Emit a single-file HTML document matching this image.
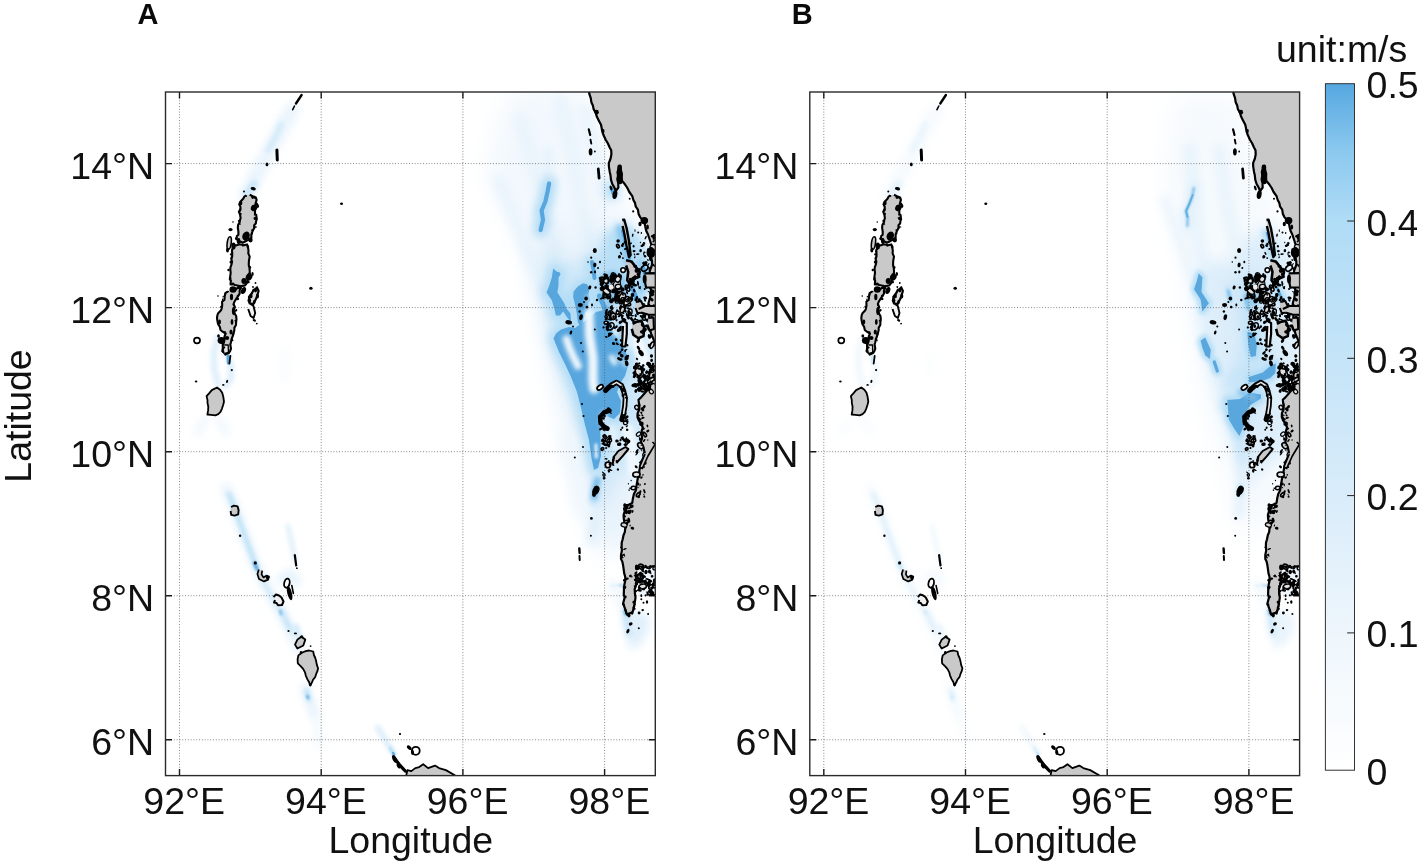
<!DOCTYPE html>
<html lang="en"><head><meta charset="utf-8"><title>Figure</title>
<style>
html,body{margin:0;padding:0;background:#fff;}
body{width:1417px;height:861px;overflow:hidden;}
svg{display:block;font-family:"Liberation Sans",Arial,sans-serif;}
.grid{stroke:#5a5a5a;stroke-width:0.8;stroke-dasharray:0.9 1.9;fill:none;}
.frame{fill:none;stroke:#2a2a2a;stroke-width:1.4;}
.tick{stroke:#1a1a1a;stroke-width:1.4;}
.tl{font-size:37.5px;fill:#111;}
.pl{font-size:29px;font-weight:bold;fill:#0a0a0a;}
.lg{fill:#c9c9c9;stroke:#000;stroke-width:1.8;stroke-linejoin:round;}
.ln{fill:none;stroke:#000;stroke-linecap:round;stroke-linejoin:round;}
.bk{fill:#000;stroke:none;}
</style></head><body>
<svg width="1417" height="861" viewBox="0 0 1417 861">
<defs>
<clipPath id="clipA"><rect x="165.5" y="92.0" width="489.79999999999995" height="683.6"/></clipPath>
<filter id="b07" filterUnits="userSpaceOnUse" x="120" y="50" width="580" height="780"><feGaussianBlur stdDeviation="0.7"/></filter>
<filter id="b1" filterUnits="userSpaceOnUse" x="120" y="50" width="580" height="780"><feGaussianBlur stdDeviation="1.2"/></filter>
<filter id="b2" filterUnits="userSpaceOnUse" x="120" y="50" width="580" height="780"><feGaussianBlur stdDeviation="2.2"/></filter>
<filter id="b4" filterUnits="userSpaceOnUse" x="120" y="50" width="580" height="780"><feGaussianBlur stdDeviation="4"/></filter>
<filter id="b7" filterUnits="userSpaceOnUse" x="120" y="50" width="580" height="780"><feGaussianBlur stdDeviation="7"/></filter>
<filter id="b12" filterUnits="userSpaceOnUse" x="120" y="50" width="580" height="780"><feGaussianBlur stdDeviation="12"/></filter>
<linearGradient id="cb" x1="0" y1="1" x2="0" y2="0">
<stop offset="0" stop-color="#ffffff"/><stop offset="0.2" stop-color="#eef6fc"/><stop offset="0.4" stop-color="#d9ecfa"/>
<stop offset="0.6" stop-color="#c5e4f8"/><stop offset="0.8" stop-color="#b0dcf6"/><stop offset="0.9" stop-color="#8cc9ef"/><stop offset="1" stop-color="#56a8e0"/>
</linearGradient>
</defs>
<rect width="1417" height="861" fill="#fff"/>

<g transform="translate(0,0)">
<g clip-path="url(#clipA)">
<path d="M512.0,88.0 L592.0,88.0 L612.0,160.0 L625.0,200.0 L640.0,230.0 L600.0,250.0 L560.0,250.0 L530.0,262.0 L505.0,215.0 L486.0,170.0 L498.0,122.0Z" fill="#f0f7fd" opacity="0.85" filter="url(#b12)"/>
<path d="M530.0,240.0 L560.0,235.0 L600.0,225.0 L648.0,235.0 L660.0,300.0 L660.0,480.0 L640.0,520.0 L622.0,548.0 L604.0,556.0 L592.0,530.0 L578.0,475.0 L564.0,425.0 L551.0,365.0 L541.0,315.0 L530.0,270.0Z" fill="#e6f2fb" opacity="0.95" filter="url(#b12)"/>
<path d="M520.0,120.0 L535.0,170.0 L548.0,215.0 L556.0,250.0" fill="none" stroke="#d9ecfa" stroke-width="12" stroke-linecap="round" stroke-linejoin="round" opacity="0.35" filter="url(#b4)"/>
<path d="M560.0,100.0 L572.0,150.0 L580.0,200.0 L590.0,240.0" fill="none" stroke="#d9ecfa" stroke-width="12" stroke-linecap="round" stroke-linejoin="round" opacity="0.35" filter="url(#b4)"/>
<path d="M498.0,180.0 L516.0,225.0 L532.0,262.0 L545.0,300.0" fill="none" stroke="#d9ecfa" stroke-width="12" stroke-linecap="round" stroke-linejoin="round" opacity="0.4" filter="url(#b4)"/>
<path d="M585.0,110.0 L598.0,160.0 L606.0,200.0" fill="none" stroke="#d9ecfa" stroke-width="10" stroke-linecap="round" stroke-linejoin="round" opacity="0.4" filter="url(#b4)"/>
<path d="M548.0,150.0 L548.0,165.0 L549.0,180.0" fill="none" stroke="#d9ecfa" stroke-width="6" stroke-linecap="round" stroke-linejoin="round" opacity="0.8" filter="url(#b4)"/>
<path d="M549.0,183.0 L545.0,202.0 L541.0,212.0 L541.0,232.0" fill="none" stroke="#d9ecfa" stroke-width="12" stroke-linecap="round" stroke-linejoin="round" opacity="0.6" filter="url(#b4)"/>
<path d="M548.0,240.0 L560.0,262.0 L585.0,262.0 L600.0,240.0 L625.0,225.0 L650.0,250.0 L658.0,330.0 L652.0,420.0 L640.0,460.0 L615.0,480.0 L603.0,508.0 L594.0,475.0 L582.0,432.0 L567.0,392.0 L552.0,347.0 L545.0,305.0 L546.0,270.0Z" fill="#c5e4f8" opacity="0.7" filter="url(#b7)"/>
<path d="M600.0,470.0 L598.0,495.0 L594.0,520.0 L592.0,540.0" fill="none" stroke="#d9ecfa" stroke-width="10" stroke-linecap="round" stroke-linejoin="round" opacity="0.8" filter="url(#b4)"/>
<path d="M570.0,440.0 L578.0,480.0 L584.0,510.0" fill="none" stroke="#eef6fc" stroke-width="16" stroke-linecap="round" stroke-linejoin="round" opacity="0.9" filter="url(#b7)"/>
<g opacity="0.95" filter="url(#b4)"><path d="M553.2,268.6 L556.9,271.7 L559.5,272.2 L560.6,274.3 L558.5,277.5 L558.5,285.3 L557.4,292.6 L561.6,298.9 L564.7,304.1 L566.3,308.3 L570.5,313.5 L571.0,321.9 L567.4,317.7 L563.2,311.4 L560.0,315.6 L555.9,315.6 L554.3,308.3 L551.7,299.9 L546.5,292.6 L548.5,287.4 L551.7,278.0Z" fill="#b0dcf6" stroke="#b0dcf6" stroke-width="10" stroke-linejoin="round"/><path d="M573.6,291.6 L577.8,286.4 L583.0,283.2 L587.2,284.3 L589.3,289.5 L588.3,294.7 L590.4,299.9 L588.3,304.1 L589.3,309.4 L585.1,313.5 L583.0,321.9 L585.1,328.2 L581.0,328.2 L577.8,321.9 L576.8,313.5 L574.7,303.1 L573.1,296.8Z" fill="#b0dcf6" stroke="#b0dcf6" stroke-width="10" stroke-linejoin="round"/><path d="M553.5,338.6 L556.0,333.5 L561.0,329.5 L569.0,327.0 L575.0,328.0 L582.0,323.0 L590.0,317.0 L596.0,312.0 L604.0,310.0 L609.0,316.0 L612.0,330.0 L618.0,340.0 L623.0,347.0 L627.0,355.0 L628.0,366.0 L625.0,376.0 L621.0,382.0 L617.0,392.0 L621.0,401.0 L620.0,413.0 L614.0,419.0 L606.0,416.0 L600.0,424.0 L600.5,440.0 L601.0,456.0 L598.0,468.0 L594.0,470.0 L591.5,458.0 L589.0,440.0 L585.0,425.0 L581.0,408.0 L577.0,392.0 L571.0,377.0 L565.0,364.0 L559.0,352.0Z" fill="#b0dcf6" stroke="#b0dcf6" stroke-width="10" stroke-linejoin="round"/><path d="M549.1,183.5 L547.5,192.0 L545.4,201.5 L541.6,210.5 L543.0,220.0 L540.6,230.0" fill="none" stroke="#b0dcf6" stroke-width="14.2" stroke-linecap="round" stroke-linejoin="round"/><path d="M599.5,296.0 L603.0,304.0 L606.0,312.0" fill="none" stroke="#b0dcf6" stroke-width="15" stroke-linecap="round" stroke-linejoin="round"/><path d="M592.0,262.0 L593.5,270.0 L594.5,278.0" fill="none" stroke="#b0dcf6" stroke-width="14" stroke-linecap="round" stroke-linejoin="round"/><path d="M622.5,231.0 L626.0,245.0 L629.5,258.0" fill="none" stroke="#b0dcf6" stroke-width="13" stroke-linecap="round" stroke-linejoin="round"/><path d="M643.0,268.0 L646.0,276.0" fill="none" stroke="#b0dcf6" stroke-width="14" stroke-linecap="round" stroke-linejoin="round"/><path d="M631.0,285.0 L636.0,297.0 L640.0,308.0" fill="none" stroke="#b0dcf6" stroke-width="14.5" stroke-linecap="round" stroke-linejoin="round"/><path d="M611.4,188.0 L613.0,193.0" fill="none" stroke="#b0dcf6" stroke-width="13.5" stroke-linecap="round" stroke-linejoin="round"/></g>
<path d="M606.0,232.0 L622.0,226.0 L640.0,236.0 L648.0,262.0 L646.0,296.0 L636.0,312.0 L622.0,306.0 L610.0,286.0 L600.0,262.0Z" fill="#b0dcf6" opacity="0.75" filter="url(#b4)"/>
<path d="M619.0,228.0 L624.0,246.0 L628.0,262.0" fill="none" stroke="#7fc0ea" stroke-width="6" stroke-linecap="round" stroke-linejoin="round" opacity="0.8" filter="url(#b2)"/>
<path d="M640.0,262.0 L645.0,275.0 L641.0,290.0" fill="none" stroke="#8cc9ef" stroke-width="6" stroke-linecap="round" stroke-linejoin="round" opacity="0.8" filter="url(#b2)"/>
<path d="M601.0,274.0 L612.0,270.0 L624.0,276.0 L626.0,290.0 L622.0,302.0 L610.0,304.0 L602.0,298.0 L599.0,286.0Z" fill="#7fc0ea" opacity="0.85" filter="url(#b2)"/>
<path d="M607.0,306.0 L609.0,322.0 L610.0,338.0" fill="none" stroke="#6fb6e6" stroke-width="6" stroke-linecap="round" stroke-linejoin="round" opacity="0.9" filter="url(#b2)"/>
<path d="M617.0,322.0 L618.0,342.0" fill="none" stroke="#7fc0ea" stroke-width="5" stroke-linecap="round" stroke-linejoin="round" opacity="0.85" filter="url(#b2)"/>
<g opacity="1" filter="url(#b07)"><path d="M553.2,268.6 L556.9,271.7 L559.5,272.2 L560.6,274.3 L558.5,277.5 L558.5,285.3 L557.4,292.6 L561.6,298.9 L564.7,304.1 L566.3,308.3 L570.5,313.5 L571.0,321.9 L567.4,317.7 L563.2,311.4 L560.0,315.6 L555.9,315.6 L554.3,308.3 L551.7,299.9 L546.5,292.6 L548.5,287.4 L551.7,278.0Z" fill="#58a6de"/><path d="M573.6,291.6 L577.8,286.4 L583.0,283.2 L587.2,284.3 L589.3,289.5 L588.3,294.7 L590.4,299.9 L588.3,304.1 L589.3,309.4 L585.1,313.5 L583.0,321.9 L585.1,328.2 L581.0,328.2 L577.8,321.9 L576.8,313.5 L574.7,303.1 L573.1,296.8Z" fill="#58a6de"/><path d="M553.5,338.6 L556.0,333.5 L561.0,329.5 L569.0,327.0 L575.0,328.0 L582.0,323.0 L590.0,317.0 L596.0,312.0 L604.0,310.0 L609.0,316.0 L612.0,330.0 L618.0,340.0 L623.0,347.0 L627.0,355.0 L628.0,366.0 L625.0,376.0 L621.0,382.0 L617.0,392.0 L621.0,401.0 L620.0,413.0 L614.0,419.0 L606.0,416.0 L600.0,424.0 L600.5,440.0 L601.0,456.0 L598.0,468.0 L594.0,470.0 L591.5,458.0 L589.0,440.0 L585.0,425.0 L581.0,408.0 L577.0,392.0 L571.0,377.0 L565.0,364.0 L559.0,352.0Z" fill="#58a6de"/><path d="M549.1,183.5 L547.5,192.0 L545.4,201.5 L541.6,210.5 L543.0,220.0 L540.6,230.0" fill="none" stroke="#58a6de" stroke-width="4.2" stroke-linecap="round" stroke-linejoin="round"/><path d="M599.5,296.0 L603.0,304.0 L606.0,312.0" fill="none" stroke="#58a6de" stroke-width="5" stroke-linecap="round" stroke-linejoin="round"/><path d="M592.0,262.0 L593.5,270.0 L594.5,278.0" fill="none" stroke="#58a6de" stroke-width="4" stroke-linecap="round" stroke-linejoin="round"/><path d="M622.5,231.0 L626.0,245.0 L629.5,258.0" fill="none" stroke="#58a6de" stroke-width="3" stroke-linecap="round" stroke-linejoin="round"/><path d="M643.0,268.0 L646.0,276.0" fill="none" stroke="#58a6de" stroke-width="4" stroke-linecap="round" stroke-linejoin="round"/><path d="M631.0,285.0 L636.0,297.0 L640.0,308.0" fill="none" stroke="#58a6de" stroke-width="4.5" stroke-linecap="round" stroke-linejoin="round"/><path d="M611.4,188.0 L613.0,193.0" fill="none" stroke="#58a6de" stroke-width="3.5" stroke-linecap="round" stroke-linejoin="round"/></g>
<g opacity="1" filter="url(#b2)"><path d="M566.5,339.0 L569.5,348.0 L573.5,357.0 L578.0,366.0" fill="none" stroke="#eef7fd" stroke-width="7.5" stroke-linecap="round" stroke-linejoin="round" opacity="1"/><path d="M589.0,313.0 L589.5,335.0 L593.0,358.0 L593.0,381.0 L594.0,389.0" fill="none" stroke="#eef7fd" stroke-width="9.5" stroke-linecap="round" stroke-linejoin="round" opacity="1"/><path d="M611.5,357.0 L614.5,363.0" fill="none" stroke="#eef7fd" stroke-width="5" stroke-linecap="round" stroke-linejoin="round" opacity="1"/><path d="M588.0,296.0 L590.0,310.0" fill="none" stroke="#d0e8f9" stroke-width="3" stroke-linecap="round" stroke-linejoin="round" opacity="1"/><path d="M604.0,414.0 L603.0,422.0" fill="none" stroke="#d8ecfa" stroke-width="6" stroke-linecap="round" stroke-linejoin="round" opacity="1"/><path d="M618.0,356.0 L626.0,366.0" fill="none" stroke="#cfe8f9" stroke-width="3" stroke-linecap="round" stroke-linejoin="round" opacity="1"/></g>
<path d="M613.0,316.0 L616.0,334.0" fill="none" stroke="#e4f2fc" stroke-width="6" stroke-linecap="round" stroke-linejoin="round" opacity="0.9" filter="url(#b2)"/>
<path d="M628.5,326.0 L630.0,345.0" fill="none" stroke="#e4f2fc" stroke-width="5" stroke-linecap="round" stroke-linejoin="round" opacity="0.9" filter="url(#b2)"/>
<path d="M638.0,342.0 L644.0,362.0" fill="none" stroke="#f4fafe" stroke-width="12" stroke-linecap="round" stroke-linejoin="round" opacity="0.95" filter="url(#b2)"/>
<path d="M648.0,300.0 L652.0,340.0" fill="none" stroke="#f4fafe" stroke-width="8" stroke-linecap="round" stroke-linejoin="round" opacity="0.9" filter="url(#b2)"/>
<path d="M628.0,430.0 L634.0,470.0" fill="none" stroke="#f2f9fe" stroke-width="12" stroke-linecap="round" stroke-linejoin="round" opacity="0.9" filter="url(#b2)"/>
<path d="M612.0,428.0 L616.0,446.0" fill="none" stroke="#e8f4fc" stroke-width="7" stroke-linecap="round" stroke-linejoin="round" opacity="0.8" filter="url(#b2)"/>
<path d="M596.0,445.0 L596.3,457.0" fill="none" stroke="#d9ecfa" stroke-width="3.4" stroke-linecap="round" stroke-linejoin="round" opacity="0.95" filter="url(#b1)"/>
<path d="M598.0,476.0 L595.5,488.0 L594.0,500.0" fill="none" stroke="#c5e4f8" stroke-width="11" stroke-linecap="round" stroke-linejoin="round" opacity="0.9" filter="url(#b2)"/>
<path d="M597.5,480.0 L595.5,488.0 L594.5,497.0" fill="none" stroke="#6fb6e6" stroke-width="6" stroke-linecap="round" stroke-linejoin="round" opacity="0.9" filter="url(#b2)"/>
<path d="M623.0,606.0 L630.0,610.0 L640.0,612.0 L650.0,616.0 L648.0,632.0 L640.0,645.0 L630.0,650.0 L626.0,636.0 L622.0,620.0Z" fill="#d9ecfa" opacity="0.8" filter="url(#b4)"/>
<path d="M625.0,610.0 L627.0,622.0 L629.0,634.0" fill="none" stroke="#c5e4f8" stroke-width="6" stroke-linecap="round" stroke-linejoin="round" opacity="0.85" filter="url(#b2)"/>
<path d="M624.8,610.5 L626.0,614.0" fill="none" stroke="#58a6de" stroke-width="3.4" stroke-linecap="round" stroke-linejoin="round" opacity="0.95" filter="url(#b1)"/>
<path d="M612.0,585.4 L623.0,585.4" fill="none" stroke="#c5e4f8" stroke-width="2.4" stroke-linecap="round" stroke-linejoin="round" opacity="0.9" filter="url(#b1)"/>
<path d="M619.0,585.4 L623.0,585.4" fill="none" stroke="#7fc0ea" stroke-width="2.0" stroke-linecap="round" stroke-linejoin="round" opacity="0.9" filter="url(#b1)"/>
<path d="M612.0,585.0 L624.0,596.0 L621.0,604.0" fill="none" stroke="#eef6fc" stroke-width="12" stroke-linecap="round" stroke-linejoin="round" opacity="0.8" filter="url(#b4)"/>
<path d="M246.0,196.0 L258.0,172.0 L270.0,150.0 L282.0,128.0 L292.0,110.0" fill="none" stroke="#d9ecfa" stroke-width="15" stroke-linecap="round" stroke-linejoin="round" opacity="0.55" filter="url(#b4)"/>
<path d="M268.0,150.0 L276.0,136.0 L281.0,124.0" fill="none" stroke="#c5e4f8" stroke-width="6" stroke-linecap="round" stroke-linejoin="round" opacity="0.6" filter="url(#b2)"/>
<path d="M247.0,194.0 L254.0,184.0" fill="none" stroke="#c5e4f8" stroke-width="8" stroke-linecap="round" stroke-linejoin="round" opacity="0.8" filter="url(#b2)"/>
<path d="M218.0,338.0 L214.0,352.0 L214.0,368.0 L218.0,384.0" fill="none" stroke="#d9ecfa" stroke-width="7" stroke-linecap="round" stroke-linejoin="round" opacity="0.8" filter="url(#b2)"/>
<path d="M226.0,352.0 L231.0,366.0 L231.0,378.0 L226.0,386.0" fill="none" stroke="#d9ecfa" stroke-width="6" stroke-linecap="round" stroke-linejoin="round" opacity="0.9" filter="url(#b2)"/>
<path d="M228.3,356.5 L228.6,363.0" fill="none" stroke="#58a6de" stroke-width="3.6" stroke-linecap="round" stroke-linejoin="round" opacity="1.0" filter="url(#b07)"/>
<path d="M205.0,420.0 L198.0,432.0" fill="none" stroke="#eef6fc" stroke-width="8" stroke-linecap="round" stroke-linejoin="round" opacity="0.9" filter="url(#b4)"/>
<path d="M218.0,418.0 L226.0,432.0" fill="none" stroke="#eef6fc" stroke-width="8" stroke-linecap="round" stroke-linejoin="round" opacity="0.9" filter="url(#b4)"/>
<path d="M285.0,350.0 L285.0,380.0" fill="none" stroke="#eef6fc" stroke-width="5" stroke-linecap="round" stroke-linejoin="round" opacity="0.7" filter="url(#b4)"/>
<path d="M226.0,488.0 L234.0,506.0 L246.0,540.0 L256.0,566.0 L268.0,590.0 L281.0,612.0 L292.0,634.0 L300.0,650.0" fill="none" stroke="#d9ecfa" stroke-width="8.5" stroke-linecap="round" stroke-linejoin="round" opacity="0.72" filter="url(#b4)"/>
<path d="M229.0,494.0 L236.0,512.0 L247.0,542.0 L256.0,566.0" fill="none" stroke="#b0dcf6" stroke-width="4.5" stroke-linecap="round" stroke-linejoin="round" opacity="0.85" filter="url(#b2)"/>
<path d="M256.0,566.0 L268.0,590.0 L281.0,612.0 L291.0,632.0" fill="none" stroke="#c5e4f8" stroke-width="3.5" stroke-linecap="round" stroke-linejoin="round" opacity="0.8" filter="url(#b2)"/>
<path d="M254.5,563.0 L257.0,569.0" fill="none" stroke="#58a6de" stroke-width="3.5" stroke-linecap="round" stroke-linejoin="round" opacity="0.95" filter="url(#b1)"/>
<path d="M280.5,611.0 L281.5,614.0" fill="none" stroke="#58a6de" stroke-width="3" stroke-linecap="round" stroke-linejoin="round" opacity="0.8" filter="url(#b1)"/>
<path d="M288.0,526.0 L292.0,545.0 L295.0,560.0" fill="none" stroke="#d9ecfa" stroke-width="5" stroke-linecap="round" stroke-linejoin="round" opacity="0.8" filter="url(#b2)"/>
<path d="M282.0,580.0 L290.0,574.0 L296.0,582.0" fill="none" stroke="#d9ecfa" stroke-width="10" stroke-linecap="round" stroke-linejoin="round" opacity="0.7" filter="url(#b4)"/>
<path d="M305.0,688.0 L310.0,702.0 L315.0,716.0" fill="none" stroke="#d9ecfa" stroke-width="8" stroke-linecap="round" stroke-linejoin="round" opacity="0.8" filter="url(#b4)"/>
<path d="M316.0,722.0 L320.0,745.0" fill="none" stroke="#eef6fc" stroke-width="7" stroke-linecap="round" stroke-linejoin="round" opacity="0.8" filter="url(#b4)"/>
<path d="M306.5,690.0 L309.0,700.0" fill="none" stroke="#b0dcf6" stroke-width="4" stroke-linecap="round" stroke-linejoin="round" opacity="0.9" filter="url(#b2)"/>
<path d="M307.5,696.0 L308.0,698.0" fill="none" stroke="#58a6de" stroke-width="2.6" stroke-linecap="round" stroke-linejoin="round" opacity="0.9" filter="url(#b1)"/>
<path d="M296.0,626.0 L300.0,640.0" fill="none" stroke="#c5e4f8" stroke-width="5" stroke-linecap="round" stroke-linejoin="round" opacity="0.8" filter="url(#b2)"/>
<path d="M283.0,612.0 L290.0,628.0" fill="none" stroke="#c5e4f8" stroke-width="5" stroke-linecap="round" stroke-linejoin="round" opacity="0.7" filter="url(#b2)"/>
<path d="M378.0,728.0 L386.0,741.0 L393.6,753.5" fill="none" stroke="#d9ecfa" stroke-width="6" stroke-linecap="round" stroke-linejoin="round" opacity="0.9" filter="url(#b2)"/>
<path d="M390.0,748.0 L393.8,754.0" fill="none" stroke="#b0dcf6" stroke-width="3" stroke-linecap="round" stroke-linejoin="round" opacity="0.9" filter="url(#b1)"/>
<path d="M393.0,753.0 L394.0,754.5" fill="none" stroke="#58a6de" stroke-width="2.5" stroke-linecap="round" stroke-linejoin="round" opacity="0.9" filter="url(#b07)"/>
<line class="grid" x1="179.5" y1="92.0" x2="179.5" y2="775.6"/>
<line class="grid" x1="321.2" y1="92.0" x2="321.2" y2="775.6"/>
<line class="grid" x1="462.9" y1="92.0" x2="462.9" y2="775.6"/>
<line class="grid" x1="604.6" y1="92.0" x2="604.6" y2="775.6"/>
<line class="grid" x1="165.5" y1="163.6" x2="655.3" y2="163.6"/>
<line class="grid" x1="165.5" y1="307.6" x2="655.3" y2="307.6"/>
<line class="grid" x1="165.5" y1="451.7" x2="655.3" y2="451.7"/>
<line class="grid" x1="165.5" y1="595.7" x2="655.3" y2="595.7"/>
<line class="grid" x1="165.5" y1="739.75" x2="655.3" y2="739.75"/>
<line class="tick" x1="179.5" y1="92.0" x2="179.5" y2="98.5"/>
<line class="tick" x1="179.5" y1="775.6" x2="179.5" y2="769.1"/>
<line class="tick" x1="321.2" y1="92.0" x2="321.2" y2="98.5"/>
<line class="tick" x1="321.2" y1="775.6" x2="321.2" y2="769.1"/>
<line class="tick" x1="462.9" y1="92.0" x2="462.9" y2="98.5"/>
<line class="tick" x1="462.9" y1="775.6" x2="462.9" y2="769.1"/>
<line class="tick" x1="604.6" y1="92.0" x2="604.6" y2="98.5"/>
<line class="tick" x1="604.6" y1="775.6" x2="604.6" y2="769.1"/>
<line class="tick" x1="165.5" y1="163.6" x2="172.0" y2="163.6"/>
<line class="tick" x1="655.3" y1="163.6" x2="648.8" y2="163.6"/>
<line class="tick" x1="165.5" y1="307.6" x2="172.0" y2="307.6"/>
<line class="tick" x1="655.3" y1="307.6" x2="648.8" y2="307.6"/>
<line class="tick" x1="165.5" y1="451.7" x2="172.0" y2="451.7"/>
<line class="tick" x1="655.3" y1="451.7" x2="648.8" y2="451.7"/>
<line class="tick" x1="165.5" y1="595.7" x2="172.0" y2="595.7"/>
<line class="tick" x1="655.3" y1="595.7" x2="648.8" y2="595.7"/>
<line class="tick" x1="165.5" y1="739.75" x2="172.0" y2="739.75"/>
<line class="tick" x1="655.3" y1="739.75" x2="648.8" y2="739.75"/>
<g><path class="lg" d="M588.8,91.0 L589.4,94.2 L590.7,97.9 L591.4,102.2 L592.9,105.5 L593.6,109.1 L595.7,112.6 L596.8,116.6 L598.6,120.2 L601.0,124.8 L601.8,128.8 L602.2,131.4 L603.6,135.3 L605.8,140.0 L607.8,143.3 L609.7,147.5 L611.2,150.3 L611.4,154.4 L610.6,158.5 L608.8,163.1 L608.9,166.6 L609.7,171.7 L610.5,175.3 L611.0,179.8 L612.3,184.0 L614.2,187.3 L615.8,191.0 L618.4,187.5 L618.2,183.0 L617.3,179.3 L618.0,175.7 L617.5,171.9 L620.1,165.8 L620.7,169.8 L621.9,173.6 L621.8,176.8 L621.9,180.6 L624.9,184.3 L627.1,187.5 L629.3,192.0 L632.3,196.2 L633.5,200.2 L635.0,202.9 L635.8,206.7 L637.9,209.6 L638.6,214.0 L640.1,217.1 L644.5,222.4 L645.2,226.4 L646.2,230.7 L648.0,234.5 L650.0,240.5 L651.4,244.8 L652.0,248.8 L650.0,252.0 L651.0,258.0 L652.0,261.2 L652.0,265.0 L649.7,271.0 L650.0,274.6 L649.8,277.9 L650.2,282.1 L649.7,285.0 L651.0,290.0 L650.5,294.2 L650.0,298.0 L648.5,303.0 L648.1,307.8 L649.0,312.0 L649.0,317.7 L648.5,322.0 L649.7,325.7 L650.0,330.0 L651.3,334.2 L653.0,338.0 L654.3,341.4 L657.0,345.0 L656.5,348.5 L656.4,353.4 L656.5,356.6 L656.8,361.5 L657.0,365.0 L652.9,367.4 L650.0,370.0 L649.1,375.5 L648.0,380.0 L649.4,384.5 L650.0,388.0 L646.7,390.9 L644.0,394.0 L641.1,397.4 L638.5,399.7 L639.3,406.6 L639.3,409.6 L637.6,413.2 L637.5,417.0 L638.9,420.5 L641.2,423.7 L642.8,427.5 L641.7,430.9 L641.7,434.6 L642.1,438.3 L641.0,441.5 L642.2,445.1 L643.6,447.8 L644.5,451.9 L643.9,455.7 L642.7,459.1 L641.0,462.0 L640.3,466.1 L639.3,470.7 L639.3,474.8 L637.8,478.1 L637.1,482.2 L636.5,485.9 L635.8,490.5 L633.9,494.1 L632.9,498.4 L632.3,502.7 L628.6,505.0 L626.2,506.2 L625.1,510.1 L623.6,514.9 L623.8,518.8 L624.5,522.5 L625.3,527.1 L624.9,531.9 L623.5,535.2 L622.7,539.3 L621.7,542.6 L621.6,546.8 L621.9,550.5 L621.0,554.9 L621.0,559.0 L622.3,561.4 L623.0,564.7 L623.6,568.9 L624.2,573.4 L625.2,576.8 L625.3,580.3 L624.3,585.2 L623.9,590.5 L623.8,594.5 L624.6,597.7 L623.1,603.5 L625.3,609.3 L626.8,614.4 L632.6,612.2 L634.0,606.4 L634.8,602.4 L635.5,597.7 L634.9,593.0 L634.7,589.0 L636.9,583.2 L636.6,578.8 L635.5,573.1 L638.9,571.3 L641.3,568.7 L646.8,567.9 L651.4,566.5 L657.3,565.8 L657.3,91.0" style="stroke-width:2.2"/>
<path class="lg" d="M249.7,194.8 L252.7,196.2 L255.8,197.4 L256.6,199.9 L255.8,202.8 L255.2,205.3 L256.1,208.4 L255.0,210.1 L255.0,213.7 L256.2,214.8 L256.8,219.2 L256.1,221.1 L255.8,223.5 L254.2,225.3 L254.1,228.2 L252.5,231.4 L251.3,234.6 L251.4,237.5 L248.4,239.9 L245.6,241.2 L242.7,242.7 L239.6,241.3 L236.6,239.2 L236.9,236.0 L238.4,234.8 L238.4,231.5 L237.8,227.8 L238.1,224.8 L239.5,222.7 L240.0,220.0 L240.6,218.2 L240.1,214.8 L238.9,211.6 L240.5,209.5 L240.4,206.8 L239.2,204.4 L240.1,202.0 L243.2,198.7 L244.4,196.5 L246.2,195.3" style="stroke-width:2.1"/>
<path class="lg" d="M234.0,245.3 L236.5,245.4 L239.5,244.2 L240.8,244.5 L243.9,245.2 L247.0,244.4 L248.1,247.7 L248.5,250.8 L248.3,253.4 L249.7,256.6 L249.0,260.2 L248.8,262.8 L248.8,265.4 L249.4,267.6 L249.7,270.6 L249.7,272.7 L247.5,277.5 L247.7,278.9 L247.0,282.8 L245.0,285.4 L241.0,286.2 L237.6,285.6 L235.0,285.0 L233.4,284.3 L230.5,284.5 L230.9,280.7 L229.8,279.3 L230.3,275.6 L230.7,272.9 L230.3,269.1 L230.5,267.1 L231.3,265.2 L232.1,261.8 L231.2,258.4 L232.2,256.2 L232.2,253.1 L232.0,250.0 L233.1,247.9" style="stroke-width:2.1"/>
<path class="lg" d="M230.5,288.8 L232.6,289.0 L236.1,289.1 L237.7,287.7 L241.0,288.0 L239.6,290.2 L239.7,293.5 L238.6,295.4 L236.7,298.1 L234.7,301.2 L233.6,303.9 L234.9,307.2 L233.9,309.6 L234.8,313.8 L236.2,316.1 L236.5,319.5 L236.1,322.1 L236.0,325.0 L234.3,327.9 L234.4,330.0 L233.5,333.6 L232.8,336.0 L231.6,339.0 L231.0,342.2 L230.3,344.4 L231.0,348.7 L230.1,351.0 L228.9,353.1 L225.7,354.4 L222.2,351.0 L222.9,348.6 L222.7,345.5 L224.0,342.2 L224.5,338.7 L224.5,336.4 L225.7,333.5 L222.6,331.7 L220.5,330.0 L219.8,326.8 L218.0,323.9 L217.3,320.4 L217.0,317.9 L217.4,315.1 L218.2,313.2 L221.0,310.2 L221.6,308.8 L222.2,305.4 L222.1,301.6 L224.4,300.0 L224.8,295.6 L225.3,293.2 L227.7,291.7" style="stroke-width:2.1"/>
<path class="lg" d="M217.0,387.5 L220.1,389.7 L222.2,392.8 L223.3,396.8 L224.0,401.5 L223.3,404.5 L222.0,408.6 L220.5,411.9 L218.3,414.1 L215.3,415.4 L211.1,414.8 L207.4,414.5 L208.1,410.4 L208.3,406.7 L207.5,402.9 L207.5,400.1 L206.6,396.2 L209.5,392.9 L211.8,390.1Z" />
<path class="ln" d="M292.7,109.7 L294.5,106.0" stroke-width="1.6"/>
<path class="ln" d="M296.0,103.5 L301.6,95.0" stroke-width="2.4"/>
<path class="ln" d="M276.9,150.0 L277.3,160.0" stroke-width="3"/>
<ellipse class="bk" cx="267.0" cy="164.4" rx="1.4" ry="1.9" />
<ellipse class="bk" cx="253.2" cy="188.7" rx="2.6" ry="1.6" transform="rotate(10 253.2 188.7)" />
<ellipse class="bk" cx="244.0" cy="191.5" rx="1.0" ry="1.0" />
<ellipse class="lg" cx="229.2" cy="243.0" rx="2.0" ry="6.3" transform="rotate(8 229.2 243.0)" style="stroke-width:1.6"/>
<ellipse class="bk" cx="230.5" cy="229.6" rx="2.1" ry="1.7" />
<ellipse class="bk" cx="233.0" cy="222.0" rx="0.8" ry="0.8" />
<ellipse class="bk" cx="218.0" cy="296.0" rx="0.8" ry="0.8" />
<ellipse class="bk" cx="253.5" cy="208.0" rx="2.6" ry="3.2" transform="rotate(20 253.5 208.0)" />
<ellipse class="bk" cx="257.5" cy="206.0" rx="1.6" ry="2.0" />
<ellipse class="bk" cx="246.0" cy="236.0" rx="3.6" ry="4.6" transform="rotate(25 246.0 236.0)" />
<ellipse class="bk" cx="250.5" cy="240.0" rx="2.2" ry="2.4" />
<ellipse class="bk" cx="238.5" cy="241.0" rx="1.8" ry="3.0" />
<ellipse class="bk" cx="233.5" cy="246.0" rx="2.2" ry="3.5" />
<ellipse class="bk" cx="227.5" cy="250.0" rx="1.5" ry="2.5" />
<ellipse class="bk" cx="249.0" cy="277.0" rx="3.2" ry="3.6" transform="rotate(30 249.0 277.0)" />
<ellipse class="bk" cx="244.0" cy="281.0" rx="2.6" ry="3.0" />
<ellipse class="bk" cx="252.5" cy="274.0" rx="1.2" ry="2.0" />
<ellipse class="bk" cx="233.0" cy="289.5" rx="3.5" ry="3.2" />
<ellipse class="bk" cx="243.5" cy="290.5" rx="2.4" ry="3.6" transform="rotate(20 243.5 290.5)" />
<ellipse class="bk" cx="231.5" cy="297.0" rx="1.6" ry="3.2" />
<ellipse class="bk" cx="241.0" cy="203.0" rx="1.3" ry="2.2" />
<ellipse class="bk" cx="240.0" cy="210.0" rx="1.2" ry="1.8" />
<ellipse class="bk" cx="230.8" cy="262.0" rx="1.3" ry="1.6" />
<ellipse class="bk" cx="228.5" cy="270.0" rx="1.2" ry="1.2" />
<ellipse class="bk" cx="233.5" cy="311.0" rx="1.6" ry="4.0" />
<ellipse class="bk" cx="232.0" cy="322.0" rx="1.4" ry="3.0" />
<ellipse class="bk" cx="219.5" cy="322.0" rx="1.5" ry="2.4" />
<ellipse class="bk" cx="221.4" cy="340.5" rx="3.8" ry="3.4" />
<ellipse class="bk" cx="227.0" cy="338.0" rx="2.2" ry="2.0" />
<ellipse class="bk" cx="231.0" cy="332.0" rx="1.6" ry="2.6" />
<ellipse class="bk" cx="218.5" cy="336.0" rx="1.4" ry="1.8" />
<path class="lg" d="M224.2,345.0 L228.2,345.0 L228.4,352.5 L224.6,353.5" style="fill:#e4e4e4;stroke-width:1.3"/>
<path class="lg" d="M256.5,286.5 L258.6,291.0 L256.4,298.0 L253.4,304.0 L249.6,303.4 L249.0,297.0 L252.0,293.0 L254.0,289.0" style="stroke-width:2.2;fill:#ddd"/>
<path class="lg" d="M250.0,303.5 L253.5,306.0 L255.2,313.0 L253.6,318.0 L250.6,316.0 L248.2,309.0" style="stroke-width:1.9;fill:#f4f4f4"/>
<ellipse class="bk" cx="257.5" cy="296.0" rx="1.5" ry="2.5" />
<ellipse class="bk" cx="251.0" cy="296.0" rx="1.6" ry="2.2" />
<ellipse class="bk" cx="255.5" cy="290.0" rx="1.6" ry="2.4" />
<ellipse class="bk" cx="249.3" cy="300.5" rx="1.8" ry="2.4" />
<ellipse class="bk" cx="254.2" cy="302.0" rx="1.3" ry="2.0" />
<ellipse class="bk" cx="255.5" cy="283.0" rx="0.9" ry="0.9" />
<ellipse class="bk" cx="253.0" cy="287.0" rx="0.9" ry="0.9" />
<ellipse class="bk" cx="254.3" cy="320.3" rx="1.7" ry="1.2" transform="rotate(30 254.3 320.3)" />
<ellipse class="bk" cx="256.8" cy="323.6" rx="0.9" ry="0.9" />
<ellipse class="lg" cx="197.0" cy="340.5" rx="3.0" ry="2.8" style="stroke-width:1.7;fill:#fff"/>
<ellipse class="bk" cx="196.1" cy="381.4" rx="1.3" ry="1.0" />
<path class="ln" d="M230.4,356.0 L229.4,363.5" stroke-width="1.8"/>
<ellipse class="bk" cx="231.8" cy="370.1" rx="1.1" ry="1.1" />
<ellipse class="bk" cx="227.1" cy="381.4" rx="1.0" ry="1.6" transform="rotate(20 227.1 381.4)" />
<ellipse class="bk" cx="223.3" cy="384.9" rx="1.2" ry="0.9" />
<path class="lg" d="M231.0,507.0 L234.0,505.6 L237.6,506.4 L238.6,510.0 L238.2,514.4 L234.6,515.6 L231.2,514.8 L230.6,511.0" style="stroke-width:1.9"/>
<ellipse class="bk" cx="240.1" cy="535.7" rx="1.2" ry="1.2" />
<ellipse class="bk" cx="255.3" cy="562.9" rx="1.6" ry="1.6" />
<path class="lg" d="M258.8,569.5 L257.4,574.0 L259.0,579.0 L264.0,581.4 L268.2,579.6 L269.0,576.6 L266.6,575.6 L263.4,577.4 L261.6,574.4 L262.2,570.6" style="stroke-width:1.7"/>
<ellipse class="bk" cx="267.6" cy="577.6" rx="1.8" ry="1.8" />
<path class="ln" d="M294.8,555.0 L296.2,565.5" stroke-width="2.2"/>
<ellipse class="bk" cx="296.9" cy="568.2" rx="0.9" ry="0.9" />
<ellipse class="lg" cx="286.9" cy="583.2" rx="2.7" ry="4.6" transform="rotate(12 286.9 583.2)" style="stroke-width:1.8;fill:#fff"/>
<ellipse class="bk" cx="289.6" cy="593.2" rx="2.3" ry="7.2" transform="rotate(-14 289.6 593.2)" />
<path class="ln" d="M291.8,585.5 L293.4,593.5" stroke-width="1.6"/>
<path class="lg" d="M273.5,597.0 L276.0,594.5 L279.0,595.5 L281.5,597.5 L283.5,601.5 L282.0,605.0 L278.0,605.2 L276.5,603.0 L274.0,602.5 L275.0,600.0" style="stroke-width:2;fill:#f0f0f0"/>
<ellipse class="bk" cx="288.5" cy="631.0" rx="1.1" ry="1.1" />
<ellipse class="bk" cx="295.4" cy="633.4" rx="1.6" ry="0.9" />
<path class="lg" d="M301.3,636.7 L305.3,639.6 L303.3,645.5 L297.4,648.5 L295.0,644.6 L297.4,639.6Z" />
<ellipse class="bk" cx="301.8" cy="636.8" rx="1.5" ry="1.5" />
<ellipse class="bk" cx="310.6" cy="646.1" rx="0.9" ry="0.9" />
<path class="lg" d="M309.2,650.5 L313.2,651.5 L313.9,655.0 L315.3,658.0 L316.2,661.3 L316.9,665.1 L318.1,668.3 L317.4,671.2 L316.2,673.9 L315.2,677.1 L313.0,679.8 L312.0,682.3 L310.2,685.5 L309.0,682.0 L307.3,679.1 L305.7,675.3 L305.1,672.7 L303.3,669.2 L300.9,666.4 L297.8,663.3 L297.6,659.2 L298.4,655.4 L302.3,652.5 L305.7,651.1Z" />
<ellipse class="bk" cx="310.3" cy="684.6" rx="1.4" ry="1.6" />
<ellipse class="bk" cx="301.0" cy="652.2" rx="1.2" ry="1.2" />
<path class="lg" d="M405.9,777.0 L407.4,770.1 L411.3,771.1 L415.3,768.1 L419.2,767.1 L423.2,764.2 L428.1,768.1 L435.0,765.6 L439.0,768.1 L445.9,770.1 L454.8,775.2 L456.0,777.0Z" />
<ellipse class="lg" cx="415.8" cy="750.8" rx="3.9" ry="4.0" style="stroke-width:1.8;fill:#fff"/>
<ellipse class="bk" cx="409.2" cy="747.6" rx="2.8" ry="1.7" transform="rotate(40 409.2 747.6)" />
<ellipse class="bk" cx="412.5" cy="752.5" rx="1.5" ry="2.4" />
<path class="ln" d="M393.6,756.6 L396.6,761.0 L400.0,765.4 L403.0,768.6 L405.2,771.0" stroke-width="3.2"/>
<ellipse class="bk" cx="394.6" cy="759.5" rx="1.8" ry="3.4" transform="rotate(-30 394.6 759.5)" />
<ellipse class="bk" cx="398.6" cy="766.0" rx="1.6" ry="2.8" transform="rotate(-35 398.6 766.0)" />
<ellipse class="bk" cx="400.0" cy="734.0" rx="1.2" ry="1.0" />
<path class="ln" d="M588.8,129.4 L590.2,135.0" stroke-width="2.2"/>
<path class="ln" d="M590.5,139.8 L591.3,143.6" stroke-width="1.9"/>
<ellipse class="bk" cx="590.6" cy="151.8" rx="1.9" ry="3.6" />
<ellipse class="bk" cx="594.9" cy="151.5" rx="0.9" ry="0.9" />
<path class="ln" d="M598.3,169.0 L599.1,178.2" stroke-width="2.8"/>
<path class="ln" d="M619.6,166.8 L619.4,175.0 L620.2,182.0" stroke-width="4.6"/>
<ellipse class="bk" cx="596.6" cy="112.2" rx="2.2" ry="2.4" />
<ellipse class="bk" cx="603.3" cy="131.0" rx="1.2" ry="2.0" />
<ellipse class="bk" cx="614.9" cy="194.6" rx="2.4" ry="4.4" transform="rotate(10 614.9 194.6)" />
<ellipse class="bk" cx="611.0" cy="188.0" rx="1.2" ry="2.6" transform="rotate(-20 611.0 188.0)" />
<ellipse class="bk" cx="629.7" cy="198.8" rx="1.0" ry="1.0" />
<ellipse class="bk" cx="633.2" cy="211.4" rx="1.1" ry="1.1" />
<ellipse class="bk" cx="644.3" cy="220.6" rx="3.8" ry="3.6" />
<ellipse class="bk" cx="640.0" cy="224.0" rx="1.6" ry="2.2" />
<ellipse class="bk" cx="647.5" cy="227.0" rx="1.4" ry="2.6" />
<ellipse class="bk" cx="638.2" cy="232.5" rx="1.0" ry="1.0" />
<path class="lg" d="M622.2,220.0 L624.2,219.6 L626.6,228.0 L628.8,240.0 L630.6,255.0 L629.0,257.0 L626.6,246.0 L624.4,234.0 L622.6,226.0" style="stroke-width:2.4;fill:#d0d0d0"/>
<ellipse class="bk" cx="310.9" cy="288.2" rx="1.7" ry="1.5" />
<ellipse class="bk" cx="341.5" cy="203.7" rx="1.5" ry="1.3" />
<ellipse class="bk" cx="236.0" cy="238.4" rx="1.4" ry="1.0" transform="rotate(119 236.0 238.4)" />
<ellipse class="bk" cx="255.0" cy="214.8" rx="1.2" ry="0.8" transform="rotate(175 255.0 214.8)" />
<ellipse class="bk" cx="254.9" cy="197.7" rx="1.3" ry="0.9" transform="rotate(85 254.9 197.7)" />
<ellipse class="bk" cx="254.8" cy="227.7" rx="0.8" ry="1.0" transform="rotate(55 254.8 227.7)" />
<ellipse class="bk" cx="256.7" cy="204.0" rx="1.2" ry="1.4" transform="rotate(71 256.7 204.0)" />
<ellipse class="bk" cx="252.4" cy="233.5" rx="1.2" ry="0.6" transform="rotate(84 252.4 233.5)" />
<ellipse class="bk" cx="238.9" cy="239.5" rx="1.2" ry="0.6" transform="rotate(102 238.9 239.5)" />
<ellipse class="bk" cx="254.5" cy="207.5" rx="0.7" ry="0.7" transform="rotate(123 254.5 207.5)" />
<ellipse class="bk" cx="238.9" cy="220.9" rx="1.0" ry="1.0" transform="rotate(158 238.9 220.9)" />
<ellipse class="bk" cx="255.9" cy="226.9" rx="1.2" ry="0.6" transform="rotate(15 255.9 226.9)" />
<ellipse class="bk" cx="252.6" cy="197.5" rx="1.4" ry="1.4" transform="rotate(21 252.6 197.5)" />
<ellipse class="bk" cx="239.7" cy="223.9" rx="1.3" ry="0.7" transform="rotate(32 239.7 223.9)" />
<ellipse class="bk" cx="240.6" cy="214.2" rx="1.0" ry="1.4" transform="rotate(25 240.6 214.2)" />
<ellipse class="bk" cx="246.1" cy="195.8" rx="0.7" ry="1.1" transform="rotate(124 246.1 195.8)" />
<ellipse class="bk" cx="252.3" cy="230.0" rx="1.3" ry="0.7" transform="rotate(169 252.3 230.0)" />
<ellipse class="bk" cx="255.0" cy="218.4" rx="1.5" ry="1.4" transform="rotate(57 255.0 218.4)" />
<ellipse class="bk" cx="248.0" cy="246.5" rx="1.2" ry="1.1" transform="rotate(69 248.0 246.5)" />
<ellipse class="bk" cx="232.9" cy="283.6" rx="1.1" ry="1.2" transform="rotate(94 232.9 283.6)" />
<ellipse class="bk" cx="232.2" cy="257.9" rx="0.8" ry="0.7" transform="rotate(146 232.2 257.9)" />
<ellipse class="bk" cx="230.8" cy="278.7" rx="1.1" ry="0.8" transform="rotate(95 230.8 278.7)" />
<ellipse class="bk" cx="247.9" cy="247.5" rx="1.2" ry="0.8" transform="rotate(17 247.9 247.5)" />
<ellipse class="bk" cx="250.2" cy="267.4" rx="1.3" ry="1.0" transform="rotate(72 250.2 267.4)" />
<ellipse class="bk" cx="231.0" cy="254.3" rx="1.1" ry="1.2" transform="rotate(78 231.0 254.3)" />
<ellipse class="bk" cx="238.9" cy="286.4" rx="1.4" ry="1.3" transform="rotate(115 238.9 286.4)" />
<ellipse class="bk" cx="248.4" cy="281.9" rx="1.2" ry="1.4" transform="rotate(123 248.4 281.9)" />
<ellipse class="bk" cx="249.7" cy="273.9" rx="1.4" ry="1.2" transform="rotate(96 249.7 273.9)" />
<ellipse class="bk" cx="233.4" cy="247.8" rx="1.4" ry="1.4" transform="rotate(31 233.4 247.8)" />
<ellipse class="bk" cx="242.9" cy="245.8" rx="0.9" ry="0.8" transform="rotate(123 242.9 245.8)" />
<ellipse class="bk" cx="231.7" cy="251.5" rx="1.2" ry="0.8" transform="rotate(75 231.7 251.5)" />
<ellipse class="bk" cx="247.5" cy="246.1" rx="0.7" ry="1.0" transform="rotate(27 247.5 246.1)" />
<ellipse class="bk" cx="227.9" cy="291.5" rx="1.3" ry="0.8" transform="rotate(14 227.9 291.5)" />
<ellipse class="bk" cx="222.7" cy="343.3" rx="1.5" ry="1.5" transform="rotate(21 222.7 343.3)" />
<ellipse class="bk" cx="239.7" cy="291.2" rx="0.6" ry="0.8" transform="rotate(19 239.7 291.2)" />
<ellipse class="bk" cx="237.9" cy="295.9" rx="1.0" ry="1.3" transform="rotate(130 237.9 295.9)" />
<ellipse class="bk" cx="232.5" cy="340.0" rx="1.4" ry="0.8" transform="rotate(66 232.5 340.0)" />
<ellipse class="bk" cx="224.3" cy="347.4" rx="1.1" ry="0.9" transform="rotate(51 224.3 347.4)" />
<ellipse class="bk" cx="236.1" cy="310.4" rx="1.5" ry="1.1" transform="rotate(128 236.1 310.4)" />
<ellipse class="bk" cx="235.4" cy="320.7" rx="1.0" ry="0.9" transform="rotate(18 235.4 320.7)" />
<ellipse class="bk" cx="222.7" cy="299.7" rx="1.3" ry="0.7" transform="rotate(87 222.7 299.7)" />
<ellipse class="bk" cx="231.4" cy="289.4" rx="1.4" ry="1.3" transform="rotate(53 231.4 289.4)" />
<ellipse class="bk" cx="223.0" cy="351.2" rx="1.4" ry="1.0" transform="rotate(135 223.0 351.2)" />
<ellipse class="bk" cx="240.4" cy="286.8" rx="1.2" ry="1.5" transform="rotate(98 240.4 286.8)" />
<ellipse class="bk" cx="222.9" cy="348.6" rx="1.0" ry="1.2" transform="rotate(116 222.9 348.6)" />
<ellipse class="bk" cx="233.1" cy="334.0" rx="1.2" ry="1.3" transform="rotate(59 233.1 334.0)" />
<ellipse class="bk" cx="224.6" cy="332.2" rx="1.6" ry="0.9" transform="rotate(166 224.6 332.2)" />
<ellipse class="bk" cx="233.3" cy="305.0" rx="0.6" ry="1.2" transform="rotate(157 233.3 305.0)" />
<ellipse class="bk" cx="225.3" cy="294.7" rx="0.9" ry="1.2" transform="rotate(12 225.3 294.7)" />
<ellipse class="bk" cx="236.0" cy="288.8" rx="0.8" ry="1.0" transform="rotate(52 236.0 288.8)" />
<ellipse class="bk" cx="221.2" cy="307.0" rx="1.3" ry="0.9" transform="rotate(45 221.2 307.0)" />
<ellipse class="bk" cx="225.7" cy="354.5" rx="0.9" ry="1.4" transform="rotate(76 225.7 354.5)" />
<ellipse class="bk" cx="237.9" cy="299.0" rx="1.3" ry="1.1" transform="rotate(157 237.9 299.0)" />
<ellipse class="bk" cx="223.1" cy="296.6" rx="0.6" ry="0.9" transform="rotate(44 223.1 296.6)" />
<path class="lg" d="M626.1,260.3 L631.4,261.4 L635.5,266.6 L639.7,271.8 L638.7,277.0 L633.4,279.1 L629.3,283.3 L627.2,280.2 L628.2,271.8 L626.1,265.5" style="stroke-width:2.6"/>
<ellipse class="bk" cx="630.0" cy="283.4" rx="1.2" ry="1.5" transform="rotate(49 630.0 283.4)" />
<ellipse class="bk" cx="636.4" cy="277.0" rx="1.3" ry="1.0" transform="rotate(147 636.4 277.0)" />
<ellipse class="bk" cx="629.5" cy="282.3" rx="1.6" ry="1.5" transform="rotate(106 629.5 282.3)" />
<ellipse class="bk" cx="634.6" cy="277.8" rx="1.6" ry="2.2" transform="rotate(168 634.6 277.8)" />
<ellipse class="bk" cx="632.8" cy="281.0" rx="2.2" ry="2.0" transform="rotate(35 632.8 281.0)" />
<ellipse class="bk" cx="638.2" cy="274.6" rx="2.0" ry="1.5" transform="rotate(59 638.2 274.6)" />
<ellipse class="bk" cx="636.6" cy="270.8" rx="2.1" ry="2.1" transform="rotate(1 636.6 270.8)" />
<ellipse class="bk" cx="638.2" cy="271.4" rx="1.2" ry="1.5" transform="rotate(81 638.2 271.4)" />
<ellipse class="bk" cx="636.1" cy="278.1" rx="1.0" ry="2.1" transform="rotate(77 636.1 278.1)" />
<ellipse class="bk" cx="630.8" cy="279.6" rx="2.2" ry="1.5" transform="rotate(30 630.8 279.6)" />
<ellipse class="bk" cx="631.4" cy="281.3" rx="2.1" ry="1.1" transform="rotate(23 631.4 281.3)" />
<ellipse class="bk" cx="639.1" cy="269.7" rx="1.6" ry="1.8" transform="rotate(53 639.1 269.7)" />
<ellipse class="bk" cx="634.9" cy="266.8" rx="1.7" ry="1.0" transform="rotate(8 634.9 266.8)" />
<ellipse class="bk" cx="636.7" cy="268.7" rx="1.1" ry="1.1" transform="rotate(60 636.7 268.7)" />
<ellipse class="bk" cx="632.4" cy="279.0" rx="1.0" ry="1.3" transform="rotate(83 632.4 279.0)" />
<ellipse class="bk" cx="639.1" cy="276.5" rx="1.7" ry="1.2" transform="rotate(49 639.1 276.5)" />
<ellipse class="bk" cx="629.5" cy="284.7" rx="2.1" ry="2.0" transform="rotate(113 629.5 284.7)" />
<ellipse class="bk" cx="632.9" cy="277.9" rx="1.4" ry="1.1" transform="rotate(33 632.9 277.9)" />
<ellipse class="bk" cx="636.0" cy="266.9" rx="1.1" ry="1.9" transform="rotate(9 636.0 266.9)" />
<ellipse class="bk" cx="635.1" cy="277.5" rx="1.5" ry="1.7" transform="rotate(170 635.1 277.5)" />
<ellipse class="bk" cx="635.2" cy="276.3" rx="1.1" ry="1.1" transform="rotate(147 635.2 276.3)" />
<ellipse class="bk" cx="630.4" cy="281.7" rx="2.1" ry="1.2" transform="rotate(90 630.4 281.7)" />
<ellipse class="lg" cx="623.1" cy="270.1" rx="2.3" ry="2.3" style="stroke-width:1.6;fill:#fff"/>
<path class="lg" d="M636.0,302.0 L641.0,301.0 L643.4,306.0 L642.2,312.4 L637.5,313.2 L635.5,308.0" style="stroke-width:2"/>
<path class="lg" d="M632.6,323.8 L637.0,321.6 L641.3,320.9 L644.2,327.4 L643.5,336.1 L638.4,338.3 L633.3,334.7 L631.8,328.9" style="stroke-width:2.6"/>
<path class="lg" d="M624.0,321.5 L626.8,323.0 L626.8,334.0 L625.4,346.5 L622.0,346.5 L622.6,334.0 L623.0,326.0" style="stroke-width:2.2;fill:#f2f2f2"/>
<ellipse class="bk" cx="624.7" cy="306.6" rx="1.9" ry="2.1" transform="rotate(138 624.7 306.6)" />
<ellipse class="bk" cx="623.4" cy="320.0" rx="1.9" ry="2.3" transform="rotate(177 623.4 320.0)" />
<ellipse class="bk" cx="620.5" cy="315.1" rx="1.8" ry="1.3" transform="rotate(165 620.5 315.1)" />
<ellipse class="bk" cx="621.3" cy="310.5" rx="1.5" ry="1.4" transform="rotate(174 621.3 310.5)" />
<ellipse class="bk" cx="622.4" cy="315.8" rx="1.5" ry="1.0" transform="rotate(164 622.4 315.8)" />
<ellipse class="bk" cx="624.3" cy="309.0" rx="1.4" ry="2.6" transform="rotate(50 624.3 309.0)" />
<ellipse class="bk" cx="624.6" cy="303.2" rx="1.4" ry="2.5" transform="rotate(20 624.6 303.2)" />
<ellipse class="bk" cx="621.6" cy="311.8" rx="1.1" ry="1.3" transform="rotate(166 621.6 311.8)" />
<ellipse class="bk" cx="620.8" cy="308.7" rx="1.6" ry="2.4" transform="rotate(147 620.8 308.7)" />
<ellipse class="bk" cx="622.2" cy="303.1" rx="1.3" ry="1.9" transform="rotate(57 622.2 303.1)" />
<ellipse class="bk" cx="625.9" cy="304.1" rx="1.4" ry="0.9" transform="rotate(143 625.9 304.1)" />
<ellipse class="bk" cx="621.2" cy="315.1" rx="1.1" ry="2.8" transform="rotate(137 621.2 315.1)" />
<ellipse class="bk" cx="624.7" cy="320.3" rx="1.8" ry="1.5" transform="rotate(125 624.7 320.3)" />
<ellipse class="bk" cx="622.3" cy="307.8" rx="1.8" ry="2.1" transform="rotate(140 622.3 307.8)" />
<ellipse class="bk" cx="626.7" cy="363.2" rx="1.8" ry="3.0" transform="rotate(166 626.7 363.2)" />
<ellipse class="bk" cx="621.1" cy="359.5" rx="1.5" ry="1.3" transform="rotate(170 621.1 359.5)" />
<ellipse class="bk" cx="625.9" cy="349.9" rx="1.6" ry="0.7" transform="rotate(156 625.9 349.9)" />
<ellipse class="bk" cx="622.1" cy="349.5" rx="1.3" ry="1.3" transform="rotate(124 622.1 349.5)" />
<ellipse class="bk" cx="619.6" cy="353.0" rx="2.0" ry="1.2" transform="rotate(143 619.6 353.0)" />
<ellipse class="bk" cx="625.2" cy="350.9" rx="1.3" ry="0.8" transform="rotate(91 625.2 350.9)" />
<ellipse class="bk" cx="627.0" cy="356.5" rx="0.9" ry="1.5" transform="rotate(14 627.0 356.5)" />
<ellipse class="bk" cx="626.9" cy="356.6" rx="1.3" ry="2.6" transform="rotate(58 626.9 356.6)" />
<ellipse class="bk" cx="621.5" cy="350.8" rx="1.9" ry="0.6" transform="rotate(143 621.5 350.8)" />
<ellipse class="bk" cx="627.2" cy="345.1" rx="1.4" ry="1.1" transform="rotate(41 627.2 345.1)" />
<ellipse class="bk" cx="625.8" cy="358.9" rx="1.4" ry="1.4" transform="rotate(9 625.8 358.9)" />
<ellipse class="bk" cx="621.7" cy="355.7" rx="2.0" ry="1.7" transform="rotate(30 621.7 355.7)" />
<ellipse class="bk" cx="619.1" cy="358.8" rx="1.5" ry="2.2" transform="rotate(120 619.1 358.8)" />
<ellipse class="bk" cx="627.7" cy="358.2" rx="1.8" ry="0.9" transform="rotate(102 627.7 358.2)" />
<ellipse class="bk" cx="602.5" cy="283.5" rx="0.9" ry="1.8" transform="rotate(85 602.5 283.5)" />
<ellipse class="bk" cx="617.6" cy="286.7" rx="2.1" ry="1.3" transform="rotate(86 617.6 286.7)" />
<ellipse class="bk" cx="612.8" cy="280.6" rx="1.9" ry="1.0" transform="rotate(48 612.8 280.6)" />
<ellipse class="lg" cx="605.0" cy="294.6" rx="3.1" ry="1.9" transform="rotate(90 605.0 294.6)" style="stroke-width:1.7;fill:none"/>
<ellipse class="bk" cx="622.7" cy="289.5" rx="1.9" ry="2.2" transform="rotate(63 622.7 289.5)" />
<ellipse class="bk" cx="613.3" cy="284.8" rx="0.9" ry="1.0" transform="rotate(49 613.3 284.8)" />
<ellipse class="bk" cx="605.4" cy="278.6" rx="1.9" ry="0.8" transform="rotate(113 605.4 278.6)" />
<ellipse class="bk" cx="603.4" cy="282.0" rx="2.2" ry="0.8" transform="rotate(78 603.4 282.0)" />
<ellipse class="bk" cx="607.4" cy="296.6" rx="2.1" ry="1.1" transform="rotate(32 607.4 296.6)" />
<ellipse class="lg" cx="602.7" cy="280.3" rx="2.9" ry="2.6" transform="rotate(105 602.7 280.3)" style="stroke-width:1.5;fill:none"/>
<ellipse class="bk" cx="608.6" cy="295.9" rx="2.2" ry="0.7" transform="rotate(4 608.6 295.9)" />
<ellipse class="bk" cx="605.7" cy="275.1" rx="1.4" ry="2.6" transform="rotate(113 605.7 275.1)" />
<ellipse class="bk" cx="618.6" cy="298.2" rx="1.2" ry="2.6" transform="rotate(170 618.6 298.2)" />
<ellipse class="bk" cx="619.1" cy="285.5" rx="1.5" ry="1.1" transform="rotate(159 619.1 285.5)" />
<ellipse class="lg" cx="606.5" cy="279.6" rx="2.4" ry="3.0" transform="rotate(144 606.5 279.6)" style="stroke-width:1.4;fill:none"/>
<ellipse class="bk" cx="618.3" cy="288.3" rx="1.1" ry="1.1" transform="rotate(35 618.3 288.3)" />
<ellipse class="bk" cx="607.3" cy="282.3" rx="1.9" ry="2.9" transform="rotate(30 607.3 282.3)" />
<ellipse class="bk" cx="610.4" cy="295.2" rx="0.9" ry="2.2" transform="rotate(167 610.4 295.2)" />
<ellipse class="bk" cx="618.3" cy="279.5" rx="2.0" ry="1.4" transform="rotate(40 618.3 279.5)" />
<ellipse class="bk" cx="606.6" cy="287.7" rx="2.2" ry="3.0" transform="rotate(154 606.6 287.7)" />
<ellipse class="bk" cx="613.9" cy="299.2" rx="0.9" ry="2.4" transform="rotate(130 613.9 299.2)" />
<ellipse class="bk" cx="605.1" cy="277.8" rx="2.1" ry="1.6" transform="rotate(140 605.1 277.8)" />
<ellipse class="lg" cx="619.8" cy="293.7" rx="2.8" ry="2.2" transform="rotate(12 619.8 293.7)" style="stroke-width:1.5;fill:#e0e0e0"/>
<ellipse class="bk" cx="613.1" cy="300.3" rx="1.1" ry="2.4" transform="rotate(82 613.1 300.3)" />
<ellipse class="bk" cx="613.8" cy="277.9" rx="1.5" ry="3.3" transform="rotate(2 613.8 277.9)" />
<ellipse class="bk" cx="615.7" cy="294.2" rx="1.3" ry="1.6" transform="rotate(165 615.7 294.2)" />
<ellipse class="bk" cx="608.0" cy="297.5" rx="1.9" ry="1.9" transform="rotate(130 608.0 297.5)" />
<ellipse class="bk" cx="607.2" cy="278.0" rx="1.7" ry="2.4" transform="rotate(118 607.2 278.0)" />
<ellipse class="lg" cx="616.6" cy="285.2" rx="3.5" ry="5.4" transform="rotate(24 616.6 285.2)" style="stroke-width:1.3;fill:#d0d0d0"/>
<ellipse class="bk" cx="609.2" cy="291.0" rx="1.7" ry="2.2" transform="rotate(107 609.2 291.0)" />
<ellipse class="bk" cx="616.4" cy="296.8" rx="1.1" ry="1.1" transform="rotate(161 616.4 296.8)" />
<ellipse class="bk" cx="612.9" cy="278.9" rx="1.8" ry="2.8" transform="rotate(9 612.9 278.9)" />
<ellipse class="bk" cx="611.2" cy="281.2" rx="1.4" ry="2.7" transform="rotate(165 611.2 281.2)" />
<ellipse class="bk" cx="616.6" cy="279.1" rx="1.5" ry="2.1" transform="rotate(49 616.6 279.1)" />
<ellipse class="lg" cx="619.8" cy="299.8" rx="2.4" ry="2.0" transform="rotate(13 619.8 299.8)" style="stroke-width:1.7;fill:#e0e0e0"/>
<ellipse class="bk" cx="611.8" cy="285.5" rx="1.7" ry="2.1" transform="rotate(93 611.8 285.5)" />
<ellipse class="bk" cx="611.1" cy="277.5" rx="2.1" ry="1.6" transform="rotate(67 611.1 277.5)" />
<ellipse class="bk" cx="602.7" cy="286.8" rx="1.8" ry="1.2" transform="rotate(20 602.7 286.8)" />
<ellipse class="bk" cx="613.1" cy="275.2" rx="2.2" ry="1.7" transform="rotate(127 613.1 275.2)" />
<ellipse class="bk" cx="616.5" cy="291.5" rx="2.1" ry="3.0" transform="rotate(169 616.5 291.5)" />
<ellipse class="lg" cx="613.7" cy="277.2" rx="2.0" ry="2.6" transform="rotate(90 613.7 277.2)" style="stroke-width:1.5;fill:none"/>
<ellipse class="bk" cx="612.8" cy="290.8" rx="2.2" ry="0.9" transform="rotate(93 612.8 290.8)" />
<ellipse class="lg" cx="622.4" cy="296.7" rx="2.9" ry="3.9" transform="rotate(32 622.4 296.7)" style="stroke-width:1.8;fill:#e0e0e0"/>
<ellipse class="bk" cx="605.0" cy="291.4" rx="2.2" ry="1.9" transform="rotate(39 605.0 291.4)" />
<ellipse class="bk" cx="618.8" cy="288.0" rx="2.0" ry="2.2" transform="rotate(134 618.8 288.0)" />
<ellipse class="bk" cx="616.7" cy="289.4" rx="2.0" ry="0.8" transform="rotate(160 616.7 289.4)" />
<ellipse class="bk" cx="616.0" cy="297.6" rx="2.2" ry="3.3" transform="rotate(8 616.0 297.6)" />
<ellipse class="bk" cx="609.1" cy="297.1" rx="1.8" ry="0.9" transform="rotate(9 609.1 297.1)" />
<ellipse class="bk" cx="616.6" cy="287.9" rx="2.2" ry="2.0" transform="rotate(105 616.6 287.9)" />
<ellipse class="bk" cx="622.9" cy="294.8" rx="1.2" ry="0.8" transform="rotate(13 622.9 294.8)" />
<ellipse class="bk" cx="621.0" cy="287.9" rx="1.7" ry="1.8" transform="rotate(9 621.0 287.9)" />
<ellipse class="lg" cx="621.6" cy="300.7" rx="3.6" ry="1.7" transform="rotate(126 621.6 300.7)" style="stroke-width:1.4;fill:none"/>
<ellipse class="bk" cx="616.4" cy="287.2" rx="1.1" ry="2.6" transform="rotate(51 616.4 287.2)" />
<ellipse class="bk" cx="618.4" cy="292.7" rx="2.2" ry="1.7" transform="rotate(145 618.4 292.7)" />
<ellipse class="bk" cx="601.7" cy="288.8" rx="2.0" ry="2.3" transform="rotate(156 601.7 288.8)" />
<ellipse class="bk" cx="611.3" cy="288.8" rx="1.1" ry="1.4" transform="rotate(128 611.3 288.8)" />
<ellipse class="bk" cx="604.8" cy="294.6" rx="1.4" ry="1.2" transform="rotate(57 604.8 294.6)" />
<ellipse class="bk" cx="606.6" cy="276.6" rx="2.0" ry="1.6" transform="rotate(114 606.6 276.6)" />
<ellipse class="bk" cx="611.3" cy="300.9" rx="2.3" ry="2.3" transform="rotate(140 611.3 300.9)" />
<ellipse class="bk" cx="603.4" cy="297.1" rx="2.1" ry="1.2" transform="rotate(86 603.4 297.1)" />
<ellipse class="bk" cx="614.8" cy="290.2" rx="1.4" ry="1.6" transform="rotate(145 614.8 290.2)" />
<ellipse class="bk" cx="620.9" cy="276.3" rx="2.0" ry="1.1" transform="rotate(80 620.9 276.3)" />
<ellipse class="lg" cx="606.5" cy="291.4" rx="2.2" ry="3.9" transform="rotate(125 606.5 291.4)" style="stroke-width:1.4;fill:#e0e0e0"/>
<ellipse class="bk" cx="619.1" cy="275.5" rx="1.3" ry="2.6" transform="rotate(175 619.1 275.5)" />
<ellipse class="bk" cx="601.6" cy="284.2" rx="2.0" ry="2.0" transform="rotate(139 601.6 284.2)" />
<ellipse class="bk" cx="605.4" cy="276.5" rx="1.6" ry="1.9" transform="rotate(37 605.4 276.5)" />
<ellipse class="bk" cx="602.1" cy="281.4" rx="1.0" ry="2.4" transform="rotate(154 602.1 281.4)" />
<ellipse class="bk" cx="616.5" cy="275.6" rx="1.5" ry="1.0" transform="rotate(52 616.5 275.6)" />
<ellipse class="bk" cx="616.3" cy="300.8" rx="1.3" ry="1.9" transform="rotate(84 616.3 300.8)" />
<ellipse class="bk" cx="609.0" cy="289.3" rx="2.1" ry="0.7" transform="rotate(118 609.0 289.3)" />
<ellipse class="bk" cx="603.4" cy="288.8" rx="1.5" ry="1.5" transform="rotate(166 603.4 288.8)" />
<ellipse class="bk" cx="613.1" cy="291.7" rx="1.6" ry="2.1" transform="rotate(97 613.1 291.7)" />
<ellipse class="bk" cx="613.6" cy="276.4" rx="1.3" ry="2.7" transform="rotate(34 613.6 276.4)" />
<ellipse class="bk" cx="609.9" cy="297.6" rx="1.8" ry="1.3" transform="rotate(80 609.9 297.6)" />
<ellipse class="bk" cx="601.7" cy="298.3" rx="1.0" ry="1.8" transform="rotate(66 601.7 298.3)" />
<ellipse class="lg" cx="601.6" cy="278.5" rx="2.1" ry="1.1" transform="rotate(9 601.6 278.5)" style="stroke-width:1.7;fill:none"/>
<ellipse class="lg" cx="617.9" cy="279.2" rx="2.6" ry="3.0" transform="rotate(36 617.9 279.2)" style="stroke-width:1.5;fill:#e0e0e0"/>
<ellipse class="lg" cx="618.1" cy="286.5" rx="3.0" ry="2.2" transform="rotate(165 618.1 286.5)" style="stroke-width:1.5;fill:#e0e0e0"/>
<ellipse class="lg" cx="613.2" cy="275.8" rx="3.1" ry="2.3" transform="rotate(100 613.2 275.8)" style="stroke-width:1.2;fill:none"/>
<ellipse class="bk" cx="607.8" cy="287.3" rx="2.2" ry="1.5" transform="rotate(97 607.8 287.3)" />
<ellipse class="lg" cx="611.0" cy="287.0" rx="2.2" ry="2.8" style="stroke:none;fill:#eee"/>
<ellipse class="lg" cx="606.0" cy="281.0" rx="1.6" ry="1.6" style="stroke:none;fill:#ddd"/>
<ellipse class="bk" cx="610.6" cy="326.6" rx="1.3" ry="1.3" transform="rotate(77 610.6 326.6)" />
<ellipse class="bk" cx="611.1" cy="307.2" rx="1.4" ry="1.1" transform="rotate(154 611.1 307.2)" />
<ellipse class="bk" cx="609.1" cy="333.8" rx="1.2" ry="1.0" transform="rotate(127 609.1 333.8)" />
<ellipse class="bk" cx="606.2" cy="314.0" rx="1.1" ry="2.0" transform="rotate(8 606.2 314.0)" />
<ellipse class="bk" cx="611.4" cy="333.8" rx="1.7" ry="0.7" transform="rotate(165 611.4 333.8)" />
<ellipse class="bk" cx="606.7" cy="310.1" rx="1.1" ry="1.4" transform="rotate(55 606.7 310.1)" />
<ellipse class="bk" cx="609.9" cy="312.1" rx="1.2" ry="2.9" transform="rotate(63 609.9 312.1)" />
<ellipse class="bk" cx="606.3" cy="312.2" rx="1.3" ry="1.7" transform="rotate(28 606.3 312.2)" />
<ellipse class="lg" cx="609.3" cy="317.2" rx="2.3" ry="4.4" transform="rotate(103 609.3 317.2)" style="stroke-width:1.4;fill:none"/>
<ellipse class="bk" cx="607.7" cy="329.6" rx="1.1" ry="1.7" transform="rotate(178 607.7 329.6)" />
<ellipse class="bk" cx="609.9" cy="334.4" rx="1.5" ry="1.7" transform="rotate(158 609.9 334.4)" />
<ellipse class="bk" cx="607.0" cy="329.2" rx="1.3" ry="1.2" transform="rotate(34 607.0 329.2)" />
<ellipse class="lg" cx="610.8" cy="326.4" rx="2.8" ry="4.0" transform="rotate(35 610.8 326.4)" style="stroke-width:1.6;fill:none"/>
<ellipse class="bk" cx="610.8" cy="312.6" rx="1.4" ry="1.0" transform="rotate(90 610.8 312.6)" />
<ellipse class="lg" cx="610.7" cy="313.5" rx="2.5" ry="2.6" transform="rotate(15 610.7 313.5)" style="stroke-width:1.3;fill:#d0d0d0"/>
<ellipse class="bk" cx="606.3" cy="336.9" rx="0.9" ry="1.4" transform="rotate(107 606.3 336.9)" />
<ellipse class="bk" cx="609.9" cy="334.7" rx="1.3" ry="2.8" transform="rotate(45 609.9 334.7)" />
<ellipse class="bk" cx="606.6" cy="323.6" rx="1.7" ry="1.6" transform="rotate(21 606.6 323.6)" />
<ellipse class="bk" cx="610.9" cy="313.9" rx="1.9" ry="1.8" transform="rotate(111 610.9 313.9)" />
<ellipse class="bk" cx="611.8" cy="314.9" rx="1.1" ry="1.9" transform="rotate(174 611.8 314.9)" />
<ellipse class="bk" cx="610.5" cy="312.4" rx="1.4" ry="1.0" transform="rotate(39 610.5 312.4)" />
<ellipse class="bk" cx="606.5" cy="317.9" rx="1.1" ry="2.7" transform="rotate(28 606.5 317.9)" />
<ellipse class="bk" cx="611.6" cy="306.7" rx="0.9" ry="1.8" transform="rotate(25 611.6 306.7)" />
<ellipse class="bk" cx="611.6" cy="329.3" rx="1.8" ry="0.5" transform="rotate(125 611.6 329.3)" />
<ellipse class="bk" cx="607.9" cy="324.7" rx="1.3" ry="1.7" transform="rotate(162 607.9 324.7)" />
<ellipse class="bk" cx="611.7" cy="314.5" rx="1.3" ry="0.8" transform="rotate(121 611.7 314.5)" />
<ellipse class="bk" cx="607.3" cy="327.2" rx="1.8" ry="1.7" transform="rotate(36 607.3 327.2)" />
<ellipse class="lg" cx="606.1" cy="322.6" rx="2.0" ry="1.3" transform="rotate(167 606.1 322.6)" style="stroke-width:1.5;fill:#d0d0d0"/>
<ellipse class="bk" cx="610.3" cy="325.4" rx="1.2" ry="1.3" transform="rotate(80 610.3 325.4)" />
<ellipse class="bk" cx="610.7" cy="318.2" rx="1.3" ry="2.3" transform="rotate(35 610.7 318.2)" />
<ellipse class="bk" cx="610.5" cy="317.8" rx="1.7" ry="2.8" transform="rotate(167 610.5 317.8)" />
<ellipse class="bk" cx="610.0" cy="311.6" rx="0.9" ry="1.3" transform="rotate(1 610.0 311.6)" />
<ellipse class="bk" cx="611.7" cy="308.1" rx="1.8" ry="2.0" transform="rotate(125 611.7 308.1)" />
<ellipse class="bk" cx="608.3" cy="322.6" rx="1.0" ry="0.7" transform="rotate(162 608.3 322.6)" />
<ellipse class="bk" cx="613.6" cy="315.2" rx="1.4" ry="1.3" transform="rotate(149 613.6 315.2)" />
<ellipse class="bk" cx="623.0" cy="313.0" rx="1.6" ry="0.8" transform="rotate(21 623.0 313.0)" />
<ellipse class="bk" cx="622.0" cy="317.8" rx="1.1" ry="1.0" transform="rotate(135 622.0 317.8)" />
<ellipse class="lg" cx="617.4" cy="301.3" rx="2.4" ry="1.4" transform="rotate(145 617.4 301.3)" style="stroke-width:1.3;fill:none"/>
<ellipse class="bk" cx="621.2" cy="306.7" rx="1.4" ry="1.9" transform="rotate(140 621.2 306.7)" />
<ellipse class="bk" cx="623.4" cy="300.9" rx="1.6" ry="1.3" transform="rotate(23 623.4 300.9)" />
<ellipse class="bk" cx="624.2" cy="301.7" rx="1.1" ry="1.4" transform="rotate(133 624.2 301.7)" />
<ellipse class="lg" cx="613.3" cy="316.3" rx="2.7" ry="3.2" transform="rotate(171 613.3 316.3)" style="stroke-width:1.8;fill:#e0e0e0"/>
<ellipse class="bk" cx="628.5" cy="317.8" rx="1.5" ry="1.7" transform="rotate(151 628.5 317.8)" />
<ellipse class="bk" cx="618.9" cy="316.3" rx="1.2" ry="1.0" transform="rotate(1 618.9 316.3)" />
<ellipse class="bk" cx="626.7" cy="314.3" rx="1.7" ry="0.9" transform="rotate(97 626.7 314.3)" />
<ellipse class="bk" cx="624.1" cy="310.0" rx="1.0" ry="1.4" transform="rotate(169 624.1 310.0)" />
<ellipse class="bk" cx="621.4" cy="301.4" rx="0.9" ry="1.9" transform="rotate(19 621.4 301.4)" />
<ellipse class="bk" cx="628.5" cy="311.6" rx="1.2" ry="1.6" transform="rotate(5 628.5 311.6)" />
<ellipse class="bk" cx="613.4" cy="316.7" rx="1.2" ry="1.5" transform="rotate(20 613.4 316.7)" />
<ellipse class="lg" cx="628.1" cy="304.5" rx="2.6" ry="1.4" transform="rotate(0 628.1 304.5)" style="stroke-width:1.6;fill:#d0d0d0"/>
<ellipse class="bk" cx="625.4" cy="311.3" rx="1.3" ry="1.4" transform="rotate(19 625.4 311.3)" />
<ellipse class="bk" cx="619.3" cy="300.7" rx="0.7" ry="1.1" transform="rotate(51 619.3 300.7)" />
<ellipse class="bk" cx="628.6" cy="308.5" rx="1.1" ry="1.8" transform="rotate(109 628.6 308.5)" />
<ellipse class="bk" cx="613.8" cy="317.2" rx="1.6" ry="0.9" transform="rotate(98 613.8 317.2)" />
<ellipse class="bk" cx="617.2" cy="310.5" rx="1.1" ry="1.3" transform="rotate(170 617.2 310.5)" />
<ellipse class="bk" cx="620.1" cy="300.1" rx="0.9" ry="1.9" transform="rotate(86 620.1 300.1)" />
<ellipse class="lg" cx="628.3" cy="301.0" rx="2.3" ry="5.2" transform="rotate(48 628.3 301.0)" style="stroke-width:1.4;fill:#e0e0e0"/>
<ellipse class="bk" cx="619.0" cy="300.0" rx="1.3" ry="1.1" transform="rotate(86 619.0 300.0)" />
<ellipse class="lg" cx="622.4" cy="309.8" rx="2.0" ry="3.0" transform="rotate(24 622.4 309.8)" style="stroke-width:1.3;fill:#d0d0d0"/>
<ellipse class="lg" cx="617.6" cy="312.6" rx="1.6" ry="1.5" transform="rotate(105 617.6 312.6)" style="stroke-width:1.6;fill:none"/>
<ellipse class="bk" cx="616.6" cy="320.3" rx="1.3" ry="0.9" transform="rotate(125 616.6 320.3)" />
<ellipse class="bk" cx="614.4" cy="344.1" rx="0.8" ry="1.0" transform="rotate(155 614.4 344.1)" />
<ellipse class="bk" cx="620.4" cy="322.1" rx="0.9" ry="0.9" transform="rotate(55 620.4 322.1)" />
<ellipse class="bk" cx="616.4" cy="326.7" rx="1.6" ry="1.2" transform="rotate(131 616.4 326.7)" />
<ellipse class="bk" cx="613.3" cy="343.5" rx="1.3" ry="1.2" transform="rotate(95 613.3 343.5)" />
<ellipse class="bk" cx="617.0" cy="343.7" rx="0.9" ry="1.8" transform="rotate(140 617.0 343.7)" />
<ellipse class="bk" cx="620.7" cy="322.0" rx="1.4" ry="2.0" transform="rotate(71 620.7 322.0)" />
<ellipse class="bk" cx="620.3" cy="327.8" rx="1.1" ry="2.2" transform="rotate(35 620.3 327.8)" />
<ellipse class="bk" cx="613.6" cy="343.5" rx="1.3" ry="1.7" transform="rotate(131 613.6 343.5)" />
<ellipse class="bk" cx="618.5" cy="330.3" rx="1.5" ry="1.8" transform="rotate(66 618.5 330.3)" />
<ellipse class="bk" cx="621.1" cy="344.9" rx="1.5" ry="1.3" transform="rotate(144 621.1 344.9)" />
<ellipse class="bk" cx="619.9" cy="322.8" rx="1.1" ry="1.2" transform="rotate(101 619.9 322.8)" />
<ellipse class="bk" cx="614.5" cy="327.8" rx="1.7" ry="0.9" transform="rotate(52 614.5 327.8)" />
<ellipse class="bk" cx="620.1" cy="329.0" rx="1.7" ry="2.3" transform="rotate(168 620.1 329.0)" />
<ellipse class="bk" cx="616.1" cy="339.7" rx="1.4" ry="1.4" transform="rotate(176 616.1 339.7)" />
<ellipse class="bk" cx="620.8" cy="340.4" rx="1.0" ry="1.3" transform="rotate(161 620.8 340.4)" />
<ellipse class="bk" cx="617.5" cy="344.1" rx="0.7" ry="1.5" transform="rotate(106 617.5 344.1)" />
<ellipse class="bk" cx="618.7" cy="330.0" rx="1.5" ry="1.6" transform="rotate(96 618.7 330.0)" />
<ellipse class="bk" cx="632.1" cy="295.0" rx="1.4" ry="2.0" transform="rotate(176 632.1 295.0)" />
<ellipse class="bk" cx="633.3" cy="283.8" rx="1.7" ry="1.7" transform="rotate(37 633.3 283.8)" />
<ellipse class="bk" cx="639.5" cy="287.8" rx="1.9" ry="0.7" transform="rotate(50 639.5 287.8)" />
<ellipse class="bk" cx="630.7" cy="283.9" rx="1.5" ry="1.6" transform="rotate(96 630.7 283.9)" />
<ellipse class="bk" cx="635.8" cy="299.9" rx="1.4" ry="1.3" transform="rotate(180 635.8 299.9)" />
<ellipse class="bk" cx="639.8" cy="287.5" rx="0.9" ry="1.6" transform="rotate(26 639.8 287.5)" />
<ellipse class="bk" cx="633.0" cy="295.0" rx="1.9" ry="1.3" transform="rotate(93 633.0 295.0)" />
<ellipse class="lg" cx="627.5" cy="288.1" rx="1.7" ry="3.4" transform="rotate(151 627.5 288.1)" style="stroke-width:1.6;fill:none"/>
<ellipse class="bk" cx="634.2" cy="290.7" rx="1.9" ry="1.2" transform="rotate(67 634.2 290.7)" />
<ellipse class="bk" cx="631.7" cy="286.9" rx="1.3" ry="1.4" transform="rotate(41 631.7 286.9)" />
<ellipse class="bk" cx="628.4" cy="299.7" rx="1.8" ry="1.1" transform="rotate(131 628.4 299.7)" />
<ellipse class="bk" cx="628.8" cy="286.8" rx="1.4" ry="1.3" transform="rotate(141 628.8 286.8)" />
<ellipse class="bk" cx="636.8" cy="297.7" rx="1.8" ry="1.3" transform="rotate(99 636.8 297.7)" />
<ellipse class="bk" cx="631.2" cy="298.6" rx="1.4" ry="1.2" transform="rotate(107 631.2 298.6)" />
<ellipse class="lg" cx="627.6" cy="299.2" rx="2.4" ry="2.7" transform="rotate(148 627.6 299.2)" style="stroke-width:1.3;fill:none"/>
<ellipse class="bk" cx="639.1" cy="299.7" rx="1.7" ry="1.4" transform="rotate(174 639.1 299.7)" />
<ellipse class="bk" cx="627.0" cy="292.6" rx="1.0" ry="1.6" transform="rotate(152 627.0 292.6)" />
<ellipse class="bk" cx="626.5" cy="288.7" rx="1.9" ry="1.3" transform="rotate(113 626.5 288.7)" />
<ellipse class="bk" cx="638.0" cy="283.4" rx="1.0" ry="2.7" transform="rotate(172 638.0 283.4)" />
<ellipse class="bk" cx="634.9" cy="285.2" rx="1.4" ry="2.4" transform="rotate(92 634.9 285.2)" />
<ellipse class="bk" cx="626.7" cy="287.6" rx="1.4" ry="1.9" transform="rotate(98 626.7 287.6)" />
<ellipse class="bk" cx="632.1" cy="299.8" rx="1.2" ry="0.8" transform="rotate(162 632.1 299.8)" />
<ellipse class="bk" cx="628.1" cy="315.7" rx="1.4" ry="2.3" transform="rotate(33 628.1 315.7)" />
<ellipse class="bk" cx="631.1" cy="318.3" rx="1.4" ry="1.2" transform="rotate(122 631.1 318.3)" />
<ellipse class="bk" cx="635.7" cy="315.7" rx="1.1" ry="1.6" transform="rotate(169 635.7 315.7)" />
<ellipse class="bk" cx="632.1" cy="315.8" rx="0.8" ry="2.1" transform="rotate(91 632.1 315.8)" />
<ellipse class="lg" cx="630.3" cy="312.2" rx="1.7" ry="3.2" transform="rotate(8 630.3 312.2)" style="stroke-width:1.4;fill:#e0e0e0"/>
<ellipse class="bk" cx="632.4" cy="319.9" rx="1.4" ry="2.0" transform="rotate(133 632.4 319.9)" />
<ellipse class="bk" cx="629.6" cy="312.9" rx="1.6" ry="2.0" transform="rotate(166 629.6 312.9)" />
<ellipse class="bk" cx="635.1" cy="319.2" rx="1.0" ry="1.4" transform="rotate(0 635.1 319.2)" />
<ellipse class="bk" cx="633.6" cy="321.6" rx="1.5" ry="1.2" transform="rotate(116 633.6 321.6)" />
<ellipse class="bk" cx="637.5" cy="313.9" rx="1.0" ry="1.4" transform="rotate(135 637.5 313.9)" />
<ellipse class="bk" cx="637.0" cy="319.5" rx="1.5" ry="0.6" transform="rotate(2 637.0 319.5)" />
<ellipse class="bk" cx="628.4" cy="312.1" rx="0.9" ry="1.0" transform="rotate(139 628.4 312.1)" />
<ellipse class="bk" cx="621.1" cy="253.4" rx="1.7" ry="0.8" transform="rotate(62 621.1 253.4)" />
<ellipse class="bk" cx="622.9" cy="258.1" rx="0.9" ry="0.9" transform="rotate(168 622.9 258.1)" />
<ellipse class="lg" cx="618.0" cy="246.2" rx="1.8" ry="1.2" transform="rotate(62 618.0 246.2)" style="stroke-width:1.7;fill:#e0e0e0"/>
<ellipse class="bk" cx="625.2" cy="242.6" rx="1.5" ry="0.8" transform="rotate(83 625.2 242.6)" />
<ellipse class="bk" cx="622.3" cy="245.6" rx="1.2" ry="1.5" transform="rotate(134 622.3 245.6)" />
<ellipse class="bk" cx="625.0" cy="241.9" rx="1.0" ry="1.4" transform="rotate(56 625.0 241.9)" />
<ellipse class="bk" cx="625.1" cy="249.0" rx="1.0" ry="1.1" transform="rotate(117 625.1 249.0)" />
<ellipse class="bk" cx="619.5" cy="256.8" rx="1.8" ry="1.5" transform="rotate(117 619.5 256.8)" />
<ellipse class="bk" cx="634.5" cy="254.5" rx="0.7" ry="1.1" transform="rotate(149 634.5 254.5)" />
<ellipse class="bk" cx="634.1" cy="251.1" rx="1.5" ry="1.1" transform="rotate(179 634.1 251.1)" />
<ellipse class="bk" cx="634.8" cy="257.3" rx="1.1" ry="0.7" transform="rotate(111 634.8 257.3)" />
<ellipse class="bk" cx="633.6" cy="246.2" rx="1.1" ry="1.2" transform="rotate(149 633.6 246.2)" />
<ellipse class="bk" cx="644.4" cy="252.5" rx="1.2" ry="0.9" transform="rotate(168 644.4 252.5)" />
<ellipse class="bk" cx="640.6" cy="250.6" rx="1.3" ry="1.7" transform="rotate(6 640.6 250.6)" />
<ellipse class="bk" cx="641.9" cy="245.9" rx="1.2" ry="1.4" transform="rotate(98 641.9 245.9)" />
<ellipse class="bk" cx="640.4" cy="242.5" rx="0.6" ry="0.7" transform="rotate(23 640.4 242.5)" />
<ellipse class="bk" cx="641.4" cy="233.0" rx="1.1" ry="0.7" transform="rotate(96 641.4 233.0)" />
<ellipse class="bk" cx="630.6" cy="243.5" rx="0.8" ry="1.7" transform="rotate(65 630.6 243.5)" />
<ellipse class="bk" cx="631.5" cy="261.7" rx="0.8" ry="1.4" transform="rotate(76 631.5 261.7)" />
<ellipse class="bk" cx="643.7" cy="254.3" rx="1.2" ry="0.6" transform="rotate(87 643.7 254.3)" />
<ellipse class="bk" cx="643.3" cy="244.8" rx="1.4" ry="1.5" transform="rotate(170 643.3 244.8)" />
<ellipse class="bk" cx="632.7" cy="235.2" rx="0.8" ry="1.7" transform="rotate(11 632.7 235.2)" />
<ellipse class="bk" cx="635.0" cy="230.6" rx="1.3" ry="0.5" transform="rotate(86 635.0 230.6)" />
<ellipse class="bk" cx="637.8" cy="254.1" rx="0.8" ry="1.8" transform="rotate(87 637.8 254.1)" />
<ellipse class="bk" cx="594.8" cy="250.5" rx="2.0" ry="2.6" />
<ellipse class="bk" cx="618.1" cy="241.0" rx="1.8" ry="1.8" />
<ellipse class="bk" cx="623.1" cy="244.0" rx="1.2" ry="1.2" />
<ellipse class="bk" cx="591.2" cy="257.7" rx="1.1" ry="1.1" />
<ellipse class="bk" cx="594.8" cy="265.0" rx="1.6" ry="2.4" transform="rotate(10 594.8 265.0)" />
<ellipse class="bk" cx="591.2" cy="272.2" rx="1.2" ry="1.2" />
<ellipse class="bk" cx="595.0" cy="272.0" rx="1.1" ry="1.4" />
<ellipse class="bk" cx="589.8" cy="287.5" rx="1.5" ry="2.0" transform="rotate(20 589.8 287.5)" />
<ellipse class="bk" cx="595.6" cy="287.5" rx="1.2" ry="1.2" />
<ellipse class="bk" cx="586.1" cy="298.4" rx="1.8" ry="2.0" />
<ellipse class="bk" cx="580.3" cy="304.9" rx="2.6" ry="2.0" />
<ellipse class="bk" cx="586.9" cy="307.1" rx="1.3" ry="1.3" />
<ellipse class="bk" cx="584.0" cy="302.0" rx="1.0" ry="1.0" />
<ellipse class="bk" cx="568.7" cy="322.3" rx="3.4" ry="2.2" transform="rotate(10 568.7 322.3)" />
<ellipse class="bk" cx="581.0" cy="317.2" rx="1.8" ry="3.0" transform="rotate(15 581.0 317.2)" />
<ellipse class="bk" cx="579.6" cy="311.5" rx="1.2" ry="1.2" />
<ellipse class="bk" cx="570.9" cy="332.5" rx="1.2" ry="2.0" transform="rotate(20 570.9 332.5)" />
<ellipse class="bk" cx="573.0" cy="326.5" rx="1.0" ry="1.0" />
<ellipse class="bk" cx="594.8" cy="329.6" rx="1.0" ry="1.0" />
<ellipse class="bk" cx="603.5" cy="327.4" rx="1.0" ry="1.2" />
<ellipse class="bk" cx="582.8" cy="351.5" rx="1.0" ry="1.0" />
<ellipse class="bk" cx="592.0" cy="305.0" rx="1.0" ry="1.4" />
<ellipse class="bk" cx="597.0" cy="300.0" rx="1.2" ry="1.2" />
<ellipse class="bk" cx="598.0" cy="268.0" rx="1.0" ry="1.0" />
<ellipse class="bk" cx="600.0" cy="262.0" rx="1.0" ry="1.2" />
<ellipse class="bk" cx="588.0" cy="262.0" rx="0.8" ry="0.8" />
<ellipse class="lg" cx="648.2" cy="279.6" rx="2.7" ry="1.5" transform="rotate(113 648.2 279.6)" style="stroke-width:1.3;fill:#e0e0e0"/>
<ellipse class="bk" cx="651.5" cy="283.0" rx="2.0" ry="1.6" transform="rotate(170 651.5 283.0)" />
<ellipse class="bk" cx="647.7" cy="285.8" rx="0.9" ry="1.1" transform="rotate(178 647.7 285.8)" />
<ellipse class="bk" cx="653.9" cy="240.9" rx="0.9" ry="1.9" transform="rotate(47 653.9 240.9)" />
<ellipse class="bk" cx="646.5" cy="287.5" rx="1.1" ry="1.2" transform="rotate(70 646.5 287.5)" />
<ellipse class="bk" cx="650.7" cy="257.9" rx="1.7" ry="3.3" transform="rotate(179 650.7 257.9)" />
<ellipse class="bk" cx="644.7" cy="289.0" rx="1.0" ry="1.0" transform="rotate(99 644.7 289.0)" />
<ellipse class="lg" cx="654.0" cy="276.2" rx="2.0" ry="1.0" transform="rotate(28 654.0 276.2)" style="stroke-width:1.8;fill:none"/>
<ellipse class="bk" cx="651.9" cy="299.8" rx="1.6" ry="1.8" transform="rotate(139 651.9 299.8)" />
<ellipse class="bk" cx="644.2" cy="263.7" rx="1.7" ry="2.3" transform="rotate(138 644.2 263.7)" />
<ellipse class="bk" cx="645.7" cy="237.7" rx="2.0" ry="0.8" transform="rotate(117 645.7 237.7)" />
<ellipse class="bk" cx="648.8" cy="275.6" rx="2.0" ry="0.5" transform="rotate(132 648.8 275.6)" />
<ellipse class="bk" cx="654.2" cy="236.9" rx="1.8" ry="3.1" transform="rotate(4 654.2 236.9)" />
<ellipse class="bk" cx="650.4" cy="286.6" rx="1.0" ry="1.5" transform="rotate(134 650.4 286.6)" />
<ellipse class="bk" cx="653.8" cy="265.3" rx="0.9" ry="1.8" transform="rotate(148 653.8 265.3)" />
<ellipse class="bk" cx="645.2" cy="297.9" rx="1.4" ry="2.1" transform="rotate(105 645.2 297.9)" />
<ellipse class="bk" cx="648.6" cy="264.2" rx="1.4" ry="0.6" transform="rotate(120 648.6 264.2)" />
<ellipse class="bk" cx="652.3" cy="294.6" rx="1.7" ry="1.9" transform="rotate(74 652.3 294.6)" />
<ellipse class="bk" cx="646.5" cy="279.5" rx="2.1" ry="1.8" transform="rotate(10 646.5 279.5)" />
<ellipse class="bk" cx="650.8" cy="293.1" rx="1.7" ry="1.4" transform="rotate(174 650.8 293.1)" />
<ellipse class="bk" cx="644.1" cy="243.1" rx="1.3" ry="1.0" transform="rotate(37 644.1 243.1)" />
<ellipse class="bk" cx="653.0" cy="236.1" rx="1.3" ry="2.3" transform="rotate(74 653.0 236.1)" />
<ellipse class="bk" cx="650.3" cy="298.6" rx="1.5" ry="1.3" transform="rotate(164 650.3 298.6)" />
<ellipse class="bk" cx="645.7" cy="262.9" rx="1.7" ry="1.9" transform="rotate(56 645.7 262.9)" />
<ellipse class="bk" cx="651.7" cy="291.3" rx="0.9" ry="1.7" transform="rotate(41 651.7 291.3)" />
<ellipse class="bk" cx="649.4" cy="292.0" rx="2.0" ry="0.6" transform="rotate(20 649.4 292.0)" />
<ellipse class="bk" cx="645.3" cy="278.3" rx="1.5" ry="1.2" transform="rotate(170 645.3 278.3)" />
<ellipse class="bk" cx="649.5" cy="268.7" rx="0.9" ry="1.8" transform="rotate(12 649.5 268.7)" />
<ellipse class="bk" cx="648.0" cy="249.2" rx="1.1" ry="0.9" transform="rotate(151 648.0 249.2)" />
<ellipse class="bk" cx="652.4" cy="291.4" rx="2.2" ry="2.0" transform="rotate(3 652.4 291.4)" />
<ellipse class="bk" cx="647.9" cy="260.0" rx="0.8" ry="1.0" transform="rotate(141 647.9 260.0)" />
<ellipse class="lg" cx="653.7" cy="247.3" rx="3.6" ry="2.7" transform="rotate(19 653.7 247.3)" style="stroke-width:1.4;fill:#d0d0d0"/>
<ellipse class="bk" cx="645.1" cy="256.2" rx="1.5" ry="1.2" transform="rotate(37 645.1 256.2)" />
<ellipse class="bk" cx="651.2" cy="248.3" rx="1.7" ry="1.4" transform="rotate(4 651.2 248.3)" />
<ellipse class="bk" cx="647.6" cy="276.1" rx="1.6" ry="2.1" transform="rotate(4 647.6 276.1)" />
<ellipse class="lg" cx="644.7" cy="268.1" rx="2.6" ry="3.7" transform="rotate(55 644.7 268.1)" style="stroke-width:1.7;fill:none"/>
<ellipse class="bk" cx="647.7" cy="274.0" rx="1.4" ry="1.2" transform="rotate(179 647.7 274.0)" />
<ellipse class="bk" cx="650.1" cy="287.8" rx="1.4" ry="0.9" transform="rotate(96 650.1 287.8)" />
<ellipse class="bk" cx="648.5" cy="328.1" rx="0.8" ry="2.5" transform="rotate(152 648.5 328.1)" />
<ellipse class="bk" cx="645.1" cy="330.4" rx="1.7" ry="1.3" transform="rotate(147 645.1 330.4)" />
<ellipse class="bk" cx="652.5" cy="325.1" rx="1.7" ry="1.6" transform="rotate(118 652.5 325.1)" />
<ellipse class="bk" cx="650.1" cy="336.6" rx="1.8" ry="2.3" transform="rotate(44 650.1 336.6)" />
<ellipse class="bk" cx="654.7" cy="327.1" rx="1.7" ry="1.0" transform="rotate(38 654.7 327.1)" />
<ellipse class="lg" cx="643.7" cy="318.0" rx="1.5" ry="2.3" transform="rotate(150 643.7 318.0)" style="stroke-width:1.5;fill:none"/>
<ellipse class="bk" cx="646.2" cy="311.4" rx="1.5" ry="1.3" transform="rotate(86 646.2 311.4)" />
<ellipse class="bk" cx="644.4" cy="306.1" rx="1.8" ry="1.8" transform="rotate(101 644.4 306.1)" />
<ellipse class="bk" cx="647.5" cy="326.0" rx="1.7" ry="2.8" transform="rotate(88 647.5 326.0)" />
<ellipse class="bk" cx="654.6" cy="312.8" rx="1.3" ry="2.7" transform="rotate(49 654.6 312.8)" />
<ellipse class="bk" cx="648.5" cy="328.9" rx="1.3" ry="1.2" transform="rotate(160 648.5 328.9)" />
<ellipse class="bk" cx="650.0" cy="319.6" rx="1.7" ry="1.3" transform="rotate(46 650.0 319.6)" />
<ellipse class="bk" cx="643.9" cy="303.9" rx="1.0" ry="0.9" transform="rotate(172 643.9 303.9)" />
<ellipse class="bk" cx="651.8" cy="317.1" rx="1.2" ry="1.8" transform="rotate(146 651.8 317.1)" />
<ellipse class="bk" cx="645.0" cy="300.3" rx="1.5" ry="1.0" transform="rotate(57 645.0 300.3)" />
<ellipse class="bk" cx="644.6" cy="329.3" rx="1.2" ry="2.4" transform="rotate(82 644.6 329.3)" />
<ellipse class="bk" cx="642.2" cy="316.7" rx="1.3" ry="2.8" transform="rotate(115 642.2 316.7)" />
<ellipse class="bk" cx="644.0" cy="331.8" rx="1.0" ry="0.9" transform="rotate(96 644.0 331.8)" />
<ellipse class="bk" cx="654.3" cy="305.3" rx="1.6" ry="0.8" transform="rotate(22 654.3 305.3)" />
<ellipse class="bk" cx="642.5" cy="325.5" rx="2.1" ry="1.2" transform="rotate(41 642.5 325.5)" />
<ellipse class="bk" cx="646.9" cy="320.1" rx="1.7" ry="1.4" transform="rotate(124 646.9 320.1)" />
<ellipse class="bk" cx="643.9" cy="314.9" rx="1.1" ry="1.4" transform="rotate(138 643.9 314.9)" />
<ellipse class="bk" cx="643.0" cy="332.0" rx="2.1" ry="1.2" transform="rotate(69 643.0 332.0)" />
<ellipse class="bk" cx="644.7" cy="307.6" rx="1.0" ry="1.8" transform="rotate(48 644.7 307.6)" />
<ellipse class="bk" cx="641.7" cy="332.0" rx="1.9" ry="1.6" transform="rotate(32 641.7 332.0)" />
<ellipse class="bk" cx="648.7" cy="335.5" rx="1.5" ry="1.0" transform="rotate(105 648.7 335.5)" />
<ellipse class="bk" cx="644.4" cy="315.7" rx="2.0" ry="1.6" transform="rotate(6 644.4 315.7)" />
<ellipse class="bk" cx="649.4" cy="304.7" rx="0.9" ry="1.1" transform="rotate(144 649.4 304.7)" />
<ellipse class="bk" cx="651.1" cy="307.9" rx="1.0" ry="1.5" transform="rotate(176 651.1 307.9)" />
<ellipse class="bk" cx="652.5" cy="325.8" rx="0.9" ry="1.6" transform="rotate(12 652.5 325.8)" />
<ellipse class="bk" cx="649.3" cy="345.7" rx="1.4" ry="2.0" transform="rotate(159 649.3 345.7)" />
<ellipse class="bk" cx="650.5" cy="343.4" rx="0.7" ry="0.5" transform="rotate(92 650.5 343.4)" />
<ellipse class="bk" cx="653.9" cy="345.1" rx="1.0" ry="1.3" transform="rotate(25 653.9 345.1)" />
<ellipse class="bk" cx="637.0" cy="358.9" rx="1.3" ry="1.0" transform="rotate(56 637.0 358.9)" />
<ellipse class="bk" cx="651.5" cy="356.0" rx="1.6" ry="1.7" transform="rotate(10 651.5 356.0)" />
<ellipse class="bk" cx="639.3" cy="363.4" rx="1.0" ry="1.1" transform="rotate(52 639.3 363.4)" />
<ellipse class="bk" cx="651.6" cy="360.4" rx="1.4" ry="1.7" transform="rotate(14 651.6 360.4)" />
<ellipse class="lg" cx="652.1" cy="345.1" rx="1.6" ry="3.4" transform="rotate(24 652.1 345.1)" style="stroke-width:1.6;fill:#e0e0e0"/>
<ellipse class="bk" cx="638.3" cy="340.7" rx="1.5" ry="2.3" transform="rotate(32 638.3 340.7)" />
<ellipse class="bk" cx="642.3" cy="391.5" rx="1.9" ry="1.1" transform="rotate(8 642.3 391.5)" />
<ellipse class="lg" cx="651.3" cy="391.6" rx="2.4" ry="1.9" transform="rotate(55 651.3 391.6)" style="stroke-width:1.2;fill:#e0e0e0"/>
<ellipse class="bk" cx="634.7" cy="372.1" rx="1.3" ry="1.6" transform="rotate(2 634.7 372.1)" />
<ellipse class="bk" cx="645.0" cy="380.3" rx="1.3" ry="1.2" transform="rotate(38 645.0 380.3)" />
<ellipse class="bk" cx="650.2" cy="379.9" rx="2.0" ry="2.4" transform="rotate(166 650.2 379.9)" />
<ellipse class="bk" cx="635.9" cy="390.9" rx="2.0" ry="1.5" transform="rotate(106 635.9 390.9)" />
<ellipse class="bk" cx="638.0" cy="371.9" rx="1.3" ry="0.9" transform="rotate(109 638.0 371.9)" />
<ellipse class="bk" cx="636.8" cy="364.2" rx="2.0" ry="1.7" transform="rotate(174 636.8 364.2)" />
<ellipse class="bk" cx="634.6" cy="367.8" rx="1.7" ry="1.7" transform="rotate(12 634.6 367.8)" />
<ellipse class="bk" cx="651.7" cy="384.0" rx="1.0" ry="1.8" transform="rotate(65 651.7 384.0)" />
<ellipse class="bk" cx="644.8" cy="390.0" rx="1.3" ry="2.8" transform="rotate(154 644.8 390.0)" />
<ellipse class="bk" cx="651.5" cy="377.9" rx="1.6" ry="0.6" transform="rotate(119 651.5 377.9)" />
<ellipse class="bk" cx="634.1" cy="373.5" rx="2.0" ry="1.1" transform="rotate(38 634.1 373.5)" />
<ellipse class="bk" cx="653.0" cy="370.1" rx="1.1" ry="1.2" transform="rotate(153 653.0 370.1)" />
<ellipse class="bk" cx="638.6" cy="377.1" rx="1.8" ry="2.4" transform="rotate(110 638.6 377.1)" />
<ellipse class="bk" cx="654.4" cy="378.7" rx="2.2" ry="1.6" transform="rotate(135 654.4 378.7)" />
<ellipse class="lg" cx="643.5" cy="386.1" rx="3.0" ry="2.8" transform="rotate(80 643.5 386.1)" style="stroke-width:1.4;fill:none"/>
<ellipse class="bk" cx="641.2" cy="387.7" rx="1.8" ry="2.2" transform="rotate(171 641.2 387.7)" />
<ellipse class="lg" cx="654.1" cy="382.0" rx="3.0" ry="1.7" transform="rotate(17 654.1 382.0)" style="stroke-width:1.3;fill:#d0d0d0"/>
<ellipse class="bk" cx="638.5" cy="389.1" rx="1.3" ry="1.3" transform="rotate(78 638.5 389.1)" />
<ellipse class="bk" cx="648.7" cy="383.9" rx="1.4" ry="2.2" transform="rotate(120 648.7 383.9)" />
<ellipse class="bk" cx="635.2" cy="366.7" rx="1.6" ry="1.7" transform="rotate(136 635.2 366.7)" />
<ellipse class="bk" cx="638.9" cy="383.7" rx="1.4" ry="1.3" transform="rotate(137 638.9 383.7)" />
<ellipse class="bk" cx="653.6" cy="375.1" rx="1.7" ry="1.4" transform="rotate(107 653.6 375.1)" />
<ellipse class="bk" cx="645.5" cy="384.5" rx="1.9" ry="1.3" transform="rotate(156 645.5 384.5)" />
<ellipse class="bk" cx="648.6" cy="364.0" rx="2.1" ry="2.6" transform="rotate(114 648.6 364.0)" />
<ellipse class="lg" cx="652.1" cy="370.3" rx="2.3" ry="2.0" transform="rotate(150 652.1 370.3)" style="stroke-width:1.3;fill:none"/>
<ellipse class="bk" cx="649.7" cy="386.3" rx="2.2" ry="1.6" transform="rotate(100 649.7 386.3)" />
<ellipse class="bk" cx="649.3" cy="381.4" rx="1.0" ry="0.9" transform="rotate(109 649.3 381.4)" />
<ellipse class="lg" cx="640.2" cy="373.9" rx="2.9" ry="3.5" transform="rotate(162 640.2 373.9)" style="stroke-width:1.5;fill:none"/>
<ellipse class="bk" cx="634.9" cy="375.1" rx="1.8" ry="1.9" transform="rotate(13 634.9 375.1)" />
<ellipse class="bk" cx="643.3" cy="365.4" rx="1.3" ry="1.3" transform="rotate(109 643.3 365.4)" />
<ellipse class="bk" cx="639.4" cy="390.4" rx="1.0" ry="1.6" transform="rotate(40 639.4 390.4)" />
<ellipse class="bk" cx="649.5" cy="381.9" rx="1.1" ry="1.9" transform="rotate(76 649.5 381.9)" />
<ellipse class="bk" cx="649.0" cy="377.0" rx="1.5" ry="0.9" transform="rotate(176 649.0 377.0)" />
<ellipse class="bk" cx="646.3" cy="389.4" rx="2.0" ry="1.6" transform="rotate(12 646.3 389.4)" />
<ellipse class="bk" cx="638.4" cy="384.7" rx="2.0" ry="1.6" transform="rotate(63 638.4 384.7)" />
<ellipse class="lg" cx="638.5" cy="371.1" rx="3.1" ry="4.6" transform="rotate(169 638.5 371.1)" style="stroke-width:1.4;fill:#e0e0e0"/>
<ellipse class="bk" cx="654.1" cy="376.1" rx="2.2" ry="1.1" transform="rotate(43 654.1 376.1)" />
<ellipse class="bk" cx="652.9" cy="364.5" rx="1.9" ry="1.3" transform="rotate(105 652.9 364.5)" />
<ellipse class="bk" cx="646.7" cy="372.1" rx="1.9" ry="1.5" transform="rotate(117 646.7 372.1)" />
<ellipse class="lg" cx="635.5" cy="385.3" rx="1.4" ry="1.6" transform="rotate(117 635.5 385.3)" style="stroke-width:1.6;fill:none"/>
<ellipse class="bk" cx="641.3" cy="368.0" rx="2.2" ry="2.5" transform="rotate(97 641.3 368.0)" />
<ellipse class="bk" cx="634.0" cy="385.4" rx="1.8" ry="2.6" transform="rotate(90 634.0 385.4)" />
<ellipse class="bk" cx="648.8" cy="388.2" rx="2.2" ry="0.8" transform="rotate(153 648.8 388.2)" />
<ellipse class="bk" cx="638.1" cy="376.6" rx="1.0" ry="3.0" transform="rotate(167 638.1 376.6)" />
<ellipse class="bk" cx="640.2" cy="381.8" rx="2.2" ry="3.6" transform="rotate(147 640.2 381.8)" />
<ellipse class="bk" cx="644.3" cy="386.8" rx="1.4" ry="3.3" transform="rotate(139 644.3 386.8)" />
<ellipse class="bk" cx="634.1" cy="376.9" rx="1.2" ry="1.4" transform="rotate(109 634.1 376.9)" />
<ellipse class="bk" cx="651.3" cy="370.6" rx="1.2" ry="2.0" transform="rotate(64 651.3 370.6)" />
<ellipse class="bk" cx="640.6" cy="374.8" rx="1.9" ry="0.9" transform="rotate(59 640.6 374.8)" />
<ellipse class="bk" cx="639.3" cy="389.4" rx="2.3" ry="2.4" transform="rotate(110 639.3 389.4)" />
<ellipse class="bk" cx="648.4" cy="387.9" rx="2.2" ry="3.1" transform="rotate(179 648.4 387.9)" />
<ellipse class="bk" cx="645.9" cy="378.2" rx="2.0" ry="2.6" transform="rotate(151 645.9 378.2)" />
<ellipse class="bk" cx="649.3" cy="372.5" rx="1.5" ry="1.7" transform="rotate(78 649.3 372.5)" />
<ellipse class="bk" cx="638.9" cy="366.4" rx="1.8" ry="1.2" transform="rotate(46 638.9 366.4)" />
<ellipse class="bk" cx="649.1" cy="388.5" rx="2.0" ry="2.1" transform="rotate(136 649.1 388.5)" />
<ellipse class="bk" cx="643.9" cy="382.0" rx="1.3" ry="2.0" transform="rotate(40 643.9 382.0)" />
<ellipse class="bk" cx="643.7" cy="369.9" rx="1.4" ry="1.9" transform="rotate(30 643.7 369.9)" />
<ellipse class="bk" cx="640.0" cy="378.7" rx="1.4" ry="1.3" transform="rotate(148 640.0 378.7)" />
<ellipse class="lg" cx="651.0" cy="380.1" rx="1.7" ry="4.0" transform="rotate(57 651.0 380.1)" style="stroke-width:1.8;fill:#e0e0e0"/>
<ellipse class="bk" cx="636.3" cy="368.1" rx="1.6" ry="1.5" transform="rotate(78 636.3 368.1)" />
<ellipse class="bk" cx="647.2" cy="376.0" rx="0.9" ry="1.6" transform="rotate(11 647.2 376.0)" />
<ellipse class="bk" cx="644.2" cy="385.5" rx="2.1" ry="1.8" transform="rotate(89 644.2 385.5)" />
<ellipse class="bk" cx="651.2" cy="368.8" rx="1.3" ry="1.4" transform="rotate(180 651.2 368.8)" />
<ellipse class="bk" cx="651.0" cy="366.5" rx="1.7" ry="1.9" transform="rotate(121 651.0 366.5)" />
<ellipse class="bk" cx="650.3" cy="381.4" rx="1.1" ry="0.9" transform="rotate(122 650.3 381.4)" />
<ellipse class="lg" cx="639.2" cy="367.3" rx="1.8" ry="1.1" transform="rotate(108 639.2 367.3)" style="stroke-width:1.4;fill:#d0d0d0"/>
<ellipse class="bk" cx="644.7" cy="376.6" rx="2.2" ry="2.6" transform="rotate(157 644.7 376.6)" />
<ellipse class="bk" cx="650.0" cy="366.4" rx="1.9" ry="1.8" transform="rotate(46 650.0 366.4)" />
<path class="lg" d="M644.4,273.4 L657.0,273.0 L657.0,287.5 L646.0,287.3 L644.8,281.0" style="stroke-width:2.2"/>
<path class="lg" d="M638.6,309.0 L645.0,306.0 L657.0,306.0 L657.0,315.0 L648.0,314.5 L641.0,312.5" style="stroke-width:2.2"/>
<path class="lg" d="M648.5,318.0 L653.5,317.5 L654.0,329.0 L649.5,330.5 L647.5,325.0" style="stroke-width:2.2"/>
<ellipse class="bk" cx="651.0" cy="252.5" rx="4.5" ry="5.2" />
<ellipse class="bk" cx="644.7" cy="279.0" rx="2.0" ry="4.5" />
<ellipse class="bk" cx="641.0" cy="353.0" rx="2.2" ry="3.6" transform="rotate(-35 641.0 353.0)" />
<ellipse class="bk" cx="638.5" cy="348.0" rx="1.4" ry="2.4" transform="rotate(-35 638.5 348.0)" />
<ellipse class="bk" cx="637.8" cy="415.4" rx="0.6" ry="1.1" transform="rotate(63 637.8 415.4)" />
<ellipse class="bk" cx="642.3" cy="415.3" rx="0.9" ry="1.2" transform="rotate(145 642.3 415.3)" />
<ellipse class="bk" cx="644.2" cy="440.5" rx="0.9" ry="1.8" transform="rotate(37 644.2 440.5)" />
<ellipse class="lg" cx="641.4" cy="423.8" rx="1.5" ry="1.5" transform="rotate(17 641.4 423.8)" style="stroke-width:1.6;fill:none"/>
<ellipse class="bk" cx="644.1" cy="467.2" rx="0.9" ry="0.8" transform="rotate(112 644.1 467.2)" />
<ellipse class="bk" cx="638.2" cy="408.7" rx="1.4" ry="1.5" transform="rotate(158 638.2 408.7)" />
<ellipse class="bk" cx="643.4" cy="428.9" rx="1.6" ry="1.0" transform="rotate(157 643.4 428.9)" />
<ellipse class="lg" cx="645.0" cy="434.8" rx="2.1" ry="1.3" transform="rotate(62 645.0 434.8)" style="stroke-width:1.6;fill:none"/>
<ellipse class="bk" cx="639.4" cy="437.3" rx="0.6" ry="0.6" transform="rotate(85 639.4 437.3)" />
<ellipse class="lg" cx="644.6" cy="454.7" rx="1.8" ry="1.9" transform="rotate(27 644.6 454.7)" style="stroke-width:1.2;fill:#e0e0e0"/>
<ellipse class="bk" cx="636.2" cy="466.8" rx="1.2" ry="1.7" transform="rotate(135 636.2 466.8)" />
<ellipse class="bk" cx="639.9" cy="419.1" rx="1.0" ry="1.7" transform="rotate(120 639.9 419.1)" />
<ellipse class="bk" cx="642.9" cy="409.9" rx="1.4" ry="1.7" transform="rotate(165 642.9 409.9)" />
<ellipse class="bk" cx="637.0" cy="451.1" rx="1.1" ry="2.4" transform="rotate(32 637.0 451.1)" />
<ellipse class="lg" cx="638.6" cy="434.1" rx="2.5" ry="1.7" transform="rotate(143 638.6 434.1)" style="stroke-width:1.2;fill:none"/>
<ellipse class="lg" cx="640.5" cy="445.8" rx="2.3" ry="3.4" transform="rotate(140 640.5 445.8)" style="stroke-width:1.6;fill:#d0d0d0"/>
<ellipse class="bk" cx="647.8" cy="440.0" rx="0.8" ry="0.6" transform="rotate(132 647.8 440.0)" />
<ellipse class="bk" cx="639.8" cy="404.5" rx="0.6" ry="1.9" transform="rotate(166 639.8 404.5)" />
<ellipse class="bk" cx="639.7" cy="439.5" rx="0.8" ry="1.2" transform="rotate(166 639.7 439.5)" />
<ellipse class="bk" cx="647.4" cy="425.9" rx="1.5" ry="0.9" transform="rotate(78 647.4 425.9)" />
<ellipse class="bk" cx="641.6" cy="450.2" rx="0.9" ry="0.5" transform="rotate(3 641.6 450.2)" />
<ellipse class="bk" cx="647.8" cy="431.0" rx="1.1" ry="1.8" transform="rotate(53 647.8 431.0)" />
<ellipse class="bk" cx="641.3" cy="412.7" rx="1.2" ry="1.0" transform="rotate(53 641.3 412.7)" />
<ellipse class="bk" cx="643.0" cy="432.6" rx="0.8" ry="1.9" transform="rotate(53 643.0 432.6)" />
<ellipse class="bk" cx="642.9" cy="417.9" rx="1.0" ry="1.8" transform="rotate(74 642.9 417.9)" />
<ellipse class="bk" cx="637.5" cy="408.5" rx="1.3" ry="1.0" transform="rotate(130 637.5 408.5)" />
<ellipse class="lg" cx="636.7" cy="407.5" rx="2.2" ry="1.8" transform="rotate(55 636.7 407.5)" style="stroke-width:1.4;fill:#e0e0e0"/>
<ellipse class="bk" cx="640.4" cy="438.9" rx="1.5" ry="1.0" transform="rotate(40 640.4 438.9)" />
<ellipse class="bk" cx="639.2" cy="418.3" rx="0.7" ry="2.4" transform="rotate(158 639.2 418.3)" />
<ellipse class="bk" cx="640.8" cy="466.1" rx="0.8" ry="1.1" transform="rotate(141 640.8 466.1)" />
<ellipse class="bk" cx="642.1" cy="408.7" rx="1.4" ry="1.5" transform="rotate(23 642.1 408.7)" />
<ellipse class="bk" cx="644.1" cy="406.9" rx="1.3" ry="2.0" transform="rotate(37 644.1 406.9)" />
<ellipse class="bk" cx="638.9" cy="415.2" rx="1.6" ry="0.6" transform="rotate(11 638.9 415.2)" />
<ellipse class="bk" cx="641.5" cy="445.3" rx="1.5" ry="0.4" transform="rotate(0 641.5 445.3)" />
<ellipse class="bk" cx="636.9" cy="453.6" rx="0.8" ry="2.3" transform="rotate(36 636.9 453.6)" />
<ellipse class="bk" cx="637.6" cy="409.1" rx="1.2" ry="0.6" transform="rotate(3 637.6 409.1)" />
<ellipse class="lg" cx="600.1" cy="387.4" rx="3.4" ry="2.0" transform="rotate(-35 600.1 387.4)" style="stroke-width:1.8;fill:#fff"/>
<path class="ln" d="M605.5,390.5 L608.0,388.0 L611.0,385.4 L616.6,382.4 L621.4,385.5 L623.6,391.0 L625.3,397.9 L624.8,406.0 L623.6,413.5 L621.9,419.5" stroke-width="5.2"/>
<path class="ln" d="M611.0,385.4 L616.6,382.4 L621.4,385.5 L623.6,391.0 L625.3,397.9 L624.8,406.0 L623.6,413.5" stroke-width="1.6" style="stroke:#e8e8e8"/>
<ellipse class="bk" cx="622.9" cy="395.5" rx="1.4" ry="1.4" transform="rotate(169 622.9 395.5)" />
<ellipse class="bk" cx="610.4" cy="385.8" rx="1.1" ry="1.1" transform="rotate(133 610.4 385.8)" />
<ellipse class="bk" cx="623.7" cy="415.6" rx="0.9" ry="1.1" transform="rotate(39 623.7 415.6)" />
<ellipse class="bk" cx="624.1" cy="391.2" rx="1.0" ry="1.7" transform="rotate(126 624.1 391.2)" />
<ellipse class="bk" cx="610.9" cy="386.7" rx="1.2" ry="1.6" transform="rotate(124 610.9 386.7)" />
<ellipse class="bk" cx="622.5" cy="389.6" rx="1.6" ry="1.5" transform="rotate(16 622.5 389.6)" />
<ellipse class="bk" cx="606.0" cy="388.4" rx="1.6" ry="1.4" transform="rotate(25 606.0 388.4)" />
<ellipse class="bk" cx="623.0" cy="388.6" rx="1.1" ry="1.5" transform="rotate(51 623.0 388.6)" />
<ellipse class="bk" cx="621.5" cy="419.2" rx="1.6" ry="1.2" transform="rotate(162 621.5 419.2)" />
<ellipse class="bk" cx="624.9" cy="394.4" rx="1.1" ry="1.3" transform="rotate(147 624.9 394.4)" />
<ellipse class="bk" cx="613.3" cy="386.8" rx="0.9" ry="1.4" transform="rotate(43 613.3 386.8)" />
<ellipse class="bk" cx="611.5" cy="385.7" rx="1.2" ry="1.5" transform="rotate(110 611.5 385.7)" />
<ellipse class="bk" cx="625.5" cy="414.2" rx="0.9" ry="1.6" transform="rotate(27 625.5 414.2)" />
<ellipse class="bk" cx="620.3" cy="387.2" rx="1.0" ry="1.6" transform="rotate(99 620.3 387.2)" />
<ellipse class="bk" cx="626.3" cy="397.9" rx="1.0" ry="1.5" transform="rotate(114 626.3 397.9)" />
<ellipse class="bk" cx="621.2" cy="387.0" rx="1.2" ry="1.5" transform="rotate(54 621.2 387.0)" />
<path class="ln" d="M609.5,410.5 L604.0,412.5 L600.2,417.0 L600.4,422.0 L603.4,426.4 L607.5,428.6" stroke-width="4.6"/>
<ellipse class="bk" cx="604.7" cy="416.2" rx="1.1" ry="1.4" transform="rotate(8 604.7 416.2)" />
<ellipse class="bk" cx="600.7" cy="429.0" rx="1.7" ry="1.3" transform="rotate(145 600.7 429.0)" />
<ellipse class="bk" cx="608.3" cy="409.2" rx="1.8" ry="1.9" transform="rotate(10 608.3 409.2)" />
<ellipse class="bk" cx="599.9" cy="423.4" rx="1.1" ry="1.9" transform="rotate(35 599.9 423.4)" />
<ellipse class="bk" cx="603.6" cy="429.9" rx="1.3" ry="0.6" transform="rotate(38 603.6 429.9)" />
<ellipse class="bk" cx="603.3" cy="418.4" rx="0.8" ry="1.4" transform="rotate(108 603.3 418.4)" />
<ellipse class="bk" cx="603.6" cy="427.7" rx="1.4" ry="1.1" transform="rotate(176 603.6 427.7)" />
<ellipse class="bk" cx="603.7" cy="428.6" rx="1.3" ry="2.2" transform="rotate(10 603.7 428.6)" />
<ellipse class="bk" cx="599.8" cy="416.2" rx="1.7" ry="1.6" transform="rotate(0 599.8 416.2)" />
<ellipse class="bk" cx="608.5" cy="411.1" rx="1.5" ry="1.4" transform="rotate(60 608.5 411.1)" />
<ellipse class="bk" cx="604.1" cy="426.4" rx="1.7" ry="2.1" transform="rotate(69 604.1 426.4)" />
<ellipse class="bk" cx="602.0" cy="414.1" rx="1.4" ry="0.8" transform="rotate(160 602.0 414.1)" />
<ellipse class="bk" cx="610.5" cy="412.8" rx="1.6" ry="0.7" transform="rotate(28 610.5 412.8)" />
<ellipse class="bk" cx="605.4" cy="429.4" rx="1.4" ry="1.2" transform="rotate(60 605.4 429.4)" />
<ellipse class="bk" cx="603.6" cy="418.4" rx="1.3" ry="1.1" transform="rotate(116 603.6 418.4)" />
<ellipse class="bk" cx="602.4" cy="413.5" rx="1.1" ry="1.6" transform="rotate(33 602.4 413.5)" />
<ellipse class="lg" cx="602.4" cy="448.9" rx="1.4" ry="1.1" transform="rotate(146 602.4 448.9)" style="stroke-width:1.6;fill:#e0e0e0"/>
<ellipse class="bk" cx="609.4" cy="439.6" rx="0.9" ry="2.3" transform="rotate(28 609.4 439.6)" />
<ellipse class="bk" cx="606.0" cy="444.5" rx="1.2" ry="1.5" transform="rotate(86 606.0 444.5)" />
<ellipse class="lg" cx="604.9" cy="436.8" rx="2.0" ry="1.3" transform="rotate(46 604.9 436.8)" style="stroke-width:1.8;fill:#d0d0d0"/>
<ellipse class="bk" cx="603.5" cy="444.0" rx="0.8" ry="2.4" transform="rotate(104 603.5 444.0)" />
<ellipse class="lg" cx="606.6" cy="443.0" rx="2.3" ry="3.3" transform="rotate(89 606.6 443.0)" style="stroke-width:1.8;fill:none"/>
<ellipse class="bk" cx="610.9" cy="438.3" rx="1.0" ry="0.9" transform="rotate(147 610.9 438.3)" />
<ellipse class="bk" cx="609.4" cy="436.6" rx="1.6" ry="1.4" transform="rotate(43 609.4 436.6)" />
<ellipse class="bk" cx="604.6" cy="443.1" rx="0.9" ry="0.6" transform="rotate(134 604.6 443.1)" />
<ellipse class="bk" cx="604.9" cy="436.5" rx="1.6" ry="0.7" transform="rotate(88 604.9 436.5)" />
<ellipse class="bk" cx="606.2" cy="448.0" rx="1.0" ry="1.1" transform="rotate(44 606.2 448.0)" />
<ellipse class="bk" cx="602.1" cy="441.1" rx="0.9" ry="1.0" transform="rotate(115 602.1 441.1)" />
<ellipse class="bk" cx="602.1" cy="440.1" rx="1.2" ry="0.8" transform="rotate(138 602.1 440.1)" />
<ellipse class="bk" cx="610.4" cy="436.8" rx="1.8" ry="0.8" transform="rotate(113 610.4 436.8)" />
<ellipse class="bk" cx="607.6" cy="444.3" rx="1.7" ry="0.7" transform="rotate(83 607.6 444.3)" />
<ellipse class="bk" cx="603.0" cy="439.8" rx="1.6" ry="1.3" transform="rotate(32 603.0 439.8)" />
<ellipse class="lg" cx="607.4" cy="440.0" rx="2.2" ry="1.9" transform="rotate(99 607.4 440.0)" style="stroke-width:1.4;fill:#d0d0d0"/>
<ellipse class="bk" cx="607.4" cy="445.5" rx="1.3" ry="0.6" transform="rotate(32 607.4 445.5)" />
<ellipse class="lg" cx="609.2" cy="440.6" rx="2.4" ry="1.7" transform="rotate(159 609.2 440.6)" style="stroke-width:1.4;fill:none"/>
<ellipse class="bk" cx="608.9" cy="446.1" rx="1.4" ry="1.3" transform="rotate(109 608.9 446.1)" />
<ellipse class="bk" cx="627.9" cy="442.1" rx="1.6" ry="1.3" transform="rotate(47 627.9 442.1)" />
<ellipse class="bk" cx="628.7" cy="441.3" rx="1.7" ry="1.9" transform="rotate(7 628.7 441.3)" />
<ellipse class="bk" cx="625.5" cy="444.6" rx="1.5" ry="1.5" transform="rotate(52 625.5 444.6)" />
<ellipse class="bk" cx="624.4" cy="444.7" rx="0.9" ry="0.9" transform="rotate(170 624.4 444.7)" />
<ellipse class="bk" cx="624.9" cy="440.3" rx="1.5" ry="1.5" transform="rotate(138 624.9 440.3)" />
<ellipse class="bk" cx="620.5" cy="440.1" rx="1.1" ry="1.2" transform="rotate(16 620.5 440.1)" />
<ellipse class="bk" cx="622.6" cy="439.2" rx="1.1" ry="1.0" transform="rotate(47 622.6 439.2)" />
<ellipse class="bk" cx="622.3" cy="437.3" rx="1.5" ry="0.9" transform="rotate(170 622.3 437.3)" />
<ellipse class="bk" cx="623.7" cy="439.3" rx="1.1" ry="1.5" transform="rotate(124 623.7 439.3)" />
<ellipse class="bk" cx="624.7" cy="440.8" rx="1.9" ry="1.2" transform="rotate(26 624.7 440.8)" />
<ellipse class="bk" cx="626.9" cy="440.9" rx="1.0" ry="2.7" transform="rotate(40 626.9 440.9)" />
<ellipse class="bk" cx="619.2" cy="444.2" rx="1.8" ry="2.3" transform="rotate(82 619.2 444.2)" />
<ellipse class="bk" cx="627.1" cy="443.9" rx="0.9" ry="2.0" transform="rotate(34 627.1 443.9)" />
<ellipse class="bk" cx="626.7" cy="438.9" rx="0.8" ry="1.9" transform="rotate(165 626.7 438.9)" />
<ellipse class="bk" cx="617.0" cy="441.1" rx="1.5" ry="1.8" transform="rotate(94 617.0 441.1)" />
<ellipse class="bk" cx="626.0" cy="440.3" rx="1.4" ry="1.8" transform="rotate(138 626.0 440.3)" />
<ellipse class="bk" cx="622.3" cy="438.2" rx="0.9" ry="2.2" transform="rotate(97 622.3 438.2)" />
<ellipse class="bk" cx="626.6" cy="439.4" rx="1.4" ry="1.2" transform="rotate(56 626.6 439.4)" />
<ellipse class="bk" cx="627.6" cy="419.8" rx="0.9" ry="0.8" transform="rotate(58 627.6 419.8)" />
<ellipse class="lg" cx="625.5" cy="422.8" rx="2.1" ry="1.8" transform="rotate(159 625.5 422.8)" style="stroke-width:1.2;fill:none"/>
<ellipse class="bk" cx="627.1" cy="421.6" rx="1.5" ry="1.2" transform="rotate(172 627.1 421.6)" />
<ellipse class="bk" cx="620.9" cy="429.8" rx="1.0" ry="1.0" transform="rotate(55 620.9 429.8)" />
<ellipse class="bk" cx="626.8" cy="417.0" rx="1.5" ry="1.9" transform="rotate(61 626.8 417.0)" />
<ellipse class="bk" cx="622.3" cy="427.7" rx="1.2" ry="1.0" transform="rotate(122 622.3 427.7)" />
<ellipse class="bk" cx="626.8" cy="426.2" rx="1.3" ry="0.8" transform="rotate(132 626.8 426.2)" />
<ellipse class="bk" cx="626.1" cy="420.7" rx="1.4" ry="0.9" transform="rotate(87 626.1 420.7)" />
<ellipse class="bk" cx="627.2" cy="429.8" rx="1.3" ry="1.2" transform="rotate(26 627.2 429.8)" />
<ellipse class="lg" cx="624.4" cy="419.4" rx="1.8" ry="1.5" transform="rotate(120 624.4 419.4)" style="stroke-width:1.3;fill:none"/>
<path class="lg" d="M612.5,465.5 L613.6,457.0 L618.4,451.0 L625.6,447.0 L628.4,449.0 L622.4,456.4 L616.4,463.0" style="stroke-width:2"/>
<ellipse class="lg" cx="607.9" cy="464.9" rx="2.6" ry="2.8" style="stroke-width:1.8;fill:#fff"/>
<ellipse class="bk" cx="606.1" cy="458.8" rx="1.5" ry="0.8" transform="rotate(9 606.1 458.8)" />
<ellipse class="bk" cx="613.5" cy="465.1" rx="0.9" ry="0.8" transform="rotate(150 613.5 465.1)" />
<ellipse class="bk" cx="608.9" cy="460.9" rx="0.9" ry="0.8" transform="rotate(23 608.9 460.9)" />
<ellipse class="bk" cx="608.9" cy="471.3" rx="1.1" ry="1.4" transform="rotate(155 608.9 471.3)" />
<ellipse class="bk" cx="604.1" cy="478.3" rx="1.5" ry="1.2" transform="rotate(169 604.1 478.3)" />
<ellipse class="bk" cx="611.1" cy="470.4" rx="1.3" ry="0.7" transform="rotate(6 611.1 470.4)" />
<ellipse class="bk" cx="603.0" cy="472.5" rx="1.4" ry="0.6" transform="rotate(32 603.0 472.5)" />
<ellipse class="bk" cx="614.0" cy="457.8" rx="1.0" ry="1.7" transform="rotate(5 614.0 457.8)" />
<ellipse class="bk" cx="613.2" cy="460.3" rx="1.4" ry="1.2" transform="rotate(24 613.2 460.3)" />
<ellipse class="bk" cx="610.2" cy="463.8" rx="0.8" ry="1.3" transform="rotate(66 610.2 463.8)" />
<ellipse class="lg" cx="604.0" cy="475.0" rx="1.2" ry="1.1" transform="rotate(71 604.0 475.0)" style="stroke-width:1.3;fill:#e0e0e0"/>
<ellipse class="bk" cx="610.2" cy="469.5" rx="0.7" ry="1.3" transform="rotate(123 610.2 469.5)" />
<ellipse class="bk" cx="617.9" cy="469.5" rx="1.2" ry="1.2" transform="rotate(113 617.9 469.5)" />
<ellipse class="bk" cx="616.9" cy="461.0" rx="1.3" ry="0.9" transform="rotate(3 616.9 461.0)" />
<ellipse class="bk" cx="610.2" cy="463.8" rx="1.3" ry="2.1" transform="rotate(34 610.2 463.8)" />
<ellipse class="bk" cx="608.9" cy="470.0" rx="1.4" ry="0.9" transform="rotate(150 608.9 470.0)" />
<ellipse class="bk" cx="595.9" cy="490.3" rx="3.3" ry="4.8" transform="rotate(25 595.9 490.3)" />
<ellipse class="bk" cx="594.0" cy="494.5" rx="2.0" ry="2.4" />
<ellipse class="bk" cx="591.4" cy="518.4" rx="1.4" ry="1.4" />
<ellipse class="bk" cx="590.9" cy="535.8" rx="1.0" ry="1.0" />
<path class="ln" d="M579.3,548.5 L579.6,553.0" stroke-width="2.4"/>
<path class="ln" d="M579.5,556.0 L579.7,560.0" stroke-width="2.0"/>
<ellipse class="bk" cx="574.8" cy="457.4" rx="1.0" ry="1.0" />
<ellipse class="bk" cx="583.0" cy="447.0" rx="1.0" ry="1.0" />
<ellipse class="bk" cx="582.0" cy="404.0" rx="1.1" ry="1.1" />
<ellipse class="bk" cx="583.5" cy="416.0" rx="1.1" ry="1.1" />
<ellipse class="bk" cx="581.0" cy="343.0" rx="1.0" ry="1.0" />
<path class="lg" d="M652.4,442.0 L655.0,444.4 L648.0,456.0 L642.4,468.4 L639.6,467.0 L645.0,454.0" style="stroke-width:1.7"/>
<ellipse class="bk" cx="643.0" cy="474.9" rx="0.7" ry="0.9" transform="rotate(61 643.0 474.9)" />
<ellipse class="bk" cx="645.8" cy="463.5" rx="0.8" ry="1.4" transform="rotate(27 645.8 463.5)" />
<ellipse class="lg" cx="636.4" cy="474.5" rx="2.5" ry="3.6" transform="rotate(88 636.4 474.5)" style="stroke-width:1.6;fill:#e0e0e0"/>
<ellipse class="bk" cx="643.9" cy="494.7" rx="1.0" ry="0.5" transform="rotate(56 643.9 494.7)" />
<ellipse class="bk" cx="640.2" cy="462.5" rx="1.2" ry="1.1" transform="rotate(7 640.2 462.5)" />
<ellipse class="bk" cx="644.4" cy="491.3" rx="1.0" ry="2.3" transform="rotate(162 644.4 491.3)" />
<ellipse class="bk" cx="639.4" cy="477.0" rx="1.4" ry="1.1" transform="rotate(3 639.4 477.0)" />
<ellipse class="lg" cx="638.2" cy="494.6" rx="2.3" ry="1.3" transform="rotate(133 638.2 494.6)" style="stroke-width:1.7;fill:#d0d0d0"/>
<ellipse class="bk" cx="638.7" cy="496.8" rx="1.3" ry="1.3" transform="rotate(107 638.7 496.8)" />
<ellipse class="bk" cx="641.5" cy="477.5" rx="1.5" ry="0.9" transform="rotate(137 641.5 477.5)" />
<ellipse class="bk" cx="638.1" cy="487.6" rx="0.7" ry="0.7" transform="rotate(17 638.1 487.6)" />
<ellipse class="bk" cx="640.1" cy="485.1" rx="1.5" ry="0.5" transform="rotate(108 640.1 485.1)" />
<ellipse class="bk" cx="640.3" cy="491.7" rx="1.1" ry="1.4" transform="rotate(15 640.3 491.7)" />
<ellipse class="bk" cx="644.9" cy="484.0" rx="1.0" ry="0.9" transform="rotate(136 644.9 484.0)" />
<ellipse class="bk" cx="638.3" cy="484.0" rx="1.4" ry="1.2" transform="rotate(72 638.3 484.0)" />
<ellipse class="bk" cx="644.3" cy="496.7" rx="1.0" ry="1.1" transform="rotate(162 644.3 496.7)" />
<ellipse class="bk" cx="630.7" cy="510.8" rx="1.1" ry="1.1" transform="rotate(128 630.7 510.8)" />
<ellipse class="bk" cx="626.1" cy="527.4" rx="1.2" ry="1.0" transform="rotate(120 626.1 527.4)" />
<ellipse class="lg" cx="625.9" cy="522.6" rx="2.4" ry="1.8" transform="rotate(129 625.9 522.6)" style="stroke-width:1.3;fill:#e0e0e0"/>
<ellipse class="bk" cx="626.9" cy="523.6" rx="0.9" ry="1.8" transform="rotate(33 626.9 523.6)" />
<ellipse class="bk" cx="624.9" cy="505.2" rx="1.8" ry="1.7" transform="rotate(110 624.9 505.2)" />
<ellipse class="bk" cx="628.4" cy="511.9" rx="1.5" ry="1.7" transform="rotate(49 628.4 511.9)" />
<ellipse class="bk" cx="628.7" cy="519.7" rx="1.4" ry="2.1" transform="rotate(168 628.7 519.7)" />
<ellipse class="bk" cx="624.6" cy="516.0" rx="1.6" ry="0.6" transform="rotate(49 624.6 516.0)" />
<ellipse class="bk" cx="626.8" cy="523.0" rx="1.5" ry="1.6" transform="rotate(0 626.8 523.0)" />
<ellipse class="bk" cx="626.8" cy="511.6" rx="1.2" ry="1.7" transform="rotate(154 626.8 511.6)" />
<ellipse class="bk" cx="626.1" cy="512.7" rx="1.2" ry="1.5" transform="rotate(173 626.1 512.7)" />
<ellipse class="lg" cx="624.1" cy="524.9" rx="3.1" ry="2.0" transform="rotate(14 624.1 524.9)" style="stroke-width:1.3;fill:#d0d0d0"/>
<ellipse class="bk" cx="630.3" cy="507.5" rx="0.9" ry="2.7" transform="rotate(58 630.3 507.5)" />
<ellipse class="bk" cx="630.1" cy="525.5" rx="1.1" ry="0.6" transform="rotate(106 630.1 525.5)" />
<ellipse class="lg" cx="625.2" cy="508.8" rx="1.6" ry="1.4" transform="rotate(94 625.2 508.8)" style="stroke-width:1.7;fill:none"/>
<ellipse class="bk" cx="627.6" cy="505.3" rx="1.2" ry="1.7" transform="rotate(42 627.6 505.3)" />
<ellipse class="bk" cx="626.8" cy="505.7" rx="1.8" ry="1.7" transform="rotate(175 626.8 505.7)" />
<ellipse class="bk" cx="631.6" cy="506.3" rx="1.8" ry="2.1" transform="rotate(78 631.6 506.3)" />
<ellipse class="bk" cx="627.2" cy="507.9" rx="1.2" ry="1.2" transform="rotate(166 627.2 507.9)" />
<ellipse class="bk" cx="632.5" cy="511.5" rx="0.9" ry="1.6" transform="rotate(25 632.5 511.5)" />
<ellipse class="bk" cx="628.8" cy="512.1" rx="1.9" ry="1.5" transform="rotate(180 628.8 512.1)" />
<ellipse class="bk" cx="628.9" cy="521.2" rx="1.6" ry="1.4" transform="rotate(83 628.9 521.2)" />
<ellipse class="bk" cx="630.3" cy="510.7" rx="1.1" ry="0.9" transform="rotate(17 630.3 510.7)" />
<ellipse class="bk" cx="632.4" cy="528.2" rx="1.8" ry="1.4" transform="rotate(15 632.4 528.2)" />
<ellipse class="bk" cx="629.0" cy="512.3" rx="1.8" ry="2.0" transform="rotate(120 629.0 512.3)" />
<ellipse class="bk" cx="624.7" cy="516.3" rx="0.9" ry="1.4" transform="rotate(89 624.7 516.3)" />
<ellipse class="bk" cx="621.2" cy="547.3" rx="0.9" ry="1.1" transform="rotate(64 621.2 547.3)" />
<ellipse class="bk" cx="622.3" cy="555.8" rx="0.7" ry="1.6" transform="rotate(32 622.3 555.8)" />
<ellipse class="bk" cx="622.5" cy="557.3" rx="1.3" ry="0.7" transform="rotate(49 622.5 557.3)" />
<ellipse class="bk" cx="623.8" cy="554.6" rx="1.2" ry="0.8" transform="rotate(143 623.8 554.6)" />
<ellipse class="bk" cx="624.3" cy="555.6" rx="1.3" ry="0.7" transform="rotate(49 624.3 555.6)" />
<ellipse class="bk" cx="624.9" cy="549.0" rx="0.7" ry="1.9" transform="rotate(69 624.9 549.0)" />
<ellipse class="bk" cx="628.4" cy="483.8" rx="0.6" ry="0.7" transform="rotate(167 628.4 483.8)" />
<ellipse class="bk" cx="631.2" cy="480.5" rx="0.8" ry="0.6" transform="rotate(75 631.2 480.5)" />
<ellipse class="bk" cx="630.1" cy="488.4" rx="0.7" ry="1.0" transform="rotate(130 630.1 488.4)" />
<ellipse class="lg" cx="633.4" cy="488.0" rx="1.7" ry="2.3" transform="rotate(82 633.4 488.0)" style="stroke-width:1.4;fill:#e0e0e0"/>
<ellipse class="bk" cx="629.1" cy="490.1" rx="0.9" ry="0.7" transform="rotate(80 629.1 490.1)" />
<path class="lg" d="M637.0,569.0 L656.0,567.0 L656.0,594.8 L647.0,594.8 L641.0,598.0 L637.0,592.0 L638.0,580.0" style="fill:#eef6fc;stroke:none"/>
<ellipse class="bk" cx="650.8" cy="573.1" rx="1.2" ry="0.7" transform="rotate(79 650.8 573.1)" />
<ellipse class="bk" cx="637.4" cy="566.5" rx="2.1" ry="1.0" transform="rotate(66 637.4 566.5)" />
<ellipse class="bk" cx="640.7" cy="576.1" rx="1.4" ry="2.1" transform="rotate(11 640.7 576.1)" />
<ellipse class="lg" cx="641.2" cy="566.7" rx="2.3" ry="2.9" transform="rotate(116 641.2 566.7)" style="stroke-width:1.7;fill:#d0d0d0"/>
<ellipse class="bk" cx="639.3" cy="586.8" rx="1.1" ry="2.0" transform="rotate(29 639.3 586.8)" />
<ellipse class="bk" cx="646.0" cy="572.0" rx="1.7" ry="2.2" transform="rotate(16 646.0 572.0)" />
<ellipse class="bk" cx="642.3" cy="574.1" rx="1.2" ry="1.2" transform="rotate(155 642.3 574.1)" />
<ellipse class="bk" cx="641.4" cy="579.4" rx="1.5" ry="2.8" transform="rotate(56 641.4 579.4)" />
<ellipse class="bk" cx="649.5" cy="581.8" rx="1.5" ry="2.5" transform="rotate(25 649.5 581.8)" />
<ellipse class="bk" cx="645.8" cy="583.4" rx="1.4" ry="1.4" transform="rotate(137 645.8 583.4)" />
<ellipse class="bk" cx="643.4" cy="589.1" rx="1.8" ry="1.2" transform="rotate(15 643.4 589.1)" />
<ellipse class="bk" cx="639.3" cy="590.4" rx="1.2" ry="2.6" transform="rotate(97 639.3 590.4)" />
<ellipse class="bk" cx="647.6" cy="593.3" rx="2.1" ry="1.1" transform="rotate(69 647.6 593.3)" />
<ellipse class="bk" cx="652.1" cy="576.3" rx="1.4" ry="1.3" transform="rotate(168 652.1 576.3)" />
<ellipse class="bk" cx="645.5" cy="582.3" rx="1.5" ry="2.4" transform="rotate(129 645.5 582.3)" />
<ellipse class="bk" cx="653.4" cy="583.9" rx="1.8" ry="1.3" transform="rotate(108 653.4 583.9)" />
<ellipse class="bk" cx="645.6" cy="595.4" rx="0.9" ry="1.2" transform="rotate(124 645.6 595.4)" />
<ellipse class="bk" cx="646.4" cy="566.9" rx="1.2" ry="2.5" transform="rotate(141 646.4 566.9)" />
<ellipse class="bk" cx="640.6" cy="579.9" rx="2.0" ry="1.4" transform="rotate(147 640.6 579.9)" />
<ellipse class="bk" cx="641.8" cy="566.9" rx="1.2" ry="1.7" transform="rotate(98 641.8 566.9)" />
<ellipse class="lg" cx="650.9" cy="587.0" rx="2.5" ry="1.9" transform="rotate(113 650.9 587.0)" style="stroke-width:1.7;fill:none"/>
<ellipse class="bk" cx="636.4" cy="576.3" rx="0.9" ry="2.9" transform="rotate(111 636.4 576.3)" />
<ellipse class="bk" cx="649.5" cy="571.6" rx="1.8" ry="1.6" transform="rotate(60 649.5 571.6)" />
<ellipse class="bk" cx="643.2" cy="576.0" rx="1.4" ry="3.1" transform="rotate(115 643.2 576.0)" />
<ellipse class="bk" cx="650.4" cy="591.6" rx="2.1" ry="2.5" transform="rotate(92 650.4 591.6)" />
<ellipse class="bk" cx="654.6" cy="580.8" rx="1.6" ry="2.3" transform="rotate(168 654.6 580.8)" />
<ellipse class="bk" cx="642.3" cy="585.9" rx="1.9" ry="1.4" transform="rotate(154 642.3 585.9)" />
<ellipse class="bk" cx="640.4" cy="582.1" rx="1.9" ry="1.2" transform="rotate(149 640.4 582.1)" />
<ellipse class="bk" cx="651.0" cy="581.0" rx="1.1" ry="1.5" transform="rotate(129 651.0 581.0)" />
<ellipse class="bk" cx="654.0" cy="584.4" rx="2.1" ry="1.0" transform="rotate(34 654.0 584.4)" />
<ellipse class="bk" cx="636.4" cy="583.4" rx="1.6" ry="1.7" transform="rotate(123 636.4 583.4)" />
<ellipse class="bk" cx="637.5" cy="567.9" rx="2.1" ry="2.8" transform="rotate(61 637.5 567.9)" />
<ellipse class="bk" cx="651.0" cy="592.6" rx="1.3" ry="1.1" transform="rotate(167 651.0 592.6)" />
<ellipse class="bk" cx="636.2" cy="567.0" rx="1.3" ry="1.2" transform="rotate(136 636.2 567.0)" />
<ellipse class="bk" cx="652.2" cy="566.8" rx="1.5" ry="0.7" transform="rotate(136 652.2 566.8)" />
<ellipse class="bk" cx="652.1" cy="595.3" rx="1.4" ry="0.8" transform="rotate(5 652.1 595.3)" />
<ellipse class="lg" cx="642.7" cy="586.5" rx="2.4" ry="3.7" transform="rotate(79 642.7 586.5)" style="stroke-width:1.5;fill:#e0e0e0"/>
<ellipse class="bk" cx="649.3" cy="580.5" rx="0.8" ry="1.5" transform="rotate(176 649.3 580.5)" />
<ellipse class="bk" cx="640.6" cy="574.1" rx="1.9" ry="2.2" transform="rotate(104 640.6 574.1)" />
<ellipse class="bk" cx="636.8" cy="582.7" rx="1.2" ry="0.9" transform="rotate(46 636.8 582.7)" />
<ellipse class="bk" cx="642.8" cy="577.8" rx="1.3" ry="1.4" transform="rotate(99 642.8 577.8)" />
<ellipse class="bk" cx="654.2" cy="584.8" rx="1.4" ry="1.2" transform="rotate(156 654.2 584.8)" />
<ellipse class="bk" cx="650.2" cy="566.6" rx="1.5" ry="1.2" transform="rotate(109 650.2 566.6)" />
<ellipse class="bk" cx="642.6" cy="581.1" rx="1.7" ry="1.0" transform="rotate(176 642.6 581.1)" />
<ellipse class="bk" cx="649.4" cy="568.5" rx="1.0" ry="1.6" transform="rotate(81 649.4 568.5)" />
<ellipse class="bk" cx="638.4" cy="568.2" rx="1.9" ry="1.3" transform="rotate(167 638.4 568.2)" />
<ellipse class="bk" cx="641.3" cy="595.7" rx="1.0" ry="1.4" transform="rotate(177 641.3 595.7)" />
<ellipse class="bk" cx="652.2" cy="593.1" rx="2.1" ry="2.6" transform="rotate(154 652.2 593.1)" />
<ellipse class="lg" cx="641.4" cy="581.5" rx="1.7" ry="1.6" transform="rotate(21 641.4 581.5)" style="stroke-width:1.2;fill:none"/>
<ellipse class="bk" cx="639.4" cy="579.0" rx="1.5" ry="1.5" transform="rotate(129 639.4 579.0)" />
<ellipse class="bk" cx="649.3" cy="581.2" rx="2.1" ry="0.8" transform="rotate(94 649.3 581.2)" />
<ellipse class="bk" cx="645.1" cy="581.6" rx="2.1" ry="1.5" transform="rotate(128 645.1 581.6)" />
<ellipse class="bk" cx="636.8" cy="581.8" rx="1.6" ry="1.4" transform="rotate(89 636.8 581.8)" />
<ellipse class="bk" cx="650.0" cy="583.3" rx="1.1" ry="0.7" transform="rotate(68 650.0 583.3)" />
<ellipse class="bk" cx="636.3" cy="566.1" rx="1.3" ry="1.3" transform="rotate(93 636.3 566.1)" />
<ellipse class="bk" cx="653.8" cy="587.5" rx="1.5" ry="1.1" transform="rotate(29 653.8 587.5)" />
<ellipse class="bk" cx="639.7" cy="588.5" rx="1.1" ry="1.9" transform="rotate(57 639.7 588.5)" />
<ellipse class="bk" cx="648.6" cy="585.2" rx="1.9" ry="2.0" transform="rotate(107 648.6 585.2)" />
<ellipse class="bk" cx="639.3" cy="581.3" rx="1.8" ry="2.5" transform="rotate(93 639.3 581.3)" />
<ellipse class="bk" cx="637.9" cy="574.9" rx="1.3" ry="1.8" transform="rotate(52 637.9 574.9)" />
<ellipse class="bk" cx="651.3" cy="587.7" rx="1.3" ry="1.0" transform="rotate(135 651.3 587.7)" />
<ellipse class="bk" cx="637.0" cy="567.2" rx="1.4" ry="2.2" transform="rotate(29 637.0 567.2)" />
<ellipse class="bk" cx="637.2" cy="578.3" rx="1.9" ry="1.5" transform="rotate(147 637.2 578.3)" />
<ellipse class="lg" cx="654.3" cy="568.4" rx="1.4" ry="1.5" transform="rotate(171 654.3 568.4)" style="stroke-width:1.4;fill:none"/>
<ellipse class="bk" cx="640.4" cy="572.7" rx="0.9" ry="1.5" transform="rotate(51 640.4 572.7)" />
<ellipse class="bk" cx="643.2" cy="571.3" rx="1.0" ry="1.1" transform="rotate(97 643.2 571.3)" />
<ellipse class="bk" cx="648.1" cy="583.3" rx="1.7" ry="2.1" transform="rotate(82 648.1 583.3)" />
<ellipse class="bk" cx="642.6" cy="570.1" rx="1.6" ry="1.1" transform="rotate(145 642.6 570.1)" />
<ellipse class="bk" cx="647.5" cy="579.2" rx="0.9" ry="2.1" transform="rotate(105 647.5 579.2)" />
<ellipse class="bk" cx="640.1" cy="566.3" rx="0.8" ry="1.4" transform="rotate(74 640.1 566.3)" />
<ellipse class="bk" cx="625.5" cy="610.4" rx="1.2" ry="1.2" transform="rotate(121 625.5 610.4)" />
<ellipse class="bk" cx="636.8" cy="581.9" rx="1.5" ry="1.3" transform="rotate(174 636.8 581.9)" />
<ellipse class="bk" cx="636.0" cy="591.1" rx="1.1" ry="1.1" transform="rotate(72 636.0 591.1)" />
<ellipse class="bk" cx="624.8" cy="587.3" rx="1.7" ry="1.1" transform="rotate(148 624.8 587.3)" />
<ellipse class="bk" cx="636.4" cy="577.6" rx="0.9" ry="1.5" transform="rotate(21 636.4 577.6)" />
<ellipse class="bk" cx="636.2" cy="577.0" rx="1.1" ry="1.2" transform="rotate(141 636.2 577.0)" />
<ellipse class="bk" cx="627.6" cy="615.1" rx="1.3" ry="0.9" transform="rotate(53 627.6 615.1)" />
<ellipse class="bk" cx="636.7" cy="583.9" rx="1.6" ry="1.2" transform="rotate(166 636.7 583.9)" />
<ellipse class="bk" cx="625.4" cy="580.4" rx="0.8" ry="0.8" transform="rotate(111 625.4 580.4)" />
<ellipse class="bk" cx="631.8" cy="576.8" rx="0.7" ry="0.8" transform="rotate(57 631.8 576.8)" />
<ellipse class="bk" cx="623.6" cy="604.6" rx="1.5" ry="1.0" transform="rotate(2 623.6 604.6)" />
<ellipse class="bk" cx="633.7" cy="602.2" rx="1.5" ry="1.3" transform="rotate(70 633.7 602.2)" />
<ellipse class="bk" cx="624.5" cy="580.4" rx="1.3" ry="1.6" transform="rotate(94 624.5 580.4)" />
<ellipse class="bk" cx="637.0" cy="582.5" rx="0.7" ry="1.3" transform="rotate(156 637.0 582.5)" />
<ellipse class="bk" cx="635.0" cy="604.2" rx="0.8" ry="1.2" transform="rotate(161 635.0 604.2)" />
<ellipse class="bk" cx="630.4" cy="575.9" rx="1.4" ry="1.3" transform="rotate(167 630.4 575.9)" />
<ellipse class="bk" cx="633.9" cy="607.0" rx="1.1" ry="1.7" transform="rotate(43 633.9 607.0)" />
<ellipse class="bk" cx="634.7" cy="586.7" rx="1.5" ry="0.8" transform="rotate(63 634.7 586.7)" />
<ellipse class="bk" cx="635.3" cy="580.0" rx="0.9" ry="1.5" transform="rotate(94 635.3 580.0)" />
<ellipse class="bk" cx="634.3" cy="608.6" rx="1.1" ry="1.4" transform="rotate(121 634.3 608.6)" />
<ellipse class="bk" cx="635.5" cy="579.6" rx="1.5" ry="1.1" transform="rotate(14 635.5 579.6)" />
<ellipse class="bk" cx="625.9" cy="612.9" rx="1.0" ry="0.7" transform="rotate(152 625.9 612.9)" />
<ellipse class="bk" cx="635.9" cy="584.7" rx="0.9" ry="1.1" transform="rotate(101 635.9 584.7)" />
<ellipse class="bk" cx="635.0" cy="593.5" rx="0.9" ry="1.2" transform="rotate(107 635.0 593.5)" />
<ellipse class="bk" cx="633.2" cy="610.3" rx="0.8" ry="1.4" transform="rotate(61 633.2 610.3)" />
<ellipse class="bk" cx="635.0" cy="594.7" rx="0.8" ry="1.3" transform="rotate(17 635.0 594.7)" />
<ellipse class="bk" cx="627.2" cy="578.7" rx="1.2" ry="1.6" transform="rotate(74 627.2 578.7)" />
<ellipse class="bk" cx="624.3" cy="587.7" rx="1.7" ry="1.6" transform="rotate(67 624.3 587.7)" />
<ellipse class="bk" cx="625.5" cy="596.8" rx="1.4" ry="1.2" transform="rotate(100 625.5 596.8)" />
<ellipse class="bk" cx="631.9" cy="613.1" rx="1.3" ry="1.7" transform="rotate(135 631.9 613.1)" />
<path class="ln" d="M647.0,594.8 L656.0,594.8" stroke-width="1.5"/>
<ellipse class="bk" cx="639.1" cy="613.0" rx="1.4" ry="1.4" />
<ellipse class="bk" cx="642.7" cy="610.1" rx="1.3" ry="1.1" />
<ellipse class="bk" cx="648.1" cy="614.0" rx="1.0" ry="1.0" />
<ellipse class="bk" cx="630.7" cy="623.9" rx="2.0" ry="1.5" transform="rotate(-30 630.7 623.9)" />
<ellipse class="bk" cx="627.9" cy="631.1" rx="1.4" ry="2.4" transform="rotate(25 627.9 631.1)" />
<ellipse class="bk" cx="638.8" cy="628.2" rx="1.0" ry="1.0" />
<ellipse class="bk" cx="641.3" cy="599.2" rx="1.0" ry="1.0" />
<ellipse class="bk" cx="643.5" cy="602.8" rx="1.0" ry="1.0" />
<ellipse class="bk" cx="647.0" cy="602.0" rx="1.2" ry="1.8" />
<ellipse class="bk" cx="629.0" cy="615.5" rx="1.5" ry="2.0" /></g>
</g>
<rect class="frame" x="165.5" y="92.0" width="489.79999999999995" height="683.6"/>
<text class="tl" x="184.2" y="813.5" text-anchor="middle">92°E</text>
<text class="tl" x="325.9" y="813.5" text-anchor="middle">94°E</text>
<text class="tl" x="467.59999999999997" y="813.5" text-anchor="middle">96°E</text>
<text class="tl" x="609.3000000000001" y="813.5" text-anchor="middle">98°E</text>
<text class="tl" x="154.1" y="178.7" text-anchor="end">14°N</text>
<text class="tl" x="154.1" y="322.70000000000005" text-anchor="end">12°N</text>
<text class="tl" x="154.1" y="466.8" text-anchor="end">10°N</text>
<text class="tl" x="154.1" y="610.8000000000001" text-anchor="end">8°N</text>
<text class="tl" x="154.1" y="754.85" text-anchor="end">6°N</text>
<text class="tl" x="410.8" y="852.8" text-anchor="middle">Longitude</text>
</g>
<text class="pl" x="137.6" y="23.9">A</text>
<g transform="translate(644.3,0)">
<g clip-path="url(#clipA)">
<path d="M530.0,100.0 L590.0,92.0 L612.0,160.0 L625.0,200.0 L648.0,240.0 L660.0,300.0 L660.0,470.0 L640.0,505.0 L620.0,530.0 L604.0,540.0 L592.0,515.0 L580.0,470.0 L566.0,425.0 L554.0,370.0 L546.0,320.0 L540.0,275.0 L530.0,230.0 L520.0,180.0Z" fill="#f2f8fd" opacity="0.75" filter="url(#b12)"/>
<path d="M545.0,150.0 L550.0,190.0 L552.0,230.0 L558.0,262.0" fill="none" stroke="#d9ecfa" stroke-width="12" stroke-linecap="round" stroke-linejoin="round" opacity="0.45" filter="url(#b4)"/>
<path d="M575.0,150.0 L582.0,200.0 L590.0,240.0" fill="none" stroke="#d9ecfa" stroke-width="12" stroke-linecap="round" stroke-linejoin="round" opacity="0.4" filter="url(#b4)"/>
<path d="M520.0,200.0 L536.0,240.0 L548.0,280.0" fill="none" stroke="#d9ecfa" stroke-width="10" stroke-linecap="round" stroke-linejoin="round" opacity="0.4" filter="url(#b4)"/>
<path d="M560.0,262.0 L585.0,262.0 L600.0,240.0 L625.0,225.0 L650.0,250.0 L658.0,330.0 L652.0,420.0 L640.0,455.0 L615.0,470.0 L603.0,490.0 L594.0,465.0 L584.0,428.0 L572.0,392.0 L560.0,350.0 L553.0,310.0 L552.0,280.0Z" fill="#d9ecfa" opacity="0.85" filter="url(#b7)"/>
<path d="M598.0,460.0 L597.0,490.0 L594.0,515.0" fill="none" stroke="#d9ecfa" stroke-width="9" stroke-linecap="round" stroke-linejoin="round" opacity="0.7" filter="url(#b4)"/>
<path d="M586.0,380.0 L600.0,372.0 L622.0,366.0" fill="none" stroke="#c5e4f8" stroke-width="14" stroke-linecap="round" stroke-linejoin="round" opacity="0.7" filter="url(#b4)"/>
<path d="M584.0,405.0 L598.0,400.0 L612.0,394.0" fill="none" stroke="#c5e4f8" stroke-width="18" stroke-linecap="round" stroke-linejoin="round" opacity="0.8" filter="url(#b4)"/>
<path d="M588.0,418.0 L595.0,440.0 L598.0,458.0" fill="none" stroke="#c5e4f8" stroke-width="9" stroke-linecap="round" stroke-linejoin="round" opacity="0.8" filter="url(#b4)"/>
<path d="M600.0,290.0 L604.0,312.0 L606.0,335.0" fill="none" stroke="#c5e4f8" stroke-width="8" stroke-linecap="round" stroke-linejoin="round" opacity="0.8" filter="url(#b4)"/>
<path d="M583.0,288.0 L586.0,302.0" fill="none" stroke="#c5e4f8" stroke-width="6" stroke-linecap="round" stroke-linejoin="round" opacity="0.9" filter="url(#b2)"/>
<path d="M588.0,278.0 L606.0,272.0 L622.0,280.0 L626.0,300.0 L622.0,330.0 L630.0,360.0 L624.0,385.0 L616.0,400.0 L604.0,425.0 L596.0,440.0 L588.0,425.0 L582.0,400.0 L590.0,370.0 L596.0,340.0 L592.0,310.0Z" fill="#c5e4f8" opacity="0.8" filter="url(#b7)"/>
<path d="M601.0,284.0 L614.0,284.0 L616.0,300.0 L610.0,309.0 L602.0,304.0Z" fill="#8cc9ef" opacity="0.8" filter="url(#b2)"/>
<g opacity="0.9" filter="url(#b2)"><path d="M554.4,273.5 L558.1,277.2 L557.2,292.1 L564.6,303.2 L558.1,311.6 L556.3,299.5 L549.7,289.3 L552.5,280.9Z" fill="#b0dcf6" stroke="#b0dcf6" stroke-width="7" stroke-linejoin="round"/><path d="M556.3,340.4 L560.9,337.6 L566.5,349.7 L565.5,359.0 L560.9,355.3 L558.1,347.8Z" fill="#b0dcf6" stroke="#b0dcf6" stroke-width="7" stroke-linejoin="round"/><path d="M603.0,332.0 L610.0,333.0 L612.5,345.0 L611.5,356.0 L606.5,357.0 L604.0,345.0Z" fill="#b0dcf6" stroke="#b0dcf6" stroke-width="7" stroke-linejoin="round"/><path d="M604.5,377.0 L618.5,372.5 L626.0,366.0 L631.5,363.5 L631.0,373.0 L626.0,378.0 L616.7,381.3 L605.0,382.5Z" fill="#b0dcf6" stroke="#b0dcf6" stroke-width="7" stroke-linejoin="round"/><path d="M583.0,400.0 L595.7,399.0 L604.4,392.6 L616.6,394.4 L616.6,398.5 L606.2,405.0 L602.0,411.0 L598.5,418.0 L599.6,426.0 L595.0,436.0 L589.5,428.0 L584.5,419.5Z" fill="#b0dcf6" stroke="#b0dcf6" stroke-width="7" stroke-linejoin="round"/><path d="M570.0,362.0 L573.0,371.0" fill="none" stroke="#b0dcf6" stroke-width="10.2" stroke-linecap="round" stroke-linejoin="round"/><path d="M622.5,233.0 L626.0,245.0 L629.0,256.0" fill="none" stroke="#b0dcf6" stroke-width="9.2" stroke-linecap="round" stroke-linejoin="round"/><path d="M633.0,288.0 L638.0,300.0" fill="none" stroke="#b0dcf6" stroke-width="9.6" stroke-linecap="round" stroke-linejoin="round"/></g>
<g opacity="0.97" filter="url(#b07)"><path d="M554.4,273.5 L558.1,277.2 L557.2,292.1 L564.6,303.2 L558.1,311.6 L556.3,299.5 L549.7,289.3 L552.5,280.9Z" fill="#58a6de"/><path d="M556.3,340.4 L560.9,337.6 L566.5,349.7 L565.5,359.0 L560.9,355.3 L558.1,347.8Z" fill="#58a6de"/><path d="M603.0,332.0 L610.0,333.0 L612.5,345.0 L611.5,356.0 L606.5,357.0 L604.0,345.0Z" fill="#58a6de"/><path d="M604.5,377.0 L618.5,372.5 L626.0,366.0 L631.5,363.5 L631.0,373.0 L626.0,378.0 L616.7,381.3 L605.0,382.5Z" fill="#58a6de"/><path d="M583.0,400.0 L595.7,399.0 L604.4,392.6 L616.6,394.4 L616.6,398.5 L606.2,405.0 L602.0,411.0 L598.5,418.0 L599.6,426.0 L595.0,436.0 L589.5,428.0 L584.5,419.5Z" fill="#58a6de"/><path d="M570.0,362.0 L573.0,371.0" fill="none" stroke="#58a6de" stroke-width="3.2" stroke-linecap="round" stroke-linejoin="round"/><path d="M622.5,233.0 L626.0,245.0 L629.0,256.0" fill="none" stroke="#58a6de" stroke-width="2.2" stroke-linecap="round" stroke-linejoin="round"/><path d="M633.0,288.0 L638.0,300.0" fill="none" stroke="#58a6de" stroke-width="2.6" stroke-linecap="round" stroke-linejoin="round"/></g>
<path d="M549.6,186.0 L548.0,196.0 L545.0,204.0 L541.6,211.0 L543.4,218.0 L543.0,228.0" fill="none" stroke="#d9ecfa" stroke-width="9" stroke-linecap="round" stroke-linejoin="round" opacity="0.7" filter="url(#b4)"/>
<path d="M549.6,188.0 L548.0,196.0 L545.0,204.0 L541.6,211.0 L543.4,218.0 L543.0,226.0" fill="none" stroke="#7fc0ea" stroke-width="2.6" stroke-linecap="round" stroke-linejoin="round" opacity="0.95" filter="url(#b1)"/>
<path d="M548.4,195.0 L545.0,204.0 L541.8,211.0 L543.2,217.0" fill="none" stroke="#5fabdf" stroke-width="2.0" stroke-linecap="round" stroke-linejoin="round" opacity="0.9" filter="url(#b07)"/>
<path d="M584.0,291.0 L586.0,300.0" fill="none" stroke="#7fc0ea" stroke-width="3.4" stroke-linecap="round" stroke-linejoin="round" opacity="0.9" filter="url(#b1)"/>
<path d="M601.0,296.0 L604.0,309.0" fill="none" stroke="#7fc0ea" stroke-width="3.6" stroke-linecap="round" stroke-linejoin="round" opacity="0.9" filter="url(#b1)"/>
<path d="M596.0,392.0 L610.0,398.0" fill="none" stroke="#7fc0ea" stroke-width="6" stroke-linecap="round" stroke-linejoin="round" opacity="0.8" filter="url(#b2)"/>
<path d="M595.5,487.0 L596.0,494.0" fill="none" stroke="#c5e4f8" stroke-width="6" stroke-linecap="round" stroke-linejoin="round" opacity="0.9" filter="url(#b2)"/>
<path d="M623.0,606.0 L630.0,610.0 L640.0,612.0 L650.0,616.0 L648.0,632.0 L640.0,645.0 L630.0,650.0 L626.0,636.0 L622.0,620.0Z" fill="#d9ecfa" opacity="0.6000000000000001" filter="url(#b4)"/>
<path d="M625.0,610.0 L627.0,622.0 L629.0,634.0" fill="none" stroke="#c5e4f8" stroke-width="6" stroke-linecap="round" stroke-linejoin="round" opacity="0.6375" filter="url(#b2)"/>
<path d="M624.8,610.5 L626.0,614.0" fill="none" stroke="#58a6de" stroke-width="3.4" stroke-linecap="round" stroke-linejoin="round" opacity="0.7124999999999999" filter="url(#b1)"/>
<path d="M612.0,585.4 L623.0,585.4" fill="none" stroke="#c5e4f8" stroke-width="2.4" stroke-linecap="round" stroke-linejoin="round" opacity="0.675" filter="url(#b1)"/>
<path d="M619.0,585.4 L623.0,585.4" fill="none" stroke="#7fc0ea" stroke-width="2.0" stroke-linecap="round" stroke-linejoin="round" opacity="0.675" filter="url(#b1)"/>
<path d="M612.0,585.0 L624.0,596.0 L621.0,604.0" fill="none" stroke="#eef6fc" stroke-width="12" stroke-linecap="round" stroke-linejoin="round" opacity="0.6000000000000001" filter="url(#b4)"/>
<path d="M246.0,196.0 L258.0,172.0 L270.0,150.0 L282.0,128.0 L292.0,110.0" fill="none" stroke="#d9ecfa" stroke-width="15" stroke-linecap="round" stroke-linejoin="round" opacity="0.231" filter="url(#b4)"/>
<path d="M268.0,150.0 L276.0,136.0 L281.0,124.0" fill="none" stroke="#c5e4f8" stroke-width="6" stroke-linecap="round" stroke-linejoin="round" opacity="0.252" filter="url(#b2)"/>
<path d="M247.0,194.0 L254.0,184.0" fill="none" stroke="#c5e4f8" stroke-width="8" stroke-linecap="round" stroke-linejoin="round" opacity="0.336" filter="url(#b2)"/>
<path d="M218.0,338.0 L214.0,352.0 L214.0,368.0 L218.0,384.0" fill="none" stroke="#d9ecfa" stroke-width="7" stroke-linecap="round" stroke-linejoin="round" opacity="0.336" filter="url(#b2)"/>
<path d="M226.0,352.0 L231.0,366.0 L231.0,378.0 L226.0,386.0" fill="none" stroke="#d9ecfa" stroke-width="6" stroke-linecap="round" stroke-linejoin="round" opacity="0.378" filter="url(#b2)"/>
<path d="M228.3,356.5 L228.6,363.0" fill="none" stroke="#a9d6f3" stroke-width="3.6" stroke-linecap="round" stroke-linejoin="round" opacity="0.42" filter="url(#b07)"/>
<path d="M205.0,420.0 L198.0,432.0" fill="none" stroke="#eef6fc" stroke-width="8" stroke-linecap="round" stroke-linejoin="round" opacity="0.378" filter="url(#b4)"/>
<path d="M218.0,418.0 L226.0,432.0" fill="none" stroke="#eef6fc" stroke-width="8" stroke-linecap="round" stroke-linejoin="round" opacity="0.378" filter="url(#b4)"/>
<path d="M285.0,350.0 L285.0,380.0" fill="none" stroke="#eef6fc" stroke-width="5" stroke-linecap="round" stroke-linejoin="round" opacity="0.294" filter="url(#b4)"/>
<path d="M226.0,488.0 L234.0,506.0 L246.0,540.0 L256.0,566.0 L268.0,590.0 L281.0,612.0 L292.0,634.0 L300.0,650.0" fill="none" stroke="#d9ecfa" stroke-width="8.5" stroke-linecap="round" stroke-linejoin="round" opacity="0.3024" filter="url(#b4)"/>
<path d="M229.0,494.0 L236.0,512.0 L247.0,542.0 L256.0,566.0" fill="none" stroke="#b0dcf6" stroke-width="4.5" stroke-linecap="round" stroke-linejoin="round" opacity="0.357" filter="url(#b2)"/>
<path d="M256.0,566.0 L268.0,590.0 L281.0,612.0 L291.0,632.0" fill="none" stroke="#c5e4f8" stroke-width="3.5" stroke-linecap="round" stroke-linejoin="round" opacity="0.336" filter="url(#b2)"/>
<path d="M254.5,563.0 L257.0,569.0" fill="none" stroke="#a9d6f3" stroke-width="3.5" stroke-linecap="round" stroke-linejoin="round" opacity="0.39899999999999997" filter="url(#b1)"/>
<path d="M280.5,611.0 L281.5,614.0" fill="none" stroke="#a9d6f3" stroke-width="3" stroke-linecap="round" stroke-linejoin="round" opacity="0.336" filter="url(#b1)"/>
<path d="M288.0,526.0 L292.0,545.0 L295.0,560.0" fill="none" stroke="#d9ecfa" stroke-width="5" stroke-linecap="round" stroke-linejoin="round" opacity="0.336" filter="url(#b2)"/>
<path d="M282.0,580.0 L290.0,574.0 L296.0,582.0" fill="none" stroke="#d9ecfa" stroke-width="10" stroke-linecap="round" stroke-linejoin="round" opacity="0.294" filter="url(#b4)"/>
<path d="M305.0,688.0 L310.0,702.0 L315.0,716.0" fill="none" stroke="#d9ecfa" stroke-width="8" stroke-linecap="round" stroke-linejoin="round" opacity="0.336" filter="url(#b4)"/>
<path d="M316.0,722.0 L320.0,745.0" fill="none" stroke="#eef6fc" stroke-width="7" stroke-linecap="round" stroke-linejoin="round" opacity="0.336" filter="url(#b4)"/>
<path d="M306.5,690.0 L309.0,700.0" fill="none" stroke="#b0dcf6" stroke-width="4" stroke-linecap="round" stroke-linejoin="round" opacity="0.378" filter="url(#b2)"/>
<path d="M307.5,696.0 L308.0,698.0" fill="none" stroke="#a9d6f3" stroke-width="2.6" stroke-linecap="round" stroke-linejoin="round" opacity="0.378" filter="url(#b1)"/>
<path d="M296.0,626.0 L300.0,640.0" fill="none" stroke="#c5e4f8" stroke-width="5" stroke-linecap="round" stroke-linejoin="round" opacity="0.336" filter="url(#b2)"/>
<path d="M283.0,612.0 L290.0,628.0" fill="none" stroke="#c5e4f8" stroke-width="5" stroke-linecap="round" stroke-linejoin="round" opacity="0.294" filter="url(#b2)"/>
<path d="M378.0,728.0 L386.0,741.0 L393.6,753.5" fill="none" stroke="#d9ecfa" stroke-width="6" stroke-linecap="round" stroke-linejoin="round" opacity="0.378" filter="url(#b2)"/>
<path d="M390.0,748.0 L393.8,754.0" fill="none" stroke="#b0dcf6" stroke-width="3" stroke-linecap="round" stroke-linejoin="round" opacity="0.378" filter="url(#b1)"/>
<path d="M393.0,753.0 L394.0,754.5" fill="none" stroke="#a9d6f3" stroke-width="2.5" stroke-linecap="round" stroke-linejoin="round" opacity="0.378" filter="url(#b07)"/>
<line class="grid" x1="179.5" y1="92.0" x2="179.5" y2="775.6"/>
<line class="grid" x1="321.2" y1="92.0" x2="321.2" y2="775.6"/>
<line class="grid" x1="462.9" y1="92.0" x2="462.9" y2="775.6"/>
<line class="grid" x1="604.6" y1="92.0" x2="604.6" y2="775.6"/>
<line class="grid" x1="165.5" y1="163.6" x2="655.3" y2="163.6"/>
<line class="grid" x1="165.5" y1="307.6" x2="655.3" y2="307.6"/>
<line class="grid" x1="165.5" y1="451.7" x2="655.3" y2="451.7"/>
<line class="grid" x1="165.5" y1="595.7" x2="655.3" y2="595.7"/>
<line class="grid" x1="165.5" y1="739.75" x2="655.3" y2="739.75"/>
<line class="tick" x1="179.5" y1="92.0" x2="179.5" y2="98.5"/>
<line class="tick" x1="179.5" y1="775.6" x2="179.5" y2="769.1"/>
<line class="tick" x1="321.2" y1="92.0" x2="321.2" y2="98.5"/>
<line class="tick" x1="321.2" y1="775.6" x2="321.2" y2="769.1"/>
<line class="tick" x1="462.9" y1="92.0" x2="462.9" y2="98.5"/>
<line class="tick" x1="462.9" y1="775.6" x2="462.9" y2="769.1"/>
<line class="tick" x1="604.6" y1="92.0" x2="604.6" y2="98.5"/>
<line class="tick" x1="604.6" y1="775.6" x2="604.6" y2="769.1"/>
<line class="tick" x1="165.5" y1="163.6" x2="172.0" y2="163.6"/>
<line class="tick" x1="655.3" y1="163.6" x2="648.8" y2="163.6"/>
<line class="tick" x1="165.5" y1="307.6" x2="172.0" y2="307.6"/>
<line class="tick" x1="655.3" y1="307.6" x2="648.8" y2="307.6"/>
<line class="tick" x1="165.5" y1="451.7" x2="172.0" y2="451.7"/>
<line class="tick" x1="655.3" y1="451.7" x2="648.8" y2="451.7"/>
<line class="tick" x1="165.5" y1="595.7" x2="172.0" y2="595.7"/>
<line class="tick" x1="655.3" y1="595.7" x2="648.8" y2="595.7"/>
<line class="tick" x1="165.5" y1="739.75" x2="172.0" y2="739.75"/>
<line class="tick" x1="655.3" y1="739.75" x2="648.8" y2="739.75"/>
<g><path class="lg" d="M588.8,91.0 L589.4,94.2 L590.7,97.9 L591.4,102.2 L592.9,105.5 L593.6,109.1 L595.7,112.6 L596.8,116.6 L598.6,120.2 L601.0,124.8 L601.8,128.8 L602.2,131.4 L603.6,135.3 L605.8,140.0 L607.8,143.3 L609.7,147.5 L611.2,150.3 L611.4,154.4 L610.6,158.5 L608.8,163.1 L608.9,166.6 L609.7,171.7 L610.5,175.3 L611.0,179.8 L612.3,184.0 L614.2,187.3 L615.8,191.0 L618.4,187.5 L618.2,183.0 L617.3,179.3 L618.0,175.7 L617.5,171.9 L620.1,165.8 L620.7,169.8 L621.9,173.6 L621.8,176.8 L621.9,180.6 L624.9,184.3 L627.1,187.5 L629.3,192.0 L632.3,196.2 L633.5,200.2 L635.0,202.9 L635.8,206.7 L637.9,209.6 L638.6,214.0 L640.1,217.1 L644.5,222.4 L645.2,226.4 L646.2,230.7 L648.0,234.5 L650.0,240.5 L651.4,244.8 L652.0,248.8 L650.0,252.0 L651.0,258.0 L652.0,261.2 L652.0,265.0 L649.7,271.0 L650.0,274.6 L649.8,277.9 L650.2,282.1 L649.7,285.0 L651.0,290.0 L650.5,294.2 L650.0,298.0 L648.5,303.0 L648.1,307.8 L649.0,312.0 L649.0,317.7 L648.5,322.0 L649.7,325.7 L650.0,330.0 L651.3,334.2 L653.0,338.0 L654.3,341.4 L657.0,345.0 L656.5,348.5 L656.4,353.4 L656.5,356.6 L656.8,361.5 L657.0,365.0 L652.9,367.4 L650.0,370.0 L649.1,375.5 L648.0,380.0 L649.4,384.5 L650.0,388.0 L646.7,390.9 L644.0,394.0 L641.1,397.4 L638.5,399.7 L639.3,406.6 L639.3,409.6 L637.6,413.2 L637.5,417.0 L638.9,420.5 L641.2,423.7 L642.8,427.5 L641.7,430.9 L641.7,434.6 L642.1,438.3 L641.0,441.5 L642.2,445.1 L643.6,447.8 L644.5,451.9 L643.9,455.7 L642.7,459.1 L641.0,462.0 L640.3,466.1 L639.3,470.7 L639.3,474.8 L637.8,478.1 L637.1,482.2 L636.5,485.9 L635.8,490.5 L633.9,494.1 L632.9,498.4 L632.3,502.7 L628.6,505.0 L626.2,506.2 L625.1,510.1 L623.6,514.9 L623.8,518.8 L624.5,522.5 L625.3,527.1 L624.9,531.9 L623.5,535.2 L622.7,539.3 L621.7,542.6 L621.6,546.8 L621.9,550.5 L621.0,554.9 L621.0,559.0 L622.3,561.4 L623.0,564.7 L623.6,568.9 L624.2,573.4 L625.2,576.8 L625.3,580.3 L624.3,585.2 L623.9,590.5 L623.8,594.5 L624.6,597.7 L623.1,603.5 L625.3,609.3 L626.8,614.4 L632.6,612.2 L634.0,606.4 L634.8,602.4 L635.5,597.7 L634.9,593.0 L634.7,589.0 L636.9,583.2 L636.6,578.8 L635.5,573.1 L638.9,571.3 L641.3,568.7 L646.8,567.9 L651.4,566.5 L657.3,565.8 L657.3,91.0" style="stroke-width:2.2"/>
<path class="lg" d="M249.7,194.8 L252.7,196.2 L255.8,197.4 L256.6,199.9 L255.8,202.8 L255.2,205.3 L256.1,208.4 L255.0,210.1 L255.0,213.7 L256.2,214.8 L256.8,219.2 L256.1,221.1 L255.8,223.5 L254.2,225.3 L254.1,228.2 L252.5,231.4 L251.3,234.6 L251.4,237.5 L248.4,239.9 L245.6,241.2 L242.7,242.7 L239.6,241.3 L236.6,239.2 L236.9,236.0 L238.4,234.8 L238.4,231.5 L237.8,227.8 L238.1,224.8 L239.5,222.7 L240.0,220.0 L240.6,218.2 L240.1,214.8 L238.9,211.6 L240.5,209.5 L240.4,206.8 L239.2,204.4 L240.1,202.0 L243.2,198.7 L244.4,196.5 L246.2,195.3" style="stroke-width:2.1"/>
<path class="lg" d="M234.0,245.3 L236.5,245.4 L239.5,244.2 L240.8,244.5 L243.9,245.2 L247.0,244.4 L248.1,247.7 L248.5,250.8 L248.3,253.4 L249.7,256.6 L249.0,260.2 L248.8,262.8 L248.8,265.4 L249.4,267.6 L249.7,270.6 L249.7,272.7 L247.5,277.5 L247.7,278.9 L247.0,282.8 L245.0,285.4 L241.0,286.2 L237.6,285.6 L235.0,285.0 L233.4,284.3 L230.5,284.5 L230.9,280.7 L229.8,279.3 L230.3,275.6 L230.7,272.9 L230.3,269.1 L230.5,267.1 L231.3,265.2 L232.1,261.8 L231.2,258.4 L232.2,256.2 L232.2,253.1 L232.0,250.0 L233.1,247.9" style="stroke-width:2.1"/>
<path class="lg" d="M230.5,288.8 L232.6,289.0 L236.1,289.1 L237.7,287.7 L241.0,288.0 L239.6,290.2 L239.7,293.5 L238.6,295.4 L236.7,298.1 L234.7,301.2 L233.6,303.9 L234.9,307.2 L233.9,309.6 L234.8,313.8 L236.2,316.1 L236.5,319.5 L236.1,322.1 L236.0,325.0 L234.3,327.9 L234.4,330.0 L233.5,333.6 L232.8,336.0 L231.6,339.0 L231.0,342.2 L230.3,344.4 L231.0,348.7 L230.1,351.0 L228.9,353.1 L225.7,354.4 L222.2,351.0 L222.9,348.6 L222.7,345.5 L224.0,342.2 L224.5,338.7 L224.5,336.4 L225.7,333.5 L222.6,331.7 L220.5,330.0 L219.8,326.8 L218.0,323.9 L217.3,320.4 L217.0,317.9 L217.4,315.1 L218.2,313.2 L221.0,310.2 L221.6,308.8 L222.2,305.4 L222.1,301.6 L224.4,300.0 L224.8,295.6 L225.3,293.2 L227.7,291.7" style="stroke-width:2.1"/>
<path class="lg" d="M217.0,387.5 L220.1,389.7 L222.2,392.8 L223.3,396.8 L224.0,401.5 L223.3,404.5 L222.0,408.6 L220.5,411.9 L218.3,414.1 L215.3,415.4 L211.1,414.8 L207.4,414.5 L208.1,410.4 L208.3,406.7 L207.5,402.9 L207.5,400.1 L206.6,396.2 L209.5,392.9 L211.8,390.1Z" />
<path class="ln" d="M292.7,109.7 L294.5,106.0" stroke-width="1.6"/>
<path class="ln" d="M296.0,103.5 L301.6,95.0" stroke-width="2.4"/>
<path class="ln" d="M276.9,150.0 L277.3,160.0" stroke-width="3"/>
<ellipse class="bk" cx="267.0" cy="164.4" rx="1.4" ry="1.9" />
<ellipse class="bk" cx="253.2" cy="188.7" rx="2.6" ry="1.6" transform="rotate(10 253.2 188.7)" />
<ellipse class="bk" cx="244.0" cy="191.5" rx="1.0" ry="1.0" />
<ellipse class="lg" cx="229.2" cy="243.0" rx="2.0" ry="6.3" transform="rotate(8 229.2 243.0)" style="stroke-width:1.6"/>
<ellipse class="bk" cx="230.5" cy="229.6" rx="2.1" ry="1.7" />
<ellipse class="bk" cx="233.0" cy="222.0" rx="0.8" ry="0.8" />
<ellipse class="bk" cx="218.0" cy="296.0" rx="0.8" ry="0.8" />
<ellipse class="bk" cx="253.5" cy="208.0" rx="2.6" ry="3.2" transform="rotate(20 253.5 208.0)" />
<ellipse class="bk" cx="257.5" cy="206.0" rx="1.6" ry="2.0" />
<ellipse class="bk" cx="246.0" cy="236.0" rx="3.6" ry="4.6" transform="rotate(25 246.0 236.0)" />
<ellipse class="bk" cx="250.5" cy="240.0" rx="2.2" ry="2.4" />
<ellipse class="bk" cx="238.5" cy="241.0" rx="1.8" ry="3.0" />
<ellipse class="bk" cx="233.5" cy="246.0" rx="2.2" ry="3.5" />
<ellipse class="bk" cx="227.5" cy="250.0" rx="1.5" ry="2.5" />
<ellipse class="bk" cx="249.0" cy="277.0" rx="3.2" ry="3.6" transform="rotate(30 249.0 277.0)" />
<ellipse class="bk" cx="244.0" cy="281.0" rx="2.6" ry="3.0" />
<ellipse class="bk" cx="252.5" cy="274.0" rx="1.2" ry="2.0" />
<ellipse class="bk" cx="233.0" cy="289.5" rx="3.5" ry="3.2" />
<ellipse class="bk" cx="243.5" cy="290.5" rx="2.4" ry="3.6" transform="rotate(20 243.5 290.5)" />
<ellipse class="bk" cx="231.5" cy="297.0" rx="1.6" ry="3.2" />
<ellipse class="bk" cx="241.0" cy="203.0" rx="1.3" ry="2.2" />
<ellipse class="bk" cx="240.0" cy="210.0" rx="1.2" ry="1.8" />
<ellipse class="bk" cx="230.8" cy="262.0" rx="1.3" ry="1.6" />
<ellipse class="bk" cx="228.5" cy="270.0" rx="1.2" ry="1.2" />
<ellipse class="bk" cx="233.5" cy="311.0" rx="1.6" ry="4.0" />
<ellipse class="bk" cx="232.0" cy="322.0" rx="1.4" ry="3.0" />
<ellipse class="bk" cx="219.5" cy="322.0" rx="1.5" ry="2.4" />
<ellipse class="bk" cx="221.4" cy="340.5" rx="3.8" ry="3.4" />
<ellipse class="bk" cx="227.0" cy="338.0" rx="2.2" ry="2.0" />
<ellipse class="bk" cx="231.0" cy="332.0" rx="1.6" ry="2.6" />
<ellipse class="bk" cx="218.5" cy="336.0" rx="1.4" ry="1.8" />
<path class="lg" d="M224.2,345.0 L228.2,345.0 L228.4,352.5 L224.6,353.5" style="fill:#e4e4e4;stroke-width:1.3"/>
<path class="lg" d="M256.5,286.5 L258.6,291.0 L256.4,298.0 L253.4,304.0 L249.6,303.4 L249.0,297.0 L252.0,293.0 L254.0,289.0" style="stroke-width:2.2;fill:#ddd"/>
<path class="lg" d="M250.0,303.5 L253.5,306.0 L255.2,313.0 L253.6,318.0 L250.6,316.0 L248.2,309.0" style="stroke-width:1.9;fill:#f4f4f4"/>
<ellipse class="bk" cx="257.5" cy="296.0" rx="1.5" ry="2.5" />
<ellipse class="bk" cx="251.0" cy="296.0" rx="1.6" ry="2.2" />
<ellipse class="bk" cx="255.5" cy="290.0" rx="1.6" ry="2.4" />
<ellipse class="bk" cx="249.3" cy="300.5" rx="1.8" ry="2.4" />
<ellipse class="bk" cx="254.2" cy="302.0" rx="1.3" ry="2.0" />
<ellipse class="bk" cx="255.5" cy="283.0" rx="0.9" ry="0.9" />
<ellipse class="bk" cx="253.0" cy="287.0" rx="0.9" ry="0.9" />
<ellipse class="bk" cx="254.3" cy="320.3" rx="1.7" ry="1.2" transform="rotate(30 254.3 320.3)" />
<ellipse class="bk" cx="256.8" cy="323.6" rx="0.9" ry="0.9" />
<ellipse class="lg" cx="197.0" cy="340.5" rx="3.0" ry="2.8" style="stroke-width:1.7;fill:#fff"/>
<ellipse class="bk" cx="196.1" cy="381.4" rx="1.3" ry="1.0" />
<path class="ln" d="M230.4,356.0 L229.4,363.5" stroke-width="1.8"/>
<ellipse class="bk" cx="231.8" cy="370.1" rx="1.1" ry="1.1" />
<ellipse class="bk" cx="227.1" cy="381.4" rx="1.0" ry="1.6" transform="rotate(20 227.1 381.4)" />
<ellipse class="bk" cx="223.3" cy="384.9" rx="1.2" ry="0.9" />
<path class="lg" d="M231.0,507.0 L234.0,505.6 L237.6,506.4 L238.6,510.0 L238.2,514.4 L234.6,515.6 L231.2,514.8 L230.6,511.0" style="stroke-width:1.9"/>
<ellipse class="bk" cx="240.1" cy="535.7" rx="1.2" ry="1.2" />
<ellipse class="bk" cx="255.3" cy="562.9" rx="1.6" ry="1.6" />
<path class="lg" d="M258.8,569.5 L257.4,574.0 L259.0,579.0 L264.0,581.4 L268.2,579.6 L269.0,576.6 L266.6,575.6 L263.4,577.4 L261.6,574.4 L262.2,570.6" style="stroke-width:1.7"/>
<ellipse class="bk" cx="267.6" cy="577.6" rx="1.8" ry="1.8" />
<path class="ln" d="M294.8,555.0 L296.2,565.5" stroke-width="2.2"/>
<ellipse class="bk" cx="296.9" cy="568.2" rx="0.9" ry="0.9" />
<ellipse class="lg" cx="286.9" cy="583.2" rx="2.7" ry="4.6" transform="rotate(12 286.9 583.2)" style="stroke-width:1.8;fill:#fff"/>
<ellipse class="bk" cx="289.6" cy="593.2" rx="2.3" ry="7.2" transform="rotate(-14 289.6 593.2)" />
<path class="ln" d="M291.8,585.5 L293.4,593.5" stroke-width="1.6"/>
<path class="lg" d="M273.5,597.0 L276.0,594.5 L279.0,595.5 L281.5,597.5 L283.5,601.5 L282.0,605.0 L278.0,605.2 L276.5,603.0 L274.0,602.5 L275.0,600.0" style="stroke-width:2;fill:#f0f0f0"/>
<ellipse class="bk" cx="288.5" cy="631.0" rx="1.1" ry="1.1" />
<ellipse class="bk" cx="295.4" cy="633.4" rx="1.6" ry="0.9" />
<path class="lg" d="M301.3,636.7 L305.3,639.6 L303.3,645.5 L297.4,648.5 L295.0,644.6 L297.4,639.6Z" />
<ellipse class="bk" cx="301.8" cy="636.8" rx="1.5" ry="1.5" />
<ellipse class="bk" cx="310.6" cy="646.1" rx="0.9" ry="0.9" />
<path class="lg" d="M309.2,650.5 L313.2,651.5 L313.9,655.0 L315.3,658.0 L316.2,661.3 L316.9,665.1 L318.1,668.3 L317.4,671.2 L316.2,673.9 L315.2,677.1 L313.0,679.8 L312.0,682.3 L310.2,685.5 L309.0,682.0 L307.3,679.1 L305.7,675.3 L305.1,672.7 L303.3,669.2 L300.9,666.4 L297.8,663.3 L297.6,659.2 L298.4,655.4 L302.3,652.5 L305.7,651.1Z" />
<ellipse class="bk" cx="310.3" cy="684.6" rx="1.4" ry="1.6" />
<ellipse class="bk" cx="301.0" cy="652.2" rx="1.2" ry="1.2" />
<path class="lg" d="M405.9,777.0 L407.4,770.1 L411.3,771.1 L415.3,768.1 L419.2,767.1 L423.2,764.2 L428.1,768.1 L435.0,765.6 L439.0,768.1 L445.9,770.1 L454.8,775.2 L456.0,777.0Z" />
<ellipse class="lg" cx="415.8" cy="750.8" rx="3.9" ry="4.0" style="stroke-width:1.8;fill:#fff"/>
<ellipse class="bk" cx="409.2" cy="747.6" rx="2.8" ry="1.7" transform="rotate(40 409.2 747.6)" />
<ellipse class="bk" cx="412.5" cy="752.5" rx="1.5" ry="2.4" />
<path class="ln" d="M393.6,756.6 L396.6,761.0 L400.0,765.4 L403.0,768.6 L405.2,771.0" stroke-width="3.2"/>
<ellipse class="bk" cx="394.6" cy="759.5" rx="1.8" ry="3.4" transform="rotate(-30 394.6 759.5)" />
<ellipse class="bk" cx="398.6" cy="766.0" rx="1.6" ry="2.8" transform="rotate(-35 398.6 766.0)" />
<ellipse class="bk" cx="400.0" cy="734.0" rx="1.2" ry="1.0" />
<path class="ln" d="M588.8,129.4 L590.2,135.0" stroke-width="2.2"/>
<path class="ln" d="M590.5,139.8 L591.3,143.6" stroke-width="1.9"/>
<ellipse class="bk" cx="590.6" cy="151.8" rx="1.9" ry="3.6" />
<ellipse class="bk" cx="594.9" cy="151.5" rx="0.9" ry="0.9" />
<path class="ln" d="M598.3,169.0 L599.1,178.2" stroke-width="2.8"/>
<path class="ln" d="M619.6,166.8 L619.4,175.0 L620.2,182.0" stroke-width="4.6"/>
<ellipse class="bk" cx="596.6" cy="112.2" rx="2.2" ry="2.4" />
<ellipse class="bk" cx="603.3" cy="131.0" rx="1.2" ry="2.0" />
<ellipse class="bk" cx="614.9" cy="194.6" rx="2.4" ry="4.4" transform="rotate(10 614.9 194.6)" />
<ellipse class="bk" cx="611.0" cy="188.0" rx="1.2" ry="2.6" transform="rotate(-20 611.0 188.0)" />
<ellipse class="bk" cx="629.7" cy="198.8" rx="1.0" ry="1.0" />
<ellipse class="bk" cx="633.2" cy="211.4" rx="1.1" ry="1.1" />
<ellipse class="bk" cx="644.3" cy="220.6" rx="3.8" ry="3.6" />
<ellipse class="bk" cx="640.0" cy="224.0" rx="1.6" ry="2.2" />
<ellipse class="bk" cx="647.5" cy="227.0" rx="1.4" ry="2.6" />
<ellipse class="bk" cx="638.2" cy="232.5" rx="1.0" ry="1.0" />
<path class="lg" d="M622.2,220.0 L624.2,219.6 L626.6,228.0 L628.8,240.0 L630.6,255.0 L629.0,257.0 L626.6,246.0 L624.4,234.0 L622.6,226.0" style="stroke-width:2.4;fill:#d0d0d0"/>
<ellipse class="bk" cx="310.9" cy="288.2" rx="1.7" ry="1.5" />
<ellipse class="bk" cx="341.5" cy="203.7" rx="1.5" ry="1.3" />
<ellipse class="bk" cx="236.0" cy="238.4" rx="1.4" ry="1.0" transform="rotate(119 236.0 238.4)" />
<ellipse class="bk" cx="255.0" cy="214.8" rx="1.2" ry="0.8" transform="rotate(175 255.0 214.8)" />
<ellipse class="bk" cx="254.9" cy="197.7" rx="1.3" ry="0.9" transform="rotate(85 254.9 197.7)" />
<ellipse class="bk" cx="254.8" cy="227.7" rx="0.8" ry="1.0" transform="rotate(55 254.8 227.7)" />
<ellipse class="bk" cx="256.7" cy="204.0" rx="1.2" ry="1.4" transform="rotate(71 256.7 204.0)" />
<ellipse class="bk" cx="252.4" cy="233.5" rx="1.2" ry="0.6" transform="rotate(84 252.4 233.5)" />
<ellipse class="bk" cx="238.9" cy="239.5" rx="1.2" ry="0.6" transform="rotate(102 238.9 239.5)" />
<ellipse class="bk" cx="254.5" cy="207.5" rx="0.7" ry="0.7" transform="rotate(123 254.5 207.5)" />
<ellipse class="bk" cx="238.9" cy="220.9" rx="1.0" ry="1.0" transform="rotate(158 238.9 220.9)" />
<ellipse class="bk" cx="255.9" cy="226.9" rx="1.2" ry="0.6" transform="rotate(15 255.9 226.9)" />
<ellipse class="bk" cx="252.6" cy="197.5" rx="1.4" ry="1.4" transform="rotate(21 252.6 197.5)" />
<ellipse class="bk" cx="239.7" cy="223.9" rx="1.3" ry="0.7" transform="rotate(32 239.7 223.9)" />
<ellipse class="bk" cx="240.6" cy="214.2" rx="1.0" ry="1.4" transform="rotate(25 240.6 214.2)" />
<ellipse class="bk" cx="246.1" cy="195.8" rx="0.7" ry="1.1" transform="rotate(124 246.1 195.8)" />
<ellipse class="bk" cx="252.3" cy="230.0" rx="1.3" ry="0.7" transform="rotate(169 252.3 230.0)" />
<ellipse class="bk" cx="255.0" cy="218.4" rx="1.5" ry="1.4" transform="rotate(57 255.0 218.4)" />
<ellipse class="bk" cx="248.0" cy="246.5" rx="1.2" ry="1.1" transform="rotate(69 248.0 246.5)" />
<ellipse class="bk" cx="232.9" cy="283.6" rx="1.1" ry="1.2" transform="rotate(94 232.9 283.6)" />
<ellipse class="bk" cx="232.2" cy="257.9" rx="0.8" ry="0.7" transform="rotate(146 232.2 257.9)" />
<ellipse class="bk" cx="230.8" cy="278.7" rx="1.1" ry="0.8" transform="rotate(95 230.8 278.7)" />
<ellipse class="bk" cx="247.9" cy="247.5" rx="1.2" ry="0.8" transform="rotate(17 247.9 247.5)" />
<ellipse class="bk" cx="250.2" cy="267.4" rx="1.3" ry="1.0" transform="rotate(72 250.2 267.4)" />
<ellipse class="bk" cx="231.0" cy="254.3" rx="1.1" ry="1.2" transform="rotate(78 231.0 254.3)" />
<ellipse class="bk" cx="238.9" cy="286.4" rx="1.4" ry="1.3" transform="rotate(115 238.9 286.4)" />
<ellipse class="bk" cx="248.4" cy="281.9" rx="1.2" ry="1.4" transform="rotate(123 248.4 281.9)" />
<ellipse class="bk" cx="249.7" cy="273.9" rx="1.4" ry="1.2" transform="rotate(96 249.7 273.9)" />
<ellipse class="bk" cx="233.4" cy="247.8" rx="1.4" ry="1.4" transform="rotate(31 233.4 247.8)" />
<ellipse class="bk" cx="242.9" cy="245.8" rx="0.9" ry="0.8" transform="rotate(123 242.9 245.8)" />
<ellipse class="bk" cx="231.7" cy="251.5" rx="1.2" ry="0.8" transform="rotate(75 231.7 251.5)" />
<ellipse class="bk" cx="247.5" cy="246.1" rx="0.7" ry="1.0" transform="rotate(27 247.5 246.1)" />
<ellipse class="bk" cx="227.9" cy="291.5" rx="1.3" ry="0.8" transform="rotate(14 227.9 291.5)" />
<ellipse class="bk" cx="222.7" cy="343.3" rx="1.5" ry="1.5" transform="rotate(21 222.7 343.3)" />
<ellipse class="bk" cx="239.7" cy="291.2" rx="0.6" ry="0.8" transform="rotate(19 239.7 291.2)" />
<ellipse class="bk" cx="237.9" cy="295.9" rx="1.0" ry="1.3" transform="rotate(130 237.9 295.9)" />
<ellipse class="bk" cx="232.5" cy="340.0" rx="1.4" ry="0.8" transform="rotate(66 232.5 340.0)" />
<ellipse class="bk" cx="224.3" cy="347.4" rx="1.1" ry="0.9" transform="rotate(51 224.3 347.4)" />
<ellipse class="bk" cx="236.1" cy="310.4" rx="1.5" ry="1.1" transform="rotate(128 236.1 310.4)" />
<ellipse class="bk" cx="235.4" cy="320.7" rx="1.0" ry="0.9" transform="rotate(18 235.4 320.7)" />
<ellipse class="bk" cx="222.7" cy="299.7" rx="1.3" ry="0.7" transform="rotate(87 222.7 299.7)" />
<ellipse class="bk" cx="231.4" cy="289.4" rx="1.4" ry="1.3" transform="rotate(53 231.4 289.4)" />
<ellipse class="bk" cx="223.0" cy="351.2" rx="1.4" ry="1.0" transform="rotate(135 223.0 351.2)" />
<ellipse class="bk" cx="240.4" cy="286.8" rx="1.2" ry="1.5" transform="rotate(98 240.4 286.8)" />
<ellipse class="bk" cx="222.9" cy="348.6" rx="1.0" ry="1.2" transform="rotate(116 222.9 348.6)" />
<ellipse class="bk" cx="233.1" cy="334.0" rx="1.2" ry="1.3" transform="rotate(59 233.1 334.0)" />
<ellipse class="bk" cx="224.6" cy="332.2" rx="1.6" ry="0.9" transform="rotate(166 224.6 332.2)" />
<ellipse class="bk" cx="233.3" cy="305.0" rx="0.6" ry="1.2" transform="rotate(157 233.3 305.0)" />
<ellipse class="bk" cx="225.3" cy="294.7" rx="0.9" ry="1.2" transform="rotate(12 225.3 294.7)" />
<ellipse class="bk" cx="236.0" cy="288.8" rx="0.8" ry="1.0" transform="rotate(52 236.0 288.8)" />
<ellipse class="bk" cx="221.2" cy="307.0" rx="1.3" ry="0.9" transform="rotate(45 221.2 307.0)" />
<ellipse class="bk" cx="225.7" cy="354.5" rx="0.9" ry="1.4" transform="rotate(76 225.7 354.5)" />
<ellipse class="bk" cx="237.9" cy="299.0" rx="1.3" ry="1.1" transform="rotate(157 237.9 299.0)" />
<ellipse class="bk" cx="223.1" cy="296.6" rx="0.6" ry="0.9" transform="rotate(44 223.1 296.6)" />
<path class="lg" d="M626.1,260.3 L631.4,261.4 L635.5,266.6 L639.7,271.8 L638.7,277.0 L633.4,279.1 L629.3,283.3 L627.2,280.2 L628.2,271.8 L626.1,265.5" style="stroke-width:2.6"/>
<ellipse class="bk" cx="630.0" cy="283.4" rx="1.2" ry="1.5" transform="rotate(49 630.0 283.4)" />
<ellipse class="bk" cx="636.4" cy="277.0" rx="1.3" ry="1.0" transform="rotate(147 636.4 277.0)" />
<ellipse class="bk" cx="629.5" cy="282.3" rx="1.6" ry="1.5" transform="rotate(106 629.5 282.3)" />
<ellipse class="bk" cx="634.6" cy="277.8" rx="1.6" ry="2.2" transform="rotate(168 634.6 277.8)" />
<ellipse class="bk" cx="632.8" cy="281.0" rx="2.2" ry="2.0" transform="rotate(35 632.8 281.0)" />
<ellipse class="bk" cx="638.2" cy="274.6" rx="2.0" ry="1.5" transform="rotate(59 638.2 274.6)" />
<ellipse class="bk" cx="636.6" cy="270.8" rx="2.1" ry="2.1" transform="rotate(1 636.6 270.8)" />
<ellipse class="bk" cx="638.2" cy="271.4" rx="1.2" ry="1.5" transform="rotate(81 638.2 271.4)" />
<ellipse class="bk" cx="636.1" cy="278.1" rx="1.0" ry="2.1" transform="rotate(77 636.1 278.1)" />
<ellipse class="bk" cx="630.8" cy="279.6" rx="2.2" ry="1.5" transform="rotate(30 630.8 279.6)" />
<ellipse class="bk" cx="631.4" cy="281.3" rx="2.1" ry="1.1" transform="rotate(23 631.4 281.3)" />
<ellipse class="bk" cx="639.1" cy="269.7" rx="1.6" ry="1.8" transform="rotate(53 639.1 269.7)" />
<ellipse class="bk" cx="634.9" cy="266.8" rx="1.7" ry="1.0" transform="rotate(8 634.9 266.8)" />
<ellipse class="bk" cx="636.7" cy="268.7" rx="1.1" ry="1.1" transform="rotate(60 636.7 268.7)" />
<ellipse class="bk" cx="632.4" cy="279.0" rx="1.0" ry="1.3" transform="rotate(83 632.4 279.0)" />
<ellipse class="bk" cx="639.1" cy="276.5" rx="1.7" ry="1.2" transform="rotate(49 639.1 276.5)" />
<ellipse class="bk" cx="629.5" cy="284.7" rx="2.1" ry="2.0" transform="rotate(113 629.5 284.7)" />
<ellipse class="bk" cx="632.9" cy="277.9" rx="1.4" ry="1.1" transform="rotate(33 632.9 277.9)" />
<ellipse class="bk" cx="636.0" cy="266.9" rx="1.1" ry="1.9" transform="rotate(9 636.0 266.9)" />
<ellipse class="bk" cx="635.1" cy="277.5" rx="1.5" ry="1.7" transform="rotate(170 635.1 277.5)" />
<ellipse class="bk" cx="635.2" cy="276.3" rx="1.1" ry="1.1" transform="rotate(147 635.2 276.3)" />
<ellipse class="bk" cx="630.4" cy="281.7" rx="2.1" ry="1.2" transform="rotate(90 630.4 281.7)" />
<ellipse class="lg" cx="623.1" cy="270.1" rx="2.3" ry="2.3" style="stroke-width:1.6;fill:#fff"/>
<path class="lg" d="M636.0,302.0 L641.0,301.0 L643.4,306.0 L642.2,312.4 L637.5,313.2 L635.5,308.0" style="stroke-width:2"/>
<path class="lg" d="M632.6,323.8 L637.0,321.6 L641.3,320.9 L644.2,327.4 L643.5,336.1 L638.4,338.3 L633.3,334.7 L631.8,328.9" style="stroke-width:2.6"/>
<path class="lg" d="M624.0,321.5 L626.8,323.0 L626.8,334.0 L625.4,346.5 L622.0,346.5 L622.6,334.0 L623.0,326.0" style="stroke-width:2.2;fill:#f2f2f2"/>
<ellipse class="bk" cx="624.7" cy="306.6" rx="1.9" ry="2.1" transform="rotate(138 624.7 306.6)" />
<ellipse class="bk" cx="623.4" cy="320.0" rx="1.9" ry="2.3" transform="rotate(177 623.4 320.0)" />
<ellipse class="bk" cx="620.5" cy="315.1" rx="1.8" ry="1.3" transform="rotate(165 620.5 315.1)" />
<ellipse class="bk" cx="621.3" cy="310.5" rx="1.5" ry="1.4" transform="rotate(174 621.3 310.5)" />
<ellipse class="bk" cx="622.4" cy="315.8" rx="1.5" ry="1.0" transform="rotate(164 622.4 315.8)" />
<ellipse class="bk" cx="624.3" cy="309.0" rx="1.4" ry="2.6" transform="rotate(50 624.3 309.0)" />
<ellipse class="bk" cx="624.6" cy="303.2" rx="1.4" ry="2.5" transform="rotate(20 624.6 303.2)" />
<ellipse class="bk" cx="621.6" cy="311.8" rx="1.1" ry="1.3" transform="rotate(166 621.6 311.8)" />
<ellipse class="bk" cx="620.8" cy="308.7" rx="1.6" ry="2.4" transform="rotate(147 620.8 308.7)" />
<ellipse class="bk" cx="622.2" cy="303.1" rx="1.3" ry="1.9" transform="rotate(57 622.2 303.1)" />
<ellipse class="bk" cx="625.9" cy="304.1" rx="1.4" ry="0.9" transform="rotate(143 625.9 304.1)" />
<ellipse class="bk" cx="621.2" cy="315.1" rx="1.1" ry="2.8" transform="rotate(137 621.2 315.1)" />
<ellipse class="bk" cx="624.7" cy="320.3" rx="1.8" ry="1.5" transform="rotate(125 624.7 320.3)" />
<ellipse class="bk" cx="622.3" cy="307.8" rx="1.8" ry="2.1" transform="rotate(140 622.3 307.8)" />
<ellipse class="bk" cx="626.7" cy="363.2" rx="1.8" ry="3.0" transform="rotate(166 626.7 363.2)" />
<ellipse class="bk" cx="621.1" cy="359.5" rx="1.5" ry="1.3" transform="rotate(170 621.1 359.5)" />
<ellipse class="bk" cx="625.9" cy="349.9" rx="1.6" ry="0.7" transform="rotate(156 625.9 349.9)" />
<ellipse class="bk" cx="622.1" cy="349.5" rx="1.3" ry="1.3" transform="rotate(124 622.1 349.5)" />
<ellipse class="bk" cx="619.6" cy="353.0" rx="2.0" ry="1.2" transform="rotate(143 619.6 353.0)" />
<ellipse class="bk" cx="625.2" cy="350.9" rx="1.3" ry="0.8" transform="rotate(91 625.2 350.9)" />
<ellipse class="bk" cx="627.0" cy="356.5" rx="0.9" ry="1.5" transform="rotate(14 627.0 356.5)" />
<ellipse class="bk" cx="626.9" cy="356.6" rx="1.3" ry="2.6" transform="rotate(58 626.9 356.6)" />
<ellipse class="bk" cx="621.5" cy="350.8" rx="1.9" ry="0.6" transform="rotate(143 621.5 350.8)" />
<ellipse class="bk" cx="627.2" cy="345.1" rx="1.4" ry="1.1" transform="rotate(41 627.2 345.1)" />
<ellipse class="bk" cx="625.8" cy="358.9" rx="1.4" ry="1.4" transform="rotate(9 625.8 358.9)" />
<ellipse class="bk" cx="621.7" cy="355.7" rx="2.0" ry="1.7" transform="rotate(30 621.7 355.7)" />
<ellipse class="bk" cx="619.1" cy="358.8" rx="1.5" ry="2.2" transform="rotate(120 619.1 358.8)" />
<ellipse class="bk" cx="627.7" cy="358.2" rx="1.8" ry="0.9" transform="rotate(102 627.7 358.2)" />
<ellipse class="bk" cx="602.5" cy="283.5" rx="0.9" ry="1.8" transform="rotate(85 602.5 283.5)" />
<ellipse class="bk" cx="617.6" cy="286.7" rx="2.1" ry="1.3" transform="rotate(86 617.6 286.7)" />
<ellipse class="bk" cx="612.8" cy="280.6" rx="1.9" ry="1.0" transform="rotate(48 612.8 280.6)" />
<ellipse class="lg" cx="605.0" cy="294.6" rx="3.1" ry="1.9" transform="rotate(90 605.0 294.6)" style="stroke-width:1.7;fill:none"/>
<ellipse class="bk" cx="622.7" cy="289.5" rx="1.9" ry="2.2" transform="rotate(63 622.7 289.5)" />
<ellipse class="bk" cx="613.3" cy="284.8" rx="0.9" ry="1.0" transform="rotate(49 613.3 284.8)" />
<ellipse class="bk" cx="605.4" cy="278.6" rx="1.9" ry="0.8" transform="rotate(113 605.4 278.6)" />
<ellipse class="bk" cx="603.4" cy="282.0" rx="2.2" ry="0.8" transform="rotate(78 603.4 282.0)" />
<ellipse class="bk" cx="607.4" cy="296.6" rx="2.1" ry="1.1" transform="rotate(32 607.4 296.6)" />
<ellipse class="lg" cx="602.7" cy="280.3" rx="2.9" ry="2.6" transform="rotate(105 602.7 280.3)" style="stroke-width:1.5;fill:none"/>
<ellipse class="bk" cx="608.6" cy="295.9" rx="2.2" ry="0.7" transform="rotate(4 608.6 295.9)" />
<ellipse class="bk" cx="605.7" cy="275.1" rx="1.4" ry="2.6" transform="rotate(113 605.7 275.1)" />
<ellipse class="bk" cx="618.6" cy="298.2" rx="1.2" ry="2.6" transform="rotate(170 618.6 298.2)" />
<ellipse class="bk" cx="619.1" cy="285.5" rx="1.5" ry="1.1" transform="rotate(159 619.1 285.5)" />
<ellipse class="lg" cx="606.5" cy="279.6" rx="2.4" ry="3.0" transform="rotate(144 606.5 279.6)" style="stroke-width:1.4;fill:none"/>
<ellipse class="bk" cx="618.3" cy="288.3" rx="1.1" ry="1.1" transform="rotate(35 618.3 288.3)" />
<ellipse class="bk" cx="607.3" cy="282.3" rx="1.9" ry="2.9" transform="rotate(30 607.3 282.3)" />
<ellipse class="bk" cx="610.4" cy="295.2" rx="0.9" ry="2.2" transform="rotate(167 610.4 295.2)" />
<ellipse class="bk" cx="618.3" cy="279.5" rx="2.0" ry="1.4" transform="rotate(40 618.3 279.5)" />
<ellipse class="bk" cx="606.6" cy="287.7" rx="2.2" ry="3.0" transform="rotate(154 606.6 287.7)" />
<ellipse class="bk" cx="613.9" cy="299.2" rx="0.9" ry="2.4" transform="rotate(130 613.9 299.2)" />
<ellipse class="bk" cx="605.1" cy="277.8" rx="2.1" ry="1.6" transform="rotate(140 605.1 277.8)" />
<ellipse class="lg" cx="619.8" cy="293.7" rx="2.8" ry="2.2" transform="rotate(12 619.8 293.7)" style="stroke-width:1.5;fill:#e0e0e0"/>
<ellipse class="bk" cx="613.1" cy="300.3" rx="1.1" ry="2.4" transform="rotate(82 613.1 300.3)" />
<ellipse class="bk" cx="613.8" cy="277.9" rx="1.5" ry="3.3" transform="rotate(2 613.8 277.9)" />
<ellipse class="bk" cx="615.7" cy="294.2" rx="1.3" ry="1.6" transform="rotate(165 615.7 294.2)" />
<ellipse class="bk" cx="608.0" cy="297.5" rx="1.9" ry="1.9" transform="rotate(130 608.0 297.5)" />
<ellipse class="bk" cx="607.2" cy="278.0" rx="1.7" ry="2.4" transform="rotate(118 607.2 278.0)" />
<ellipse class="lg" cx="616.6" cy="285.2" rx="3.5" ry="5.4" transform="rotate(24 616.6 285.2)" style="stroke-width:1.3;fill:#d0d0d0"/>
<ellipse class="bk" cx="609.2" cy="291.0" rx="1.7" ry="2.2" transform="rotate(107 609.2 291.0)" />
<ellipse class="bk" cx="616.4" cy="296.8" rx="1.1" ry="1.1" transform="rotate(161 616.4 296.8)" />
<ellipse class="bk" cx="612.9" cy="278.9" rx="1.8" ry="2.8" transform="rotate(9 612.9 278.9)" />
<ellipse class="bk" cx="611.2" cy="281.2" rx="1.4" ry="2.7" transform="rotate(165 611.2 281.2)" />
<ellipse class="bk" cx="616.6" cy="279.1" rx="1.5" ry="2.1" transform="rotate(49 616.6 279.1)" />
<ellipse class="lg" cx="619.8" cy="299.8" rx="2.4" ry="2.0" transform="rotate(13 619.8 299.8)" style="stroke-width:1.7;fill:#e0e0e0"/>
<ellipse class="bk" cx="611.8" cy="285.5" rx="1.7" ry="2.1" transform="rotate(93 611.8 285.5)" />
<ellipse class="bk" cx="611.1" cy="277.5" rx="2.1" ry="1.6" transform="rotate(67 611.1 277.5)" />
<ellipse class="bk" cx="602.7" cy="286.8" rx="1.8" ry="1.2" transform="rotate(20 602.7 286.8)" />
<ellipse class="bk" cx="613.1" cy="275.2" rx="2.2" ry="1.7" transform="rotate(127 613.1 275.2)" />
<ellipse class="bk" cx="616.5" cy="291.5" rx="2.1" ry="3.0" transform="rotate(169 616.5 291.5)" />
<ellipse class="lg" cx="613.7" cy="277.2" rx="2.0" ry="2.6" transform="rotate(90 613.7 277.2)" style="stroke-width:1.5;fill:none"/>
<ellipse class="bk" cx="612.8" cy="290.8" rx="2.2" ry="0.9" transform="rotate(93 612.8 290.8)" />
<ellipse class="lg" cx="622.4" cy="296.7" rx="2.9" ry="3.9" transform="rotate(32 622.4 296.7)" style="stroke-width:1.8;fill:#e0e0e0"/>
<ellipse class="bk" cx="605.0" cy="291.4" rx="2.2" ry="1.9" transform="rotate(39 605.0 291.4)" />
<ellipse class="bk" cx="618.8" cy="288.0" rx="2.0" ry="2.2" transform="rotate(134 618.8 288.0)" />
<ellipse class="bk" cx="616.7" cy="289.4" rx="2.0" ry="0.8" transform="rotate(160 616.7 289.4)" />
<ellipse class="bk" cx="616.0" cy="297.6" rx="2.2" ry="3.3" transform="rotate(8 616.0 297.6)" />
<ellipse class="bk" cx="609.1" cy="297.1" rx="1.8" ry="0.9" transform="rotate(9 609.1 297.1)" />
<ellipse class="bk" cx="616.6" cy="287.9" rx="2.2" ry="2.0" transform="rotate(105 616.6 287.9)" />
<ellipse class="bk" cx="622.9" cy="294.8" rx="1.2" ry="0.8" transform="rotate(13 622.9 294.8)" />
<ellipse class="bk" cx="621.0" cy="287.9" rx="1.7" ry="1.8" transform="rotate(9 621.0 287.9)" />
<ellipse class="lg" cx="621.6" cy="300.7" rx="3.6" ry="1.7" transform="rotate(126 621.6 300.7)" style="stroke-width:1.4;fill:none"/>
<ellipse class="bk" cx="616.4" cy="287.2" rx="1.1" ry="2.6" transform="rotate(51 616.4 287.2)" />
<ellipse class="bk" cx="618.4" cy="292.7" rx="2.2" ry="1.7" transform="rotate(145 618.4 292.7)" />
<ellipse class="bk" cx="601.7" cy="288.8" rx="2.0" ry="2.3" transform="rotate(156 601.7 288.8)" />
<ellipse class="bk" cx="611.3" cy="288.8" rx="1.1" ry="1.4" transform="rotate(128 611.3 288.8)" />
<ellipse class="bk" cx="604.8" cy="294.6" rx="1.4" ry="1.2" transform="rotate(57 604.8 294.6)" />
<ellipse class="bk" cx="606.6" cy="276.6" rx="2.0" ry="1.6" transform="rotate(114 606.6 276.6)" />
<ellipse class="bk" cx="611.3" cy="300.9" rx="2.3" ry="2.3" transform="rotate(140 611.3 300.9)" />
<ellipse class="bk" cx="603.4" cy="297.1" rx="2.1" ry="1.2" transform="rotate(86 603.4 297.1)" />
<ellipse class="bk" cx="614.8" cy="290.2" rx="1.4" ry="1.6" transform="rotate(145 614.8 290.2)" />
<ellipse class="bk" cx="620.9" cy="276.3" rx="2.0" ry="1.1" transform="rotate(80 620.9 276.3)" />
<ellipse class="lg" cx="606.5" cy="291.4" rx="2.2" ry="3.9" transform="rotate(125 606.5 291.4)" style="stroke-width:1.4;fill:#e0e0e0"/>
<ellipse class="bk" cx="619.1" cy="275.5" rx="1.3" ry="2.6" transform="rotate(175 619.1 275.5)" />
<ellipse class="bk" cx="601.6" cy="284.2" rx="2.0" ry="2.0" transform="rotate(139 601.6 284.2)" />
<ellipse class="bk" cx="605.4" cy="276.5" rx="1.6" ry="1.9" transform="rotate(37 605.4 276.5)" />
<ellipse class="bk" cx="602.1" cy="281.4" rx="1.0" ry="2.4" transform="rotate(154 602.1 281.4)" />
<ellipse class="bk" cx="616.5" cy="275.6" rx="1.5" ry="1.0" transform="rotate(52 616.5 275.6)" />
<ellipse class="bk" cx="616.3" cy="300.8" rx="1.3" ry="1.9" transform="rotate(84 616.3 300.8)" />
<ellipse class="bk" cx="609.0" cy="289.3" rx="2.1" ry="0.7" transform="rotate(118 609.0 289.3)" />
<ellipse class="bk" cx="603.4" cy="288.8" rx="1.5" ry="1.5" transform="rotate(166 603.4 288.8)" />
<ellipse class="bk" cx="613.1" cy="291.7" rx="1.6" ry="2.1" transform="rotate(97 613.1 291.7)" />
<ellipse class="bk" cx="613.6" cy="276.4" rx="1.3" ry="2.7" transform="rotate(34 613.6 276.4)" />
<ellipse class="bk" cx="609.9" cy="297.6" rx="1.8" ry="1.3" transform="rotate(80 609.9 297.6)" />
<ellipse class="bk" cx="601.7" cy="298.3" rx="1.0" ry="1.8" transform="rotate(66 601.7 298.3)" />
<ellipse class="lg" cx="601.6" cy="278.5" rx="2.1" ry="1.1" transform="rotate(9 601.6 278.5)" style="stroke-width:1.7;fill:none"/>
<ellipse class="lg" cx="617.9" cy="279.2" rx="2.6" ry="3.0" transform="rotate(36 617.9 279.2)" style="stroke-width:1.5;fill:#e0e0e0"/>
<ellipse class="lg" cx="618.1" cy="286.5" rx="3.0" ry="2.2" transform="rotate(165 618.1 286.5)" style="stroke-width:1.5;fill:#e0e0e0"/>
<ellipse class="lg" cx="613.2" cy="275.8" rx="3.1" ry="2.3" transform="rotate(100 613.2 275.8)" style="stroke-width:1.2;fill:none"/>
<ellipse class="bk" cx="607.8" cy="287.3" rx="2.2" ry="1.5" transform="rotate(97 607.8 287.3)" />
<ellipse class="lg" cx="611.0" cy="287.0" rx="2.2" ry="2.8" style="stroke:none;fill:#eee"/>
<ellipse class="lg" cx="606.0" cy="281.0" rx="1.6" ry="1.6" style="stroke:none;fill:#ddd"/>
<ellipse class="bk" cx="610.6" cy="326.6" rx="1.3" ry="1.3" transform="rotate(77 610.6 326.6)" />
<ellipse class="bk" cx="611.1" cy="307.2" rx="1.4" ry="1.1" transform="rotate(154 611.1 307.2)" />
<ellipse class="bk" cx="609.1" cy="333.8" rx="1.2" ry="1.0" transform="rotate(127 609.1 333.8)" />
<ellipse class="bk" cx="606.2" cy="314.0" rx="1.1" ry="2.0" transform="rotate(8 606.2 314.0)" />
<ellipse class="bk" cx="611.4" cy="333.8" rx="1.7" ry="0.7" transform="rotate(165 611.4 333.8)" />
<ellipse class="bk" cx="606.7" cy="310.1" rx="1.1" ry="1.4" transform="rotate(55 606.7 310.1)" />
<ellipse class="bk" cx="609.9" cy="312.1" rx="1.2" ry="2.9" transform="rotate(63 609.9 312.1)" />
<ellipse class="bk" cx="606.3" cy="312.2" rx="1.3" ry="1.7" transform="rotate(28 606.3 312.2)" />
<ellipse class="lg" cx="609.3" cy="317.2" rx="2.3" ry="4.4" transform="rotate(103 609.3 317.2)" style="stroke-width:1.4;fill:none"/>
<ellipse class="bk" cx="607.7" cy="329.6" rx="1.1" ry="1.7" transform="rotate(178 607.7 329.6)" />
<ellipse class="bk" cx="609.9" cy="334.4" rx="1.5" ry="1.7" transform="rotate(158 609.9 334.4)" />
<ellipse class="bk" cx="607.0" cy="329.2" rx="1.3" ry="1.2" transform="rotate(34 607.0 329.2)" />
<ellipse class="lg" cx="610.8" cy="326.4" rx="2.8" ry="4.0" transform="rotate(35 610.8 326.4)" style="stroke-width:1.6;fill:none"/>
<ellipse class="bk" cx="610.8" cy="312.6" rx="1.4" ry="1.0" transform="rotate(90 610.8 312.6)" />
<ellipse class="lg" cx="610.7" cy="313.5" rx="2.5" ry="2.6" transform="rotate(15 610.7 313.5)" style="stroke-width:1.3;fill:#d0d0d0"/>
<ellipse class="bk" cx="606.3" cy="336.9" rx="0.9" ry="1.4" transform="rotate(107 606.3 336.9)" />
<ellipse class="bk" cx="609.9" cy="334.7" rx="1.3" ry="2.8" transform="rotate(45 609.9 334.7)" />
<ellipse class="bk" cx="606.6" cy="323.6" rx="1.7" ry="1.6" transform="rotate(21 606.6 323.6)" />
<ellipse class="bk" cx="610.9" cy="313.9" rx="1.9" ry="1.8" transform="rotate(111 610.9 313.9)" />
<ellipse class="bk" cx="611.8" cy="314.9" rx="1.1" ry="1.9" transform="rotate(174 611.8 314.9)" />
<ellipse class="bk" cx="610.5" cy="312.4" rx="1.4" ry="1.0" transform="rotate(39 610.5 312.4)" />
<ellipse class="bk" cx="606.5" cy="317.9" rx="1.1" ry="2.7" transform="rotate(28 606.5 317.9)" />
<ellipse class="bk" cx="611.6" cy="306.7" rx="0.9" ry="1.8" transform="rotate(25 611.6 306.7)" />
<ellipse class="bk" cx="611.6" cy="329.3" rx="1.8" ry="0.5" transform="rotate(125 611.6 329.3)" />
<ellipse class="bk" cx="607.9" cy="324.7" rx="1.3" ry="1.7" transform="rotate(162 607.9 324.7)" />
<ellipse class="bk" cx="611.7" cy="314.5" rx="1.3" ry="0.8" transform="rotate(121 611.7 314.5)" />
<ellipse class="bk" cx="607.3" cy="327.2" rx="1.8" ry="1.7" transform="rotate(36 607.3 327.2)" />
<ellipse class="lg" cx="606.1" cy="322.6" rx="2.0" ry="1.3" transform="rotate(167 606.1 322.6)" style="stroke-width:1.5;fill:#d0d0d0"/>
<ellipse class="bk" cx="610.3" cy="325.4" rx="1.2" ry="1.3" transform="rotate(80 610.3 325.4)" />
<ellipse class="bk" cx="610.7" cy="318.2" rx="1.3" ry="2.3" transform="rotate(35 610.7 318.2)" />
<ellipse class="bk" cx="610.5" cy="317.8" rx="1.7" ry="2.8" transform="rotate(167 610.5 317.8)" />
<ellipse class="bk" cx="610.0" cy="311.6" rx="0.9" ry="1.3" transform="rotate(1 610.0 311.6)" />
<ellipse class="bk" cx="611.7" cy="308.1" rx="1.8" ry="2.0" transform="rotate(125 611.7 308.1)" />
<ellipse class="bk" cx="608.3" cy="322.6" rx="1.0" ry="0.7" transform="rotate(162 608.3 322.6)" />
<ellipse class="bk" cx="613.6" cy="315.2" rx="1.4" ry="1.3" transform="rotate(149 613.6 315.2)" />
<ellipse class="bk" cx="623.0" cy="313.0" rx="1.6" ry="0.8" transform="rotate(21 623.0 313.0)" />
<ellipse class="bk" cx="622.0" cy="317.8" rx="1.1" ry="1.0" transform="rotate(135 622.0 317.8)" />
<ellipse class="lg" cx="617.4" cy="301.3" rx="2.4" ry="1.4" transform="rotate(145 617.4 301.3)" style="stroke-width:1.3;fill:none"/>
<ellipse class="bk" cx="621.2" cy="306.7" rx="1.4" ry="1.9" transform="rotate(140 621.2 306.7)" />
<ellipse class="bk" cx="623.4" cy="300.9" rx="1.6" ry="1.3" transform="rotate(23 623.4 300.9)" />
<ellipse class="bk" cx="624.2" cy="301.7" rx="1.1" ry="1.4" transform="rotate(133 624.2 301.7)" />
<ellipse class="lg" cx="613.3" cy="316.3" rx="2.7" ry="3.2" transform="rotate(171 613.3 316.3)" style="stroke-width:1.8;fill:#e0e0e0"/>
<ellipse class="bk" cx="628.5" cy="317.8" rx="1.5" ry="1.7" transform="rotate(151 628.5 317.8)" />
<ellipse class="bk" cx="618.9" cy="316.3" rx="1.2" ry="1.0" transform="rotate(1 618.9 316.3)" />
<ellipse class="bk" cx="626.7" cy="314.3" rx="1.7" ry="0.9" transform="rotate(97 626.7 314.3)" />
<ellipse class="bk" cx="624.1" cy="310.0" rx="1.0" ry="1.4" transform="rotate(169 624.1 310.0)" />
<ellipse class="bk" cx="621.4" cy="301.4" rx="0.9" ry="1.9" transform="rotate(19 621.4 301.4)" />
<ellipse class="bk" cx="628.5" cy="311.6" rx="1.2" ry="1.6" transform="rotate(5 628.5 311.6)" />
<ellipse class="bk" cx="613.4" cy="316.7" rx="1.2" ry="1.5" transform="rotate(20 613.4 316.7)" />
<ellipse class="lg" cx="628.1" cy="304.5" rx="2.6" ry="1.4" transform="rotate(0 628.1 304.5)" style="stroke-width:1.6;fill:#d0d0d0"/>
<ellipse class="bk" cx="625.4" cy="311.3" rx="1.3" ry="1.4" transform="rotate(19 625.4 311.3)" />
<ellipse class="bk" cx="619.3" cy="300.7" rx="0.7" ry="1.1" transform="rotate(51 619.3 300.7)" />
<ellipse class="bk" cx="628.6" cy="308.5" rx="1.1" ry="1.8" transform="rotate(109 628.6 308.5)" />
<ellipse class="bk" cx="613.8" cy="317.2" rx="1.6" ry="0.9" transform="rotate(98 613.8 317.2)" />
<ellipse class="bk" cx="617.2" cy="310.5" rx="1.1" ry="1.3" transform="rotate(170 617.2 310.5)" />
<ellipse class="bk" cx="620.1" cy="300.1" rx="0.9" ry="1.9" transform="rotate(86 620.1 300.1)" />
<ellipse class="lg" cx="628.3" cy="301.0" rx="2.3" ry="5.2" transform="rotate(48 628.3 301.0)" style="stroke-width:1.4;fill:#e0e0e0"/>
<ellipse class="bk" cx="619.0" cy="300.0" rx="1.3" ry="1.1" transform="rotate(86 619.0 300.0)" />
<ellipse class="lg" cx="622.4" cy="309.8" rx="2.0" ry="3.0" transform="rotate(24 622.4 309.8)" style="stroke-width:1.3;fill:#d0d0d0"/>
<ellipse class="lg" cx="617.6" cy="312.6" rx="1.6" ry="1.5" transform="rotate(105 617.6 312.6)" style="stroke-width:1.6;fill:none"/>
<ellipse class="bk" cx="616.6" cy="320.3" rx="1.3" ry="0.9" transform="rotate(125 616.6 320.3)" />
<ellipse class="bk" cx="614.4" cy="344.1" rx="0.8" ry="1.0" transform="rotate(155 614.4 344.1)" />
<ellipse class="bk" cx="620.4" cy="322.1" rx="0.9" ry="0.9" transform="rotate(55 620.4 322.1)" />
<ellipse class="bk" cx="616.4" cy="326.7" rx="1.6" ry="1.2" transform="rotate(131 616.4 326.7)" />
<ellipse class="bk" cx="613.3" cy="343.5" rx="1.3" ry="1.2" transform="rotate(95 613.3 343.5)" />
<ellipse class="bk" cx="617.0" cy="343.7" rx="0.9" ry="1.8" transform="rotate(140 617.0 343.7)" />
<ellipse class="bk" cx="620.7" cy="322.0" rx="1.4" ry="2.0" transform="rotate(71 620.7 322.0)" />
<ellipse class="bk" cx="620.3" cy="327.8" rx="1.1" ry="2.2" transform="rotate(35 620.3 327.8)" />
<ellipse class="bk" cx="613.6" cy="343.5" rx="1.3" ry="1.7" transform="rotate(131 613.6 343.5)" />
<ellipse class="bk" cx="618.5" cy="330.3" rx="1.5" ry="1.8" transform="rotate(66 618.5 330.3)" />
<ellipse class="bk" cx="621.1" cy="344.9" rx="1.5" ry="1.3" transform="rotate(144 621.1 344.9)" />
<ellipse class="bk" cx="619.9" cy="322.8" rx="1.1" ry="1.2" transform="rotate(101 619.9 322.8)" />
<ellipse class="bk" cx="614.5" cy="327.8" rx="1.7" ry="0.9" transform="rotate(52 614.5 327.8)" />
<ellipse class="bk" cx="620.1" cy="329.0" rx="1.7" ry="2.3" transform="rotate(168 620.1 329.0)" />
<ellipse class="bk" cx="616.1" cy="339.7" rx="1.4" ry="1.4" transform="rotate(176 616.1 339.7)" />
<ellipse class="bk" cx="620.8" cy="340.4" rx="1.0" ry="1.3" transform="rotate(161 620.8 340.4)" />
<ellipse class="bk" cx="617.5" cy="344.1" rx="0.7" ry="1.5" transform="rotate(106 617.5 344.1)" />
<ellipse class="bk" cx="618.7" cy="330.0" rx="1.5" ry="1.6" transform="rotate(96 618.7 330.0)" />
<ellipse class="bk" cx="632.1" cy="295.0" rx="1.4" ry="2.0" transform="rotate(176 632.1 295.0)" />
<ellipse class="bk" cx="633.3" cy="283.8" rx="1.7" ry="1.7" transform="rotate(37 633.3 283.8)" />
<ellipse class="bk" cx="639.5" cy="287.8" rx="1.9" ry="0.7" transform="rotate(50 639.5 287.8)" />
<ellipse class="bk" cx="630.7" cy="283.9" rx="1.5" ry="1.6" transform="rotate(96 630.7 283.9)" />
<ellipse class="bk" cx="635.8" cy="299.9" rx="1.4" ry="1.3" transform="rotate(180 635.8 299.9)" />
<ellipse class="bk" cx="639.8" cy="287.5" rx="0.9" ry="1.6" transform="rotate(26 639.8 287.5)" />
<ellipse class="bk" cx="633.0" cy="295.0" rx="1.9" ry="1.3" transform="rotate(93 633.0 295.0)" />
<ellipse class="lg" cx="627.5" cy="288.1" rx="1.7" ry="3.4" transform="rotate(151 627.5 288.1)" style="stroke-width:1.6;fill:none"/>
<ellipse class="bk" cx="634.2" cy="290.7" rx="1.9" ry="1.2" transform="rotate(67 634.2 290.7)" />
<ellipse class="bk" cx="631.7" cy="286.9" rx="1.3" ry="1.4" transform="rotate(41 631.7 286.9)" />
<ellipse class="bk" cx="628.4" cy="299.7" rx="1.8" ry="1.1" transform="rotate(131 628.4 299.7)" />
<ellipse class="bk" cx="628.8" cy="286.8" rx="1.4" ry="1.3" transform="rotate(141 628.8 286.8)" />
<ellipse class="bk" cx="636.8" cy="297.7" rx="1.8" ry="1.3" transform="rotate(99 636.8 297.7)" />
<ellipse class="bk" cx="631.2" cy="298.6" rx="1.4" ry="1.2" transform="rotate(107 631.2 298.6)" />
<ellipse class="lg" cx="627.6" cy="299.2" rx="2.4" ry="2.7" transform="rotate(148 627.6 299.2)" style="stroke-width:1.3;fill:none"/>
<ellipse class="bk" cx="639.1" cy="299.7" rx="1.7" ry="1.4" transform="rotate(174 639.1 299.7)" />
<ellipse class="bk" cx="627.0" cy="292.6" rx="1.0" ry="1.6" transform="rotate(152 627.0 292.6)" />
<ellipse class="bk" cx="626.5" cy="288.7" rx="1.9" ry="1.3" transform="rotate(113 626.5 288.7)" />
<ellipse class="bk" cx="638.0" cy="283.4" rx="1.0" ry="2.7" transform="rotate(172 638.0 283.4)" />
<ellipse class="bk" cx="634.9" cy="285.2" rx="1.4" ry="2.4" transform="rotate(92 634.9 285.2)" />
<ellipse class="bk" cx="626.7" cy="287.6" rx="1.4" ry="1.9" transform="rotate(98 626.7 287.6)" />
<ellipse class="bk" cx="632.1" cy="299.8" rx="1.2" ry="0.8" transform="rotate(162 632.1 299.8)" />
<ellipse class="bk" cx="628.1" cy="315.7" rx="1.4" ry="2.3" transform="rotate(33 628.1 315.7)" />
<ellipse class="bk" cx="631.1" cy="318.3" rx="1.4" ry="1.2" transform="rotate(122 631.1 318.3)" />
<ellipse class="bk" cx="635.7" cy="315.7" rx="1.1" ry="1.6" transform="rotate(169 635.7 315.7)" />
<ellipse class="bk" cx="632.1" cy="315.8" rx="0.8" ry="2.1" transform="rotate(91 632.1 315.8)" />
<ellipse class="lg" cx="630.3" cy="312.2" rx="1.7" ry="3.2" transform="rotate(8 630.3 312.2)" style="stroke-width:1.4;fill:#e0e0e0"/>
<ellipse class="bk" cx="632.4" cy="319.9" rx="1.4" ry="2.0" transform="rotate(133 632.4 319.9)" />
<ellipse class="bk" cx="629.6" cy="312.9" rx="1.6" ry="2.0" transform="rotate(166 629.6 312.9)" />
<ellipse class="bk" cx="635.1" cy="319.2" rx="1.0" ry="1.4" transform="rotate(0 635.1 319.2)" />
<ellipse class="bk" cx="633.6" cy="321.6" rx="1.5" ry="1.2" transform="rotate(116 633.6 321.6)" />
<ellipse class="bk" cx="637.5" cy="313.9" rx="1.0" ry="1.4" transform="rotate(135 637.5 313.9)" />
<ellipse class="bk" cx="637.0" cy="319.5" rx="1.5" ry="0.6" transform="rotate(2 637.0 319.5)" />
<ellipse class="bk" cx="628.4" cy="312.1" rx="0.9" ry="1.0" transform="rotate(139 628.4 312.1)" />
<ellipse class="bk" cx="621.1" cy="253.4" rx="1.7" ry="0.8" transform="rotate(62 621.1 253.4)" />
<ellipse class="bk" cx="622.9" cy="258.1" rx="0.9" ry="0.9" transform="rotate(168 622.9 258.1)" />
<ellipse class="lg" cx="618.0" cy="246.2" rx="1.8" ry="1.2" transform="rotate(62 618.0 246.2)" style="stroke-width:1.7;fill:#e0e0e0"/>
<ellipse class="bk" cx="625.2" cy="242.6" rx="1.5" ry="0.8" transform="rotate(83 625.2 242.6)" />
<ellipse class="bk" cx="622.3" cy="245.6" rx="1.2" ry="1.5" transform="rotate(134 622.3 245.6)" />
<ellipse class="bk" cx="625.0" cy="241.9" rx="1.0" ry="1.4" transform="rotate(56 625.0 241.9)" />
<ellipse class="bk" cx="625.1" cy="249.0" rx="1.0" ry="1.1" transform="rotate(117 625.1 249.0)" />
<ellipse class="bk" cx="619.5" cy="256.8" rx="1.8" ry="1.5" transform="rotate(117 619.5 256.8)" />
<ellipse class="bk" cx="634.5" cy="254.5" rx="0.7" ry="1.1" transform="rotate(149 634.5 254.5)" />
<ellipse class="bk" cx="634.1" cy="251.1" rx="1.5" ry="1.1" transform="rotate(179 634.1 251.1)" />
<ellipse class="bk" cx="634.8" cy="257.3" rx="1.1" ry="0.7" transform="rotate(111 634.8 257.3)" />
<ellipse class="bk" cx="633.6" cy="246.2" rx="1.1" ry="1.2" transform="rotate(149 633.6 246.2)" />
<ellipse class="bk" cx="644.4" cy="252.5" rx="1.2" ry="0.9" transform="rotate(168 644.4 252.5)" />
<ellipse class="bk" cx="640.6" cy="250.6" rx="1.3" ry="1.7" transform="rotate(6 640.6 250.6)" />
<ellipse class="bk" cx="641.9" cy="245.9" rx="1.2" ry="1.4" transform="rotate(98 641.9 245.9)" />
<ellipse class="bk" cx="640.4" cy="242.5" rx="0.6" ry="0.7" transform="rotate(23 640.4 242.5)" />
<ellipse class="bk" cx="641.4" cy="233.0" rx="1.1" ry="0.7" transform="rotate(96 641.4 233.0)" />
<ellipse class="bk" cx="630.6" cy="243.5" rx="0.8" ry="1.7" transform="rotate(65 630.6 243.5)" />
<ellipse class="bk" cx="631.5" cy="261.7" rx="0.8" ry="1.4" transform="rotate(76 631.5 261.7)" />
<ellipse class="bk" cx="643.7" cy="254.3" rx="1.2" ry="0.6" transform="rotate(87 643.7 254.3)" />
<ellipse class="bk" cx="643.3" cy="244.8" rx="1.4" ry="1.5" transform="rotate(170 643.3 244.8)" />
<ellipse class="bk" cx="632.7" cy="235.2" rx="0.8" ry="1.7" transform="rotate(11 632.7 235.2)" />
<ellipse class="bk" cx="635.0" cy="230.6" rx="1.3" ry="0.5" transform="rotate(86 635.0 230.6)" />
<ellipse class="bk" cx="637.8" cy="254.1" rx="0.8" ry="1.8" transform="rotate(87 637.8 254.1)" />
<ellipse class="bk" cx="594.8" cy="250.5" rx="2.0" ry="2.6" />
<ellipse class="bk" cx="618.1" cy="241.0" rx="1.8" ry="1.8" />
<ellipse class="bk" cx="623.1" cy="244.0" rx="1.2" ry="1.2" />
<ellipse class="bk" cx="591.2" cy="257.7" rx="1.1" ry="1.1" />
<ellipse class="bk" cx="594.8" cy="265.0" rx="1.6" ry="2.4" transform="rotate(10 594.8 265.0)" />
<ellipse class="bk" cx="591.2" cy="272.2" rx="1.2" ry="1.2" />
<ellipse class="bk" cx="595.0" cy="272.0" rx="1.1" ry="1.4" />
<ellipse class="bk" cx="589.8" cy="287.5" rx="1.5" ry="2.0" transform="rotate(20 589.8 287.5)" />
<ellipse class="bk" cx="595.6" cy="287.5" rx="1.2" ry="1.2" />
<ellipse class="bk" cx="586.1" cy="298.4" rx="1.8" ry="2.0" />
<ellipse class="bk" cx="580.3" cy="304.9" rx="2.6" ry="2.0" />
<ellipse class="bk" cx="586.9" cy="307.1" rx="1.3" ry="1.3" />
<ellipse class="bk" cx="584.0" cy="302.0" rx="1.0" ry="1.0" />
<ellipse class="bk" cx="568.7" cy="322.3" rx="3.4" ry="2.2" transform="rotate(10 568.7 322.3)" />
<ellipse class="bk" cx="581.0" cy="317.2" rx="1.8" ry="3.0" transform="rotate(15 581.0 317.2)" />
<ellipse class="bk" cx="579.6" cy="311.5" rx="1.2" ry="1.2" />
<ellipse class="bk" cx="570.9" cy="332.5" rx="1.2" ry="2.0" transform="rotate(20 570.9 332.5)" />
<ellipse class="bk" cx="573.0" cy="326.5" rx="1.0" ry="1.0" />
<ellipse class="bk" cx="594.8" cy="329.6" rx="1.0" ry="1.0" />
<ellipse class="bk" cx="603.5" cy="327.4" rx="1.0" ry="1.2" />
<ellipse class="bk" cx="582.8" cy="351.5" rx="1.0" ry="1.0" />
<ellipse class="bk" cx="592.0" cy="305.0" rx="1.0" ry="1.4" />
<ellipse class="bk" cx="597.0" cy="300.0" rx="1.2" ry="1.2" />
<ellipse class="bk" cx="598.0" cy="268.0" rx="1.0" ry="1.0" />
<ellipse class="bk" cx="600.0" cy="262.0" rx="1.0" ry="1.2" />
<ellipse class="bk" cx="588.0" cy="262.0" rx="0.8" ry="0.8" />
<ellipse class="lg" cx="648.2" cy="279.6" rx="2.7" ry="1.5" transform="rotate(113 648.2 279.6)" style="stroke-width:1.3;fill:#e0e0e0"/>
<ellipse class="bk" cx="651.5" cy="283.0" rx="2.0" ry="1.6" transform="rotate(170 651.5 283.0)" />
<ellipse class="bk" cx="647.7" cy="285.8" rx="0.9" ry="1.1" transform="rotate(178 647.7 285.8)" />
<ellipse class="bk" cx="653.9" cy="240.9" rx="0.9" ry="1.9" transform="rotate(47 653.9 240.9)" />
<ellipse class="bk" cx="646.5" cy="287.5" rx="1.1" ry="1.2" transform="rotate(70 646.5 287.5)" />
<ellipse class="bk" cx="650.7" cy="257.9" rx="1.7" ry="3.3" transform="rotate(179 650.7 257.9)" />
<ellipse class="bk" cx="644.7" cy="289.0" rx="1.0" ry="1.0" transform="rotate(99 644.7 289.0)" />
<ellipse class="lg" cx="654.0" cy="276.2" rx="2.0" ry="1.0" transform="rotate(28 654.0 276.2)" style="stroke-width:1.8;fill:none"/>
<ellipse class="bk" cx="651.9" cy="299.8" rx="1.6" ry="1.8" transform="rotate(139 651.9 299.8)" />
<ellipse class="bk" cx="644.2" cy="263.7" rx="1.7" ry="2.3" transform="rotate(138 644.2 263.7)" />
<ellipse class="bk" cx="645.7" cy="237.7" rx="2.0" ry="0.8" transform="rotate(117 645.7 237.7)" />
<ellipse class="bk" cx="648.8" cy="275.6" rx="2.0" ry="0.5" transform="rotate(132 648.8 275.6)" />
<ellipse class="bk" cx="654.2" cy="236.9" rx="1.8" ry="3.1" transform="rotate(4 654.2 236.9)" />
<ellipse class="bk" cx="650.4" cy="286.6" rx="1.0" ry="1.5" transform="rotate(134 650.4 286.6)" />
<ellipse class="bk" cx="653.8" cy="265.3" rx="0.9" ry="1.8" transform="rotate(148 653.8 265.3)" />
<ellipse class="bk" cx="645.2" cy="297.9" rx="1.4" ry="2.1" transform="rotate(105 645.2 297.9)" />
<ellipse class="bk" cx="648.6" cy="264.2" rx="1.4" ry="0.6" transform="rotate(120 648.6 264.2)" />
<ellipse class="bk" cx="652.3" cy="294.6" rx="1.7" ry="1.9" transform="rotate(74 652.3 294.6)" />
<ellipse class="bk" cx="646.5" cy="279.5" rx="2.1" ry="1.8" transform="rotate(10 646.5 279.5)" />
<ellipse class="bk" cx="650.8" cy="293.1" rx="1.7" ry="1.4" transform="rotate(174 650.8 293.1)" />
<ellipse class="bk" cx="644.1" cy="243.1" rx="1.3" ry="1.0" transform="rotate(37 644.1 243.1)" />
<ellipse class="bk" cx="653.0" cy="236.1" rx="1.3" ry="2.3" transform="rotate(74 653.0 236.1)" />
<ellipse class="bk" cx="650.3" cy="298.6" rx="1.5" ry="1.3" transform="rotate(164 650.3 298.6)" />
<ellipse class="bk" cx="645.7" cy="262.9" rx="1.7" ry="1.9" transform="rotate(56 645.7 262.9)" />
<ellipse class="bk" cx="651.7" cy="291.3" rx="0.9" ry="1.7" transform="rotate(41 651.7 291.3)" />
<ellipse class="bk" cx="649.4" cy="292.0" rx="2.0" ry="0.6" transform="rotate(20 649.4 292.0)" />
<ellipse class="bk" cx="645.3" cy="278.3" rx="1.5" ry="1.2" transform="rotate(170 645.3 278.3)" />
<ellipse class="bk" cx="649.5" cy="268.7" rx="0.9" ry="1.8" transform="rotate(12 649.5 268.7)" />
<ellipse class="bk" cx="648.0" cy="249.2" rx="1.1" ry="0.9" transform="rotate(151 648.0 249.2)" />
<ellipse class="bk" cx="652.4" cy="291.4" rx="2.2" ry="2.0" transform="rotate(3 652.4 291.4)" />
<ellipse class="bk" cx="647.9" cy="260.0" rx="0.8" ry="1.0" transform="rotate(141 647.9 260.0)" />
<ellipse class="lg" cx="653.7" cy="247.3" rx="3.6" ry="2.7" transform="rotate(19 653.7 247.3)" style="stroke-width:1.4;fill:#d0d0d0"/>
<ellipse class="bk" cx="645.1" cy="256.2" rx="1.5" ry="1.2" transform="rotate(37 645.1 256.2)" />
<ellipse class="bk" cx="651.2" cy="248.3" rx="1.7" ry="1.4" transform="rotate(4 651.2 248.3)" />
<ellipse class="bk" cx="647.6" cy="276.1" rx="1.6" ry="2.1" transform="rotate(4 647.6 276.1)" />
<ellipse class="lg" cx="644.7" cy="268.1" rx="2.6" ry="3.7" transform="rotate(55 644.7 268.1)" style="stroke-width:1.7;fill:none"/>
<ellipse class="bk" cx="647.7" cy="274.0" rx="1.4" ry="1.2" transform="rotate(179 647.7 274.0)" />
<ellipse class="bk" cx="650.1" cy="287.8" rx="1.4" ry="0.9" transform="rotate(96 650.1 287.8)" />
<ellipse class="bk" cx="648.5" cy="328.1" rx="0.8" ry="2.5" transform="rotate(152 648.5 328.1)" />
<ellipse class="bk" cx="645.1" cy="330.4" rx="1.7" ry="1.3" transform="rotate(147 645.1 330.4)" />
<ellipse class="bk" cx="652.5" cy="325.1" rx="1.7" ry="1.6" transform="rotate(118 652.5 325.1)" />
<ellipse class="bk" cx="650.1" cy="336.6" rx="1.8" ry="2.3" transform="rotate(44 650.1 336.6)" />
<ellipse class="bk" cx="654.7" cy="327.1" rx="1.7" ry="1.0" transform="rotate(38 654.7 327.1)" />
<ellipse class="lg" cx="643.7" cy="318.0" rx="1.5" ry="2.3" transform="rotate(150 643.7 318.0)" style="stroke-width:1.5;fill:none"/>
<ellipse class="bk" cx="646.2" cy="311.4" rx="1.5" ry="1.3" transform="rotate(86 646.2 311.4)" />
<ellipse class="bk" cx="644.4" cy="306.1" rx="1.8" ry="1.8" transform="rotate(101 644.4 306.1)" />
<ellipse class="bk" cx="647.5" cy="326.0" rx="1.7" ry="2.8" transform="rotate(88 647.5 326.0)" />
<ellipse class="bk" cx="654.6" cy="312.8" rx="1.3" ry="2.7" transform="rotate(49 654.6 312.8)" />
<ellipse class="bk" cx="648.5" cy="328.9" rx="1.3" ry="1.2" transform="rotate(160 648.5 328.9)" />
<ellipse class="bk" cx="650.0" cy="319.6" rx="1.7" ry="1.3" transform="rotate(46 650.0 319.6)" />
<ellipse class="bk" cx="643.9" cy="303.9" rx="1.0" ry="0.9" transform="rotate(172 643.9 303.9)" />
<ellipse class="bk" cx="651.8" cy="317.1" rx="1.2" ry="1.8" transform="rotate(146 651.8 317.1)" />
<ellipse class="bk" cx="645.0" cy="300.3" rx="1.5" ry="1.0" transform="rotate(57 645.0 300.3)" />
<ellipse class="bk" cx="644.6" cy="329.3" rx="1.2" ry="2.4" transform="rotate(82 644.6 329.3)" />
<ellipse class="bk" cx="642.2" cy="316.7" rx="1.3" ry="2.8" transform="rotate(115 642.2 316.7)" />
<ellipse class="bk" cx="644.0" cy="331.8" rx="1.0" ry="0.9" transform="rotate(96 644.0 331.8)" />
<ellipse class="bk" cx="654.3" cy="305.3" rx="1.6" ry="0.8" transform="rotate(22 654.3 305.3)" />
<ellipse class="bk" cx="642.5" cy="325.5" rx="2.1" ry="1.2" transform="rotate(41 642.5 325.5)" />
<ellipse class="bk" cx="646.9" cy="320.1" rx="1.7" ry="1.4" transform="rotate(124 646.9 320.1)" />
<ellipse class="bk" cx="643.9" cy="314.9" rx="1.1" ry="1.4" transform="rotate(138 643.9 314.9)" />
<ellipse class="bk" cx="643.0" cy="332.0" rx="2.1" ry="1.2" transform="rotate(69 643.0 332.0)" />
<ellipse class="bk" cx="644.7" cy="307.6" rx="1.0" ry="1.8" transform="rotate(48 644.7 307.6)" />
<ellipse class="bk" cx="641.7" cy="332.0" rx="1.9" ry="1.6" transform="rotate(32 641.7 332.0)" />
<ellipse class="bk" cx="648.7" cy="335.5" rx="1.5" ry="1.0" transform="rotate(105 648.7 335.5)" />
<ellipse class="bk" cx="644.4" cy="315.7" rx="2.0" ry="1.6" transform="rotate(6 644.4 315.7)" />
<ellipse class="bk" cx="649.4" cy="304.7" rx="0.9" ry="1.1" transform="rotate(144 649.4 304.7)" />
<ellipse class="bk" cx="651.1" cy="307.9" rx="1.0" ry="1.5" transform="rotate(176 651.1 307.9)" />
<ellipse class="bk" cx="652.5" cy="325.8" rx="0.9" ry="1.6" transform="rotate(12 652.5 325.8)" />
<ellipse class="bk" cx="649.3" cy="345.7" rx="1.4" ry="2.0" transform="rotate(159 649.3 345.7)" />
<ellipse class="bk" cx="650.5" cy="343.4" rx="0.7" ry="0.5" transform="rotate(92 650.5 343.4)" />
<ellipse class="bk" cx="653.9" cy="345.1" rx="1.0" ry="1.3" transform="rotate(25 653.9 345.1)" />
<ellipse class="bk" cx="637.0" cy="358.9" rx="1.3" ry="1.0" transform="rotate(56 637.0 358.9)" />
<ellipse class="bk" cx="651.5" cy="356.0" rx="1.6" ry="1.7" transform="rotate(10 651.5 356.0)" />
<ellipse class="bk" cx="639.3" cy="363.4" rx="1.0" ry="1.1" transform="rotate(52 639.3 363.4)" />
<ellipse class="bk" cx="651.6" cy="360.4" rx="1.4" ry="1.7" transform="rotate(14 651.6 360.4)" />
<ellipse class="lg" cx="652.1" cy="345.1" rx="1.6" ry="3.4" transform="rotate(24 652.1 345.1)" style="stroke-width:1.6;fill:#e0e0e0"/>
<ellipse class="bk" cx="638.3" cy="340.7" rx="1.5" ry="2.3" transform="rotate(32 638.3 340.7)" />
<ellipse class="bk" cx="642.3" cy="391.5" rx="1.9" ry="1.1" transform="rotate(8 642.3 391.5)" />
<ellipse class="lg" cx="651.3" cy="391.6" rx="2.4" ry="1.9" transform="rotate(55 651.3 391.6)" style="stroke-width:1.2;fill:#e0e0e0"/>
<ellipse class="bk" cx="634.7" cy="372.1" rx="1.3" ry="1.6" transform="rotate(2 634.7 372.1)" />
<ellipse class="bk" cx="645.0" cy="380.3" rx="1.3" ry="1.2" transform="rotate(38 645.0 380.3)" />
<ellipse class="bk" cx="650.2" cy="379.9" rx="2.0" ry="2.4" transform="rotate(166 650.2 379.9)" />
<ellipse class="bk" cx="635.9" cy="390.9" rx="2.0" ry="1.5" transform="rotate(106 635.9 390.9)" />
<ellipse class="bk" cx="638.0" cy="371.9" rx="1.3" ry="0.9" transform="rotate(109 638.0 371.9)" />
<ellipse class="bk" cx="636.8" cy="364.2" rx="2.0" ry="1.7" transform="rotate(174 636.8 364.2)" />
<ellipse class="bk" cx="634.6" cy="367.8" rx="1.7" ry="1.7" transform="rotate(12 634.6 367.8)" />
<ellipse class="bk" cx="651.7" cy="384.0" rx="1.0" ry="1.8" transform="rotate(65 651.7 384.0)" />
<ellipse class="bk" cx="644.8" cy="390.0" rx="1.3" ry="2.8" transform="rotate(154 644.8 390.0)" />
<ellipse class="bk" cx="651.5" cy="377.9" rx="1.6" ry="0.6" transform="rotate(119 651.5 377.9)" />
<ellipse class="bk" cx="634.1" cy="373.5" rx="2.0" ry="1.1" transform="rotate(38 634.1 373.5)" />
<ellipse class="bk" cx="653.0" cy="370.1" rx="1.1" ry="1.2" transform="rotate(153 653.0 370.1)" />
<ellipse class="bk" cx="638.6" cy="377.1" rx="1.8" ry="2.4" transform="rotate(110 638.6 377.1)" />
<ellipse class="bk" cx="654.4" cy="378.7" rx="2.2" ry="1.6" transform="rotate(135 654.4 378.7)" />
<ellipse class="lg" cx="643.5" cy="386.1" rx="3.0" ry="2.8" transform="rotate(80 643.5 386.1)" style="stroke-width:1.4;fill:none"/>
<ellipse class="bk" cx="641.2" cy="387.7" rx="1.8" ry="2.2" transform="rotate(171 641.2 387.7)" />
<ellipse class="lg" cx="654.1" cy="382.0" rx="3.0" ry="1.7" transform="rotate(17 654.1 382.0)" style="stroke-width:1.3;fill:#d0d0d0"/>
<ellipse class="bk" cx="638.5" cy="389.1" rx="1.3" ry="1.3" transform="rotate(78 638.5 389.1)" />
<ellipse class="bk" cx="648.7" cy="383.9" rx="1.4" ry="2.2" transform="rotate(120 648.7 383.9)" />
<ellipse class="bk" cx="635.2" cy="366.7" rx="1.6" ry="1.7" transform="rotate(136 635.2 366.7)" />
<ellipse class="bk" cx="638.9" cy="383.7" rx="1.4" ry="1.3" transform="rotate(137 638.9 383.7)" />
<ellipse class="bk" cx="653.6" cy="375.1" rx="1.7" ry="1.4" transform="rotate(107 653.6 375.1)" />
<ellipse class="bk" cx="645.5" cy="384.5" rx="1.9" ry="1.3" transform="rotate(156 645.5 384.5)" />
<ellipse class="bk" cx="648.6" cy="364.0" rx="2.1" ry="2.6" transform="rotate(114 648.6 364.0)" />
<ellipse class="lg" cx="652.1" cy="370.3" rx="2.3" ry="2.0" transform="rotate(150 652.1 370.3)" style="stroke-width:1.3;fill:none"/>
<ellipse class="bk" cx="649.7" cy="386.3" rx="2.2" ry="1.6" transform="rotate(100 649.7 386.3)" />
<ellipse class="bk" cx="649.3" cy="381.4" rx="1.0" ry="0.9" transform="rotate(109 649.3 381.4)" />
<ellipse class="lg" cx="640.2" cy="373.9" rx="2.9" ry="3.5" transform="rotate(162 640.2 373.9)" style="stroke-width:1.5;fill:none"/>
<ellipse class="bk" cx="634.9" cy="375.1" rx="1.8" ry="1.9" transform="rotate(13 634.9 375.1)" />
<ellipse class="bk" cx="643.3" cy="365.4" rx="1.3" ry="1.3" transform="rotate(109 643.3 365.4)" />
<ellipse class="bk" cx="639.4" cy="390.4" rx="1.0" ry="1.6" transform="rotate(40 639.4 390.4)" />
<ellipse class="bk" cx="649.5" cy="381.9" rx="1.1" ry="1.9" transform="rotate(76 649.5 381.9)" />
<ellipse class="bk" cx="649.0" cy="377.0" rx="1.5" ry="0.9" transform="rotate(176 649.0 377.0)" />
<ellipse class="bk" cx="646.3" cy="389.4" rx="2.0" ry="1.6" transform="rotate(12 646.3 389.4)" />
<ellipse class="bk" cx="638.4" cy="384.7" rx="2.0" ry="1.6" transform="rotate(63 638.4 384.7)" />
<ellipse class="lg" cx="638.5" cy="371.1" rx="3.1" ry="4.6" transform="rotate(169 638.5 371.1)" style="stroke-width:1.4;fill:#e0e0e0"/>
<ellipse class="bk" cx="654.1" cy="376.1" rx="2.2" ry="1.1" transform="rotate(43 654.1 376.1)" />
<ellipse class="bk" cx="652.9" cy="364.5" rx="1.9" ry="1.3" transform="rotate(105 652.9 364.5)" />
<ellipse class="bk" cx="646.7" cy="372.1" rx="1.9" ry="1.5" transform="rotate(117 646.7 372.1)" />
<ellipse class="lg" cx="635.5" cy="385.3" rx="1.4" ry="1.6" transform="rotate(117 635.5 385.3)" style="stroke-width:1.6;fill:none"/>
<ellipse class="bk" cx="641.3" cy="368.0" rx="2.2" ry="2.5" transform="rotate(97 641.3 368.0)" />
<ellipse class="bk" cx="634.0" cy="385.4" rx="1.8" ry="2.6" transform="rotate(90 634.0 385.4)" />
<ellipse class="bk" cx="648.8" cy="388.2" rx="2.2" ry="0.8" transform="rotate(153 648.8 388.2)" />
<ellipse class="bk" cx="638.1" cy="376.6" rx="1.0" ry="3.0" transform="rotate(167 638.1 376.6)" />
<ellipse class="bk" cx="640.2" cy="381.8" rx="2.2" ry="3.6" transform="rotate(147 640.2 381.8)" />
<ellipse class="bk" cx="644.3" cy="386.8" rx="1.4" ry="3.3" transform="rotate(139 644.3 386.8)" />
<ellipse class="bk" cx="634.1" cy="376.9" rx="1.2" ry="1.4" transform="rotate(109 634.1 376.9)" />
<ellipse class="bk" cx="651.3" cy="370.6" rx="1.2" ry="2.0" transform="rotate(64 651.3 370.6)" />
<ellipse class="bk" cx="640.6" cy="374.8" rx="1.9" ry="0.9" transform="rotate(59 640.6 374.8)" />
<ellipse class="bk" cx="639.3" cy="389.4" rx="2.3" ry="2.4" transform="rotate(110 639.3 389.4)" />
<ellipse class="bk" cx="648.4" cy="387.9" rx="2.2" ry="3.1" transform="rotate(179 648.4 387.9)" />
<ellipse class="bk" cx="645.9" cy="378.2" rx="2.0" ry="2.6" transform="rotate(151 645.9 378.2)" />
<ellipse class="bk" cx="649.3" cy="372.5" rx="1.5" ry="1.7" transform="rotate(78 649.3 372.5)" />
<ellipse class="bk" cx="638.9" cy="366.4" rx="1.8" ry="1.2" transform="rotate(46 638.9 366.4)" />
<ellipse class="bk" cx="649.1" cy="388.5" rx="2.0" ry="2.1" transform="rotate(136 649.1 388.5)" />
<ellipse class="bk" cx="643.9" cy="382.0" rx="1.3" ry="2.0" transform="rotate(40 643.9 382.0)" />
<ellipse class="bk" cx="643.7" cy="369.9" rx="1.4" ry="1.9" transform="rotate(30 643.7 369.9)" />
<ellipse class="bk" cx="640.0" cy="378.7" rx="1.4" ry="1.3" transform="rotate(148 640.0 378.7)" />
<ellipse class="lg" cx="651.0" cy="380.1" rx="1.7" ry="4.0" transform="rotate(57 651.0 380.1)" style="stroke-width:1.8;fill:#e0e0e0"/>
<ellipse class="bk" cx="636.3" cy="368.1" rx="1.6" ry="1.5" transform="rotate(78 636.3 368.1)" />
<ellipse class="bk" cx="647.2" cy="376.0" rx="0.9" ry="1.6" transform="rotate(11 647.2 376.0)" />
<ellipse class="bk" cx="644.2" cy="385.5" rx="2.1" ry="1.8" transform="rotate(89 644.2 385.5)" />
<ellipse class="bk" cx="651.2" cy="368.8" rx="1.3" ry="1.4" transform="rotate(180 651.2 368.8)" />
<ellipse class="bk" cx="651.0" cy="366.5" rx="1.7" ry="1.9" transform="rotate(121 651.0 366.5)" />
<ellipse class="bk" cx="650.3" cy="381.4" rx="1.1" ry="0.9" transform="rotate(122 650.3 381.4)" />
<ellipse class="lg" cx="639.2" cy="367.3" rx="1.8" ry="1.1" transform="rotate(108 639.2 367.3)" style="stroke-width:1.4;fill:#d0d0d0"/>
<ellipse class="bk" cx="644.7" cy="376.6" rx="2.2" ry="2.6" transform="rotate(157 644.7 376.6)" />
<ellipse class="bk" cx="650.0" cy="366.4" rx="1.9" ry="1.8" transform="rotate(46 650.0 366.4)" />
<path class="lg" d="M644.4,273.4 L657.0,273.0 L657.0,287.5 L646.0,287.3 L644.8,281.0" style="stroke-width:2.2"/>
<path class="lg" d="M638.6,309.0 L645.0,306.0 L657.0,306.0 L657.0,315.0 L648.0,314.5 L641.0,312.5" style="stroke-width:2.2"/>
<path class="lg" d="M648.5,318.0 L653.5,317.5 L654.0,329.0 L649.5,330.5 L647.5,325.0" style="stroke-width:2.2"/>
<ellipse class="bk" cx="651.0" cy="252.5" rx="4.5" ry="5.2" />
<ellipse class="bk" cx="644.7" cy="279.0" rx="2.0" ry="4.5" />
<ellipse class="bk" cx="641.0" cy="353.0" rx="2.2" ry="3.6" transform="rotate(-35 641.0 353.0)" />
<ellipse class="bk" cx="638.5" cy="348.0" rx="1.4" ry="2.4" transform="rotate(-35 638.5 348.0)" />
<ellipse class="bk" cx="637.8" cy="415.4" rx="0.6" ry="1.1" transform="rotate(63 637.8 415.4)" />
<ellipse class="bk" cx="642.3" cy="415.3" rx="0.9" ry="1.2" transform="rotate(145 642.3 415.3)" />
<ellipse class="bk" cx="644.2" cy="440.5" rx="0.9" ry="1.8" transform="rotate(37 644.2 440.5)" />
<ellipse class="lg" cx="641.4" cy="423.8" rx="1.5" ry="1.5" transform="rotate(17 641.4 423.8)" style="stroke-width:1.6;fill:none"/>
<ellipse class="bk" cx="644.1" cy="467.2" rx="0.9" ry="0.8" transform="rotate(112 644.1 467.2)" />
<ellipse class="bk" cx="638.2" cy="408.7" rx="1.4" ry="1.5" transform="rotate(158 638.2 408.7)" />
<ellipse class="bk" cx="643.4" cy="428.9" rx="1.6" ry="1.0" transform="rotate(157 643.4 428.9)" />
<ellipse class="lg" cx="645.0" cy="434.8" rx="2.1" ry="1.3" transform="rotate(62 645.0 434.8)" style="stroke-width:1.6;fill:none"/>
<ellipse class="bk" cx="639.4" cy="437.3" rx="0.6" ry="0.6" transform="rotate(85 639.4 437.3)" />
<ellipse class="lg" cx="644.6" cy="454.7" rx="1.8" ry="1.9" transform="rotate(27 644.6 454.7)" style="stroke-width:1.2;fill:#e0e0e0"/>
<ellipse class="bk" cx="636.2" cy="466.8" rx="1.2" ry="1.7" transform="rotate(135 636.2 466.8)" />
<ellipse class="bk" cx="639.9" cy="419.1" rx="1.0" ry="1.7" transform="rotate(120 639.9 419.1)" />
<ellipse class="bk" cx="642.9" cy="409.9" rx="1.4" ry="1.7" transform="rotate(165 642.9 409.9)" />
<ellipse class="bk" cx="637.0" cy="451.1" rx="1.1" ry="2.4" transform="rotate(32 637.0 451.1)" />
<ellipse class="lg" cx="638.6" cy="434.1" rx="2.5" ry="1.7" transform="rotate(143 638.6 434.1)" style="stroke-width:1.2;fill:none"/>
<ellipse class="lg" cx="640.5" cy="445.8" rx="2.3" ry="3.4" transform="rotate(140 640.5 445.8)" style="stroke-width:1.6;fill:#d0d0d0"/>
<ellipse class="bk" cx="647.8" cy="440.0" rx="0.8" ry="0.6" transform="rotate(132 647.8 440.0)" />
<ellipse class="bk" cx="639.8" cy="404.5" rx="0.6" ry="1.9" transform="rotate(166 639.8 404.5)" />
<ellipse class="bk" cx="639.7" cy="439.5" rx="0.8" ry="1.2" transform="rotate(166 639.7 439.5)" />
<ellipse class="bk" cx="647.4" cy="425.9" rx="1.5" ry="0.9" transform="rotate(78 647.4 425.9)" />
<ellipse class="bk" cx="641.6" cy="450.2" rx="0.9" ry="0.5" transform="rotate(3 641.6 450.2)" />
<ellipse class="bk" cx="647.8" cy="431.0" rx="1.1" ry="1.8" transform="rotate(53 647.8 431.0)" />
<ellipse class="bk" cx="641.3" cy="412.7" rx="1.2" ry="1.0" transform="rotate(53 641.3 412.7)" />
<ellipse class="bk" cx="643.0" cy="432.6" rx="0.8" ry="1.9" transform="rotate(53 643.0 432.6)" />
<ellipse class="bk" cx="642.9" cy="417.9" rx="1.0" ry="1.8" transform="rotate(74 642.9 417.9)" />
<ellipse class="bk" cx="637.5" cy="408.5" rx="1.3" ry="1.0" transform="rotate(130 637.5 408.5)" />
<ellipse class="lg" cx="636.7" cy="407.5" rx="2.2" ry="1.8" transform="rotate(55 636.7 407.5)" style="stroke-width:1.4;fill:#e0e0e0"/>
<ellipse class="bk" cx="640.4" cy="438.9" rx="1.5" ry="1.0" transform="rotate(40 640.4 438.9)" />
<ellipse class="bk" cx="639.2" cy="418.3" rx="0.7" ry="2.4" transform="rotate(158 639.2 418.3)" />
<ellipse class="bk" cx="640.8" cy="466.1" rx="0.8" ry="1.1" transform="rotate(141 640.8 466.1)" />
<ellipse class="bk" cx="642.1" cy="408.7" rx="1.4" ry="1.5" transform="rotate(23 642.1 408.7)" />
<ellipse class="bk" cx="644.1" cy="406.9" rx="1.3" ry="2.0" transform="rotate(37 644.1 406.9)" />
<ellipse class="bk" cx="638.9" cy="415.2" rx="1.6" ry="0.6" transform="rotate(11 638.9 415.2)" />
<ellipse class="bk" cx="641.5" cy="445.3" rx="1.5" ry="0.4" transform="rotate(0 641.5 445.3)" />
<ellipse class="bk" cx="636.9" cy="453.6" rx="0.8" ry="2.3" transform="rotate(36 636.9 453.6)" />
<ellipse class="bk" cx="637.6" cy="409.1" rx="1.2" ry="0.6" transform="rotate(3 637.6 409.1)" />
<ellipse class="lg" cx="600.1" cy="387.4" rx="3.4" ry="2.0" transform="rotate(-35 600.1 387.4)" style="stroke-width:1.8;fill:#fff"/>
<path class="ln" d="M605.5,390.5 L608.0,388.0 L611.0,385.4 L616.6,382.4 L621.4,385.5 L623.6,391.0 L625.3,397.9 L624.8,406.0 L623.6,413.5 L621.9,419.5" stroke-width="5.2"/>
<path class="ln" d="M611.0,385.4 L616.6,382.4 L621.4,385.5 L623.6,391.0 L625.3,397.9 L624.8,406.0 L623.6,413.5" stroke-width="1.6" style="stroke:#e8e8e8"/>
<ellipse class="bk" cx="622.9" cy="395.5" rx="1.4" ry="1.4" transform="rotate(169 622.9 395.5)" />
<ellipse class="bk" cx="610.4" cy="385.8" rx="1.1" ry="1.1" transform="rotate(133 610.4 385.8)" />
<ellipse class="bk" cx="623.7" cy="415.6" rx="0.9" ry="1.1" transform="rotate(39 623.7 415.6)" />
<ellipse class="bk" cx="624.1" cy="391.2" rx="1.0" ry="1.7" transform="rotate(126 624.1 391.2)" />
<ellipse class="bk" cx="610.9" cy="386.7" rx="1.2" ry="1.6" transform="rotate(124 610.9 386.7)" />
<ellipse class="bk" cx="622.5" cy="389.6" rx="1.6" ry="1.5" transform="rotate(16 622.5 389.6)" />
<ellipse class="bk" cx="606.0" cy="388.4" rx="1.6" ry="1.4" transform="rotate(25 606.0 388.4)" />
<ellipse class="bk" cx="623.0" cy="388.6" rx="1.1" ry="1.5" transform="rotate(51 623.0 388.6)" />
<ellipse class="bk" cx="621.5" cy="419.2" rx="1.6" ry="1.2" transform="rotate(162 621.5 419.2)" />
<ellipse class="bk" cx="624.9" cy="394.4" rx="1.1" ry="1.3" transform="rotate(147 624.9 394.4)" />
<ellipse class="bk" cx="613.3" cy="386.8" rx="0.9" ry="1.4" transform="rotate(43 613.3 386.8)" />
<ellipse class="bk" cx="611.5" cy="385.7" rx="1.2" ry="1.5" transform="rotate(110 611.5 385.7)" />
<ellipse class="bk" cx="625.5" cy="414.2" rx="0.9" ry="1.6" transform="rotate(27 625.5 414.2)" />
<ellipse class="bk" cx="620.3" cy="387.2" rx="1.0" ry="1.6" transform="rotate(99 620.3 387.2)" />
<ellipse class="bk" cx="626.3" cy="397.9" rx="1.0" ry="1.5" transform="rotate(114 626.3 397.9)" />
<ellipse class="bk" cx="621.2" cy="387.0" rx="1.2" ry="1.5" transform="rotate(54 621.2 387.0)" />
<path class="ln" d="M609.5,410.5 L604.0,412.5 L600.2,417.0 L600.4,422.0 L603.4,426.4 L607.5,428.6" stroke-width="4.6"/>
<ellipse class="bk" cx="604.7" cy="416.2" rx="1.1" ry="1.4" transform="rotate(8 604.7 416.2)" />
<ellipse class="bk" cx="600.7" cy="429.0" rx="1.7" ry="1.3" transform="rotate(145 600.7 429.0)" />
<ellipse class="bk" cx="608.3" cy="409.2" rx="1.8" ry="1.9" transform="rotate(10 608.3 409.2)" />
<ellipse class="bk" cx="599.9" cy="423.4" rx="1.1" ry="1.9" transform="rotate(35 599.9 423.4)" />
<ellipse class="bk" cx="603.6" cy="429.9" rx="1.3" ry="0.6" transform="rotate(38 603.6 429.9)" />
<ellipse class="bk" cx="603.3" cy="418.4" rx="0.8" ry="1.4" transform="rotate(108 603.3 418.4)" />
<ellipse class="bk" cx="603.6" cy="427.7" rx="1.4" ry="1.1" transform="rotate(176 603.6 427.7)" />
<ellipse class="bk" cx="603.7" cy="428.6" rx="1.3" ry="2.2" transform="rotate(10 603.7 428.6)" />
<ellipse class="bk" cx="599.8" cy="416.2" rx="1.7" ry="1.6" transform="rotate(0 599.8 416.2)" />
<ellipse class="bk" cx="608.5" cy="411.1" rx="1.5" ry="1.4" transform="rotate(60 608.5 411.1)" />
<ellipse class="bk" cx="604.1" cy="426.4" rx="1.7" ry="2.1" transform="rotate(69 604.1 426.4)" />
<ellipse class="bk" cx="602.0" cy="414.1" rx="1.4" ry="0.8" transform="rotate(160 602.0 414.1)" />
<ellipse class="bk" cx="610.5" cy="412.8" rx="1.6" ry="0.7" transform="rotate(28 610.5 412.8)" />
<ellipse class="bk" cx="605.4" cy="429.4" rx="1.4" ry="1.2" transform="rotate(60 605.4 429.4)" />
<ellipse class="bk" cx="603.6" cy="418.4" rx="1.3" ry="1.1" transform="rotate(116 603.6 418.4)" />
<ellipse class="bk" cx="602.4" cy="413.5" rx="1.1" ry="1.6" transform="rotate(33 602.4 413.5)" />
<ellipse class="lg" cx="602.4" cy="448.9" rx="1.4" ry="1.1" transform="rotate(146 602.4 448.9)" style="stroke-width:1.6;fill:#e0e0e0"/>
<ellipse class="bk" cx="609.4" cy="439.6" rx="0.9" ry="2.3" transform="rotate(28 609.4 439.6)" />
<ellipse class="bk" cx="606.0" cy="444.5" rx="1.2" ry="1.5" transform="rotate(86 606.0 444.5)" />
<ellipse class="lg" cx="604.9" cy="436.8" rx="2.0" ry="1.3" transform="rotate(46 604.9 436.8)" style="stroke-width:1.8;fill:#d0d0d0"/>
<ellipse class="bk" cx="603.5" cy="444.0" rx="0.8" ry="2.4" transform="rotate(104 603.5 444.0)" />
<ellipse class="lg" cx="606.6" cy="443.0" rx="2.3" ry="3.3" transform="rotate(89 606.6 443.0)" style="stroke-width:1.8;fill:none"/>
<ellipse class="bk" cx="610.9" cy="438.3" rx="1.0" ry="0.9" transform="rotate(147 610.9 438.3)" />
<ellipse class="bk" cx="609.4" cy="436.6" rx="1.6" ry="1.4" transform="rotate(43 609.4 436.6)" />
<ellipse class="bk" cx="604.6" cy="443.1" rx="0.9" ry="0.6" transform="rotate(134 604.6 443.1)" />
<ellipse class="bk" cx="604.9" cy="436.5" rx="1.6" ry="0.7" transform="rotate(88 604.9 436.5)" />
<ellipse class="bk" cx="606.2" cy="448.0" rx="1.0" ry="1.1" transform="rotate(44 606.2 448.0)" />
<ellipse class="bk" cx="602.1" cy="441.1" rx="0.9" ry="1.0" transform="rotate(115 602.1 441.1)" />
<ellipse class="bk" cx="602.1" cy="440.1" rx="1.2" ry="0.8" transform="rotate(138 602.1 440.1)" />
<ellipse class="bk" cx="610.4" cy="436.8" rx="1.8" ry="0.8" transform="rotate(113 610.4 436.8)" />
<ellipse class="bk" cx="607.6" cy="444.3" rx="1.7" ry="0.7" transform="rotate(83 607.6 444.3)" />
<ellipse class="bk" cx="603.0" cy="439.8" rx="1.6" ry="1.3" transform="rotate(32 603.0 439.8)" />
<ellipse class="lg" cx="607.4" cy="440.0" rx="2.2" ry="1.9" transform="rotate(99 607.4 440.0)" style="stroke-width:1.4;fill:#d0d0d0"/>
<ellipse class="bk" cx="607.4" cy="445.5" rx="1.3" ry="0.6" transform="rotate(32 607.4 445.5)" />
<ellipse class="lg" cx="609.2" cy="440.6" rx="2.4" ry="1.7" transform="rotate(159 609.2 440.6)" style="stroke-width:1.4;fill:none"/>
<ellipse class="bk" cx="608.9" cy="446.1" rx="1.4" ry="1.3" transform="rotate(109 608.9 446.1)" />
<ellipse class="bk" cx="627.9" cy="442.1" rx="1.6" ry="1.3" transform="rotate(47 627.9 442.1)" />
<ellipse class="bk" cx="628.7" cy="441.3" rx="1.7" ry="1.9" transform="rotate(7 628.7 441.3)" />
<ellipse class="bk" cx="625.5" cy="444.6" rx="1.5" ry="1.5" transform="rotate(52 625.5 444.6)" />
<ellipse class="bk" cx="624.4" cy="444.7" rx="0.9" ry="0.9" transform="rotate(170 624.4 444.7)" />
<ellipse class="bk" cx="624.9" cy="440.3" rx="1.5" ry="1.5" transform="rotate(138 624.9 440.3)" />
<ellipse class="bk" cx="620.5" cy="440.1" rx="1.1" ry="1.2" transform="rotate(16 620.5 440.1)" />
<ellipse class="bk" cx="622.6" cy="439.2" rx="1.1" ry="1.0" transform="rotate(47 622.6 439.2)" />
<ellipse class="bk" cx="622.3" cy="437.3" rx="1.5" ry="0.9" transform="rotate(170 622.3 437.3)" />
<ellipse class="bk" cx="623.7" cy="439.3" rx="1.1" ry="1.5" transform="rotate(124 623.7 439.3)" />
<ellipse class="bk" cx="624.7" cy="440.8" rx="1.9" ry="1.2" transform="rotate(26 624.7 440.8)" />
<ellipse class="bk" cx="626.9" cy="440.9" rx="1.0" ry="2.7" transform="rotate(40 626.9 440.9)" />
<ellipse class="bk" cx="619.2" cy="444.2" rx="1.8" ry="2.3" transform="rotate(82 619.2 444.2)" />
<ellipse class="bk" cx="627.1" cy="443.9" rx="0.9" ry="2.0" transform="rotate(34 627.1 443.9)" />
<ellipse class="bk" cx="626.7" cy="438.9" rx="0.8" ry="1.9" transform="rotate(165 626.7 438.9)" />
<ellipse class="bk" cx="617.0" cy="441.1" rx="1.5" ry="1.8" transform="rotate(94 617.0 441.1)" />
<ellipse class="bk" cx="626.0" cy="440.3" rx="1.4" ry="1.8" transform="rotate(138 626.0 440.3)" />
<ellipse class="bk" cx="622.3" cy="438.2" rx="0.9" ry="2.2" transform="rotate(97 622.3 438.2)" />
<ellipse class="bk" cx="626.6" cy="439.4" rx="1.4" ry="1.2" transform="rotate(56 626.6 439.4)" />
<ellipse class="bk" cx="627.6" cy="419.8" rx="0.9" ry="0.8" transform="rotate(58 627.6 419.8)" />
<ellipse class="lg" cx="625.5" cy="422.8" rx="2.1" ry="1.8" transform="rotate(159 625.5 422.8)" style="stroke-width:1.2;fill:none"/>
<ellipse class="bk" cx="627.1" cy="421.6" rx="1.5" ry="1.2" transform="rotate(172 627.1 421.6)" />
<ellipse class="bk" cx="620.9" cy="429.8" rx="1.0" ry="1.0" transform="rotate(55 620.9 429.8)" />
<ellipse class="bk" cx="626.8" cy="417.0" rx="1.5" ry="1.9" transform="rotate(61 626.8 417.0)" />
<ellipse class="bk" cx="622.3" cy="427.7" rx="1.2" ry="1.0" transform="rotate(122 622.3 427.7)" />
<ellipse class="bk" cx="626.8" cy="426.2" rx="1.3" ry="0.8" transform="rotate(132 626.8 426.2)" />
<ellipse class="bk" cx="626.1" cy="420.7" rx="1.4" ry="0.9" transform="rotate(87 626.1 420.7)" />
<ellipse class="bk" cx="627.2" cy="429.8" rx="1.3" ry="1.2" transform="rotate(26 627.2 429.8)" />
<ellipse class="lg" cx="624.4" cy="419.4" rx="1.8" ry="1.5" transform="rotate(120 624.4 419.4)" style="stroke-width:1.3;fill:none"/>
<path class="lg" d="M612.5,465.5 L613.6,457.0 L618.4,451.0 L625.6,447.0 L628.4,449.0 L622.4,456.4 L616.4,463.0" style="stroke-width:2"/>
<ellipse class="lg" cx="607.9" cy="464.9" rx="2.6" ry="2.8" style="stroke-width:1.8;fill:#fff"/>
<ellipse class="bk" cx="606.1" cy="458.8" rx="1.5" ry="0.8" transform="rotate(9 606.1 458.8)" />
<ellipse class="bk" cx="613.5" cy="465.1" rx="0.9" ry="0.8" transform="rotate(150 613.5 465.1)" />
<ellipse class="bk" cx="608.9" cy="460.9" rx="0.9" ry="0.8" transform="rotate(23 608.9 460.9)" />
<ellipse class="bk" cx="608.9" cy="471.3" rx="1.1" ry="1.4" transform="rotate(155 608.9 471.3)" />
<ellipse class="bk" cx="604.1" cy="478.3" rx="1.5" ry="1.2" transform="rotate(169 604.1 478.3)" />
<ellipse class="bk" cx="611.1" cy="470.4" rx="1.3" ry="0.7" transform="rotate(6 611.1 470.4)" />
<ellipse class="bk" cx="603.0" cy="472.5" rx="1.4" ry="0.6" transform="rotate(32 603.0 472.5)" />
<ellipse class="bk" cx="614.0" cy="457.8" rx="1.0" ry="1.7" transform="rotate(5 614.0 457.8)" />
<ellipse class="bk" cx="613.2" cy="460.3" rx="1.4" ry="1.2" transform="rotate(24 613.2 460.3)" />
<ellipse class="bk" cx="610.2" cy="463.8" rx="0.8" ry="1.3" transform="rotate(66 610.2 463.8)" />
<ellipse class="lg" cx="604.0" cy="475.0" rx="1.2" ry="1.1" transform="rotate(71 604.0 475.0)" style="stroke-width:1.3;fill:#e0e0e0"/>
<ellipse class="bk" cx="610.2" cy="469.5" rx="0.7" ry="1.3" transform="rotate(123 610.2 469.5)" />
<ellipse class="bk" cx="617.9" cy="469.5" rx="1.2" ry="1.2" transform="rotate(113 617.9 469.5)" />
<ellipse class="bk" cx="616.9" cy="461.0" rx="1.3" ry="0.9" transform="rotate(3 616.9 461.0)" />
<ellipse class="bk" cx="610.2" cy="463.8" rx="1.3" ry="2.1" transform="rotate(34 610.2 463.8)" />
<ellipse class="bk" cx="608.9" cy="470.0" rx="1.4" ry="0.9" transform="rotate(150 608.9 470.0)" />
<ellipse class="bk" cx="595.9" cy="490.3" rx="3.3" ry="4.8" transform="rotate(25 595.9 490.3)" />
<ellipse class="bk" cx="594.0" cy="494.5" rx="2.0" ry="2.4" />
<ellipse class="bk" cx="591.4" cy="518.4" rx="1.4" ry="1.4" />
<ellipse class="bk" cx="590.9" cy="535.8" rx="1.0" ry="1.0" />
<path class="ln" d="M579.3,548.5 L579.6,553.0" stroke-width="2.4"/>
<path class="ln" d="M579.5,556.0 L579.7,560.0" stroke-width="2.0"/>
<ellipse class="bk" cx="574.8" cy="457.4" rx="1.0" ry="1.0" />
<ellipse class="bk" cx="583.0" cy="447.0" rx="1.0" ry="1.0" />
<ellipse class="bk" cx="582.0" cy="404.0" rx="1.1" ry="1.1" />
<ellipse class="bk" cx="583.5" cy="416.0" rx="1.1" ry="1.1" />
<ellipse class="bk" cx="581.0" cy="343.0" rx="1.0" ry="1.0" />
<path class="lg" d="M652.4,442.0 L655.0,444.4 L648.0,456.0 L642.4,468.4 L639.6,467.0 L645.0,454.0" style="stroke-width:1.7"/>
<ellipse class="bk" cx="643.0" cy="474.9" rx="0.7" ry="0.9" transform="rotate(61 643.0 474.9)" />
<ellipse class="bk" cx="645.8" cy="463.5" rx="0.8" ry="1.4" transform="rotate(27 645.8 463.5)" />
<ellipse class="lg" cx="636.4" cy="474.5" rx="2.5" ry="3.6" transform="rotate(88 636.4 474.5)" style="stroke-width:1.6;fill:#e0e0e0"/>
<ellipse class="bk" cx="643.9" cy="494.7" rx="1.0" ry="0.5" transform="rotate(56 643.9 494.7)" />
<ellipse class="bk" cx="640.2" cy="462.5" rx="1.2" ry="1.1" transform="rotate(7 640.2 462.5)" />
<ellipse class="bk" cx="644.4" cy="491.3" rx="1.0" ry="2.3" transform="rotate(162 644.4 491.3)" />
<ellipse class="bk" cx="639.4" cy="477.0" rx="1.4" ry="1.1" transform="rotate(3 639.4 477.0)" />
<ellipse class="lg" cx="638.2" cy="494.6" rx="2.3" ry="1.3" transform="rotate(133 638.2 494.6)" style="stroke-width:1.7;fill:#d0d0d0"/>
<ellipse class="bk" cx="638.7" cy="496.8" rx="1.3" ry="1.3" transform="rotate(107 638.7 496.8)" />
<ellipse class="bk" cx="641.5" cy="477.5" rx="1.5" ry="0.9" transform="rotate(137 641.5 477.5)" />
<ellipse class="bk" cx="638.1" cy="487.6" rx="0.7" ry="0.7" transform="rotate(17 638.1 487.6)" />
<ellipse class="bk" cx="640.1" cy="485.1" rx="1.5" ry="0.5" transform="rotate(108 640.1 485.1)" />
<ellipse class="bk" cx="640.3" cy="491.7" rx="1.1" ry="1.4" transform="rotate(15 640.3 491.7)" />
<ellipse class="bk" cx="644.9" cy="484.0" rx="1.0" ry="0.9" transform="rotate(136 644.9 484.0)" />
<ellipse class="bk" cx="638.3" cy="484.0" rx="1.4" ry="1.2" transform="rotate(72 638.3 484.0)" />
<ellipse class="bk" cx="644.3" cy="496.7" rx="1.0" ry="1.1" transform="rotate(162 644.3 496.7)" />
<ellipse class="bk" cx="630.7" cy="510.8" rx="1.1" ry="1.1" transform="rotate(128 630.7 510.8)" />
<ellipse class="bk" cx="626.1" cy="527.4" rx="1.2" ry="1.0" transform="rotate(120 626.1 527.4)" />
<ellipse class="lg" cx="625.9" cy="522.6" rx="2.4" ry="1.8" transform="rotate(129 625.9 522.6)" style="stroke-width:1.3;fill:#e0e0e0"/>
<ellipse class="bk" cx="626.9" cy="523.6" rx="0.9" ry="1.8" transform="rotate(33 626.9 523.6)" />
<ellipse class="bk" cx="624.9" cy="505.2" rx="1.8" ry="1.7" transform="rotate(110 624.9 505.2)" />
<ellipse class="bk" cx="628.4" cy="511.9" rx="1.5" ry="1.7" transform="rotate(49 628.4 511.9)" />
<ellipse class="bk" cx="628.7" cy="519.7" rx="1.4" ry="2.1" transform="rotate(168 628.7 519.7)" />
<ellipse class="bk" cx="624.6" cy="516.0" rx="1.6" ry="0.6" transform="rotate(49 624.6 516.0)" />
<ellipse class="bk" cx="626.8" cy="523.0" rx="1.5" ry="1.6" transform="rotate(0 626.8 523.0)" />
<ellipse class="bk" cx="626.8" cy="511.6" rx="1.2" ry="1.7" transform="rotate(154 626.8 511.6)" />
<ellipse class="bk" cx="626.1" cy="512.7" rx="1.2" ry="1.5" transform="rotate(173 626.1 512.7)" />
<ellipse class="lg" cx="624.1" cy="524.9" rx="3.1" ry="2.0" transform="rotate(14 624.1 524.9)" style="stroke-width:1.3;fill:#d0d0d0"/>
<ellipse class="bk" cx="630.3" cy="507.5" rx="0.9" ry="2.7" transform="rotate(58 630.3 507.5)" />
<ellipse class="bk" cx="630.1" cy="525.5" rx="1.1" ry="0.6" transform="rotate(106 630.1 525.5)" />
<ellipse class="lg" cx="625.2" cy="508.8" rx="1.6" ry="1.4" transform="rotate(94 625.2 508.8)" style="stroke-width:1.7;fill:none"/>
<ellipse class="bk" cx="627.6" cy="505.3" rx="1.2" ry="1.7" transform="rotate(42 627.6 505.3)" />
<ellipse class="bk" cx="626.8" cy="505.7" rx="1.8" ry="1.7" transform="rotate(175 626.8 505.7)" />
<ellipse class="bk" cx="631.6" cy="506.3" rx="1.8" ry="2.1" transform="rotate(78 631.6 506.3)" />
<ellipse class="bk" cx="627.2" cy="507.9" rx="1.2" ry="1.2" transform="rotate(166 627.2 507.9)" />
<ellipse class="bk" cx="632.5" cy="511.5" rx="0.9" ry="1.6" transform="rotate(25 632.5 511.5)" />
<ellipse class="bk" cx="628.8" cy="512.1" rx="1.9" ry="1.5" transform="rotate(180 628.8 512.1)" />
<ellipse class="bk" cx="628.9" cy="521.2" rx="1.6" ry="1.4" transform="rotate(83 628.9 521.2)" />
<ellipse class="bk" cx="630.3" cy="510.7" rx="1.1" ry="0.9" transform="rotate(17 630.3 510.7)" />
<ellipse class="bk" cx="632.4" cy="528.2" rx="1.8" ry="1.4" transform="rotate(15 632.4 528.2)" />
<ellipse class="bk" cx="629.0" cy="512.3" rx="1.8" ry="2.0" transform="rotate(120 629.0 512.3)" />
<ellipse class="bk" cx="624.7" cy="516.3" rx="0.9" ry="1.4" transform="rotate(89 624.7 516.3)" />
<ellipse class="bk" cx="621.2" cy="547.3" rx="0.9" ry="1.1" transform="rotate(64 621.2 547.3)" />
<ellipse class="bk" cx="622.3" cy="555.8" rx="0.7" ry="1.6" transform="rotate(32 622.3 555.8)" />
<ellipse class="bk" cx="622.5" cy="557.3" rx="1.3" ry="0.7" transform="rotate(49 622.5 557.3)" />
<ellipse class="bk" cx="623.8" cy="554.6" rx="1.2" ry="0.8" transform="rotate(143 623.8 554.6)" />
<ellipse class="bk" cx="624.3" cy="555.6" rx="1.3" ry="0.7" transform="rotate(49 624.3 555.6)" />
<ellipse class="bk" cx="624.9" cy="549.0" rx="0.7" ry="1.9" transform="rotate(69 624.9 549.0)" />
<ellipse class="bk" cx="628.4" cy="483.8" rx="0.6" ry="0.7" transform="rotate(167 628.4 483.8)" />
<ellipse class="bk" cx="631.2" cy="480.5" rx="0.8" ry="0.6" transform="rotate(75 631.2 480.5)" />
<ellipse class="bk" cx="630.1" cy="488.4" rx="0.7" ry="1.0" transform="rotate(130 630.1 488.4)" />
<ellipse class="lg" cx="633.4" cy="488.0" rx="1.7" ry="2.3" transform="rotate(82 633.4 488.0)" style="stroke-width:1.4;fill:#e0e0e0"/>
<ellipse class="bk" cx="629.1" cy="490.1" rx="0.9" ry="0.7" transform="rotate(80 629.1 490.1)" />
<path class="lg" d="M637.0,569.0 L656.0,567.0 L656.0,594.8 L647.0,594.8 L641.0,598.0 L637.0,592.0 L638.0,580.0" style="fill:#eef6fc;stroke:none"/>
<ellipse class="bk" cx="650.8" cy="573.1" rx="1.2" ry="0.7" transform="rotate(79 650.8 573.1)" />
<ellipse class="bk" cx="637.4" cy="566.5" rx="2.1" ry="1.0" transform="rotate(66 637.4 566.5)" />
<ellipse class="bk" cx="640.7" cy="576.1" rx="1.4" ry="2.1" transform="rotate(11 640.7 576.1)" />
<ellipse class="lg" cx="641.2" cy="566.7" rx="2.3" ry="2.9" transform="rotate(116 641.2 566.7)" style="stroke-width:1.7;fill:#d0d0d0"/>
<ellipse class="bk" cx="639.3" cy="586.8" rx="1.1" ry="2.0" transform="rotate(29 639.3 586.8)" />
<ellipse class="bk" cx="646.0" cy="572.0" rx="1.7" ry="2.2" transform="rotate(16 646.0 572.0)" />
<ellipse class="bk" cx="642.3" cy="574.1" rx="1.2" ry="1.2" transform="rotate(155 642.3 574.1)" />
<ellipse class="bk" cx="641.4" cy="579.4" rx="1.5" ry="2.8" transform="rotate(56 641.4 579.4)" />
<ellipse class="bk" cx="649.5" cy="581.8" rx="1.5" ry="2.5" transform="rotate(25 649.5 581.8)" />
<ellipse class="bk" cx="645.8" cy="583.4" rx="1.4" ry="1.4" transform="rotate(137 645.8 583.4)" />
<ellipse class="bk" cx="643.4" cy="589.1" rx="1.8" ry="1.2" transform="rotate(15 643.4 589.1)" />
<ellipse class="bk" cx="639.3" cy="590.4" rx="1.2" ry="2.6" transform="rotate(97 639.3 590.4)" />
<ellipse class="bk" cx="647.6" cy="593.3" rx="2.1" ry="1.1" transform="rotate(69 647.6 593.3)" />
<ellipse class="bk" cx="652.1" cy="576.3" rx="1.4" ry="1.3" transform="rotate(168 652.1 576.3)" />
<ellipse class="bk" cx="645.5" cy="582.3" rx="1.5" ry="2.4" transform="rotate(129 645.5 582.3)" />
<ellipse class="bk" cx="653.4" cy="583.9" rx="1.8" ry="1.3" transform="rotate(108 653.4 583.9)" />
<ellipse class="bk" cx="645.6" cy="595.4" rx="0.9" ry="1.2" transform="rotate(124 645.6 595.4)" />
<ellipse class="bk" cx="646.4" cy="566.9" rx="1.2" ry="2.5" transform="rotate(141 646.4 566.9)" />
<ellipse class="bk" cx="640.6" cy="579.9" rx="2.0" ry="1.4" transform="rotate(147 640.6 579.9)" />
<ellipse class="bk" cx="641.8" cy="566.9" rx="1.2" ry="1.7" transform="rotate(98 641.8 566.9)" />
<ellipse class="lg" cx="650.9" cy="587.0" rx="2.5" ry="1.9" transform="rotate(113 650.9 587.0)" style="stroke-width:1.7;fill:none"/>
<ellipse class="bk" cx="636.4" cy="576.3" rx="0.9" ry="2.9" transform="rotate(111 636.4 576.3)" />
<ellipse class="bk" cx="649.5" cy="571.6" rx="1.8" ry="1.6" transform="rotate(60 649.5 571.6)" />
<ellipse class="bk" cx="643.2" cy="576.0" rx="1.4" ry="3.1" transform="rotate(115 643.2 576.0)" />
<ellipse class="bk" cx="650.4" cy="591.6" rx="2.1" ry="2.5" transform="rotate(92 650.4 591.6)" />
<ellipse class="bk" cx="654.6" cy="580.8" rx="1.6" ry="2.3" transform="rotate(168 654.6 580.8)" />
<ellipse class="bk" cx="642.3" cy="585.9" rx="1.9" ry="1.4" transform="rotate(154 642.3 585.9)" />
<ellipse class="bk" cx="640.4" cy="582.1" rx="1.9" ry="1.2" transform="rotate(149 640.4 582.1)" />
<ellipse class="bk" cx="651.0" cy="581.0" rx="1.1" ry="1.5" transform="rotate(129 651.0 581.0)" />
<ellipse class="bk" cx="654.0" cy="584.4" rx="2.1" ry="1.0" transform="rotate(34 654.0 584.4)" />
<ellipse class="bk" cx="636.4" cy="583.4" rx="1.6" ry="1.7" transform="rotate(123 636.4 583.4)" />
<ellipse class="bk" cx="637.5" cy="567.9" rx="2.1" ry="2.8" transform="rotate(61 637.5 567.9)" />
<ellipse class="bk" cx="651.0" cy="592.6" rx="1.3" ry="1.1" transform="rotate(167 651.0 592.6)" />
<ellipse class="bk" cx="636.2" cy="567.0" rx="1.3" ry="1.2" transform="rotate(136 636.2 567.0)" />
<ellipse class="bk" cx="652.2" cy="566.8" rx="1.5" ry="0.7" transform="rotate(136 652.2 566.8)" />
<ellipse class="bk" cx="652.1" cy="595.3" rx="1.4" ry="0.8" transform="rotate(5 652.1 595.3)" />
<ellipse class="lg" cx="642.7" cy="586.5" rx="2.4" ry="3.7" transform="rotate(79 642.7 586.5)" style="stroke-width:1.5;fill:#e0e0e0"/>
<ellipse class="bk" cx="649.3" cy="580.5" rx="0.8" ry="1.5" transform="rotate(176 649.3 580.5)" />
<ellipse class="bk" cx="640.6" cy="574.1" rx="1.9" ry="2.2" transform="rotate(104 640.6 574.1)" />
<ellipse class="bk" cx="636.8" cy="582.7" rx="1.2" ry="0.9" transform="rotate(46 636.8 582.7)" />
<ellipse class="bk" cx="642.8" cy="577.8" rx="1.3" ry="1.4" transform="rotate(99 642.8 577.8)" />
<ellipse class="bk" cx="654.2" cy="584.8" rx="1.4" ry="1.2" transform="rotate(156 654.2 584.8)" />
<ellipse class="bk" cx="650.2" cy="566.6" rx="1.5" ry="1.2" transform="rotate(109 650.2 566.6)" />
<ellipse class="bk" cx="642.6" cy="581.1" rx="1.7" ry="1.0" transform="rotate(176 642.6 581.1)" />
<ellipse class="bk" cx="649.4" cy="568.5" rx="1.0" ry="1.6" transform="rotate(81 649.4 568.5)" />
<ellipse class="bk" cx="638.4" cy="568.2" rx="1.9" ry="1.3" transform="rotate(167 638.4 568.2)" />
<ellipse class="bk" cx="641.3" cy="595.7" rx="1.0" ry="1.4" transform="rotate(177 641.3 595.7)" />
<ellipse class="bk" cx="652.2" cy="593.1" rx="2.1" ry="2.6" transform="rotate(154 652.2 593.1)" />
<ellipse class="lg" cx="641.4" cy="581.5" rx="1.7" ry="1.6" transform="rotate(21 641.4 581.5)" style="stroke-width:1.2;fill:none"/>
<ellipse class="bk" cx="639.4" cy="579.0" rx="1.5" ry="1.5" transform="rotate(129 639.4 579.0)" />
<ellipse class="bk" cx="649.3" cy="581.2" rx="2.1" ry="0.8" transform="rotate(94 649.3 581.2)" />
<ellipse class="bk" cx="645.1" cy="581.6" rx="2.1" ry="1.5" transform="rotate(128 645.1 581.6)" />
<ellipse class="bk" cx="636.8" cy="581.8" rx="1.6" ry="1.4" transform="rotate(89 636.8 581.8)" />
<ellipse class="bk" cx="650.0" cy="583.3" rx="1.1" ry="0.7" transform="rotate(68 650.0 583.3)" />
<ellipse class="bk" cx="636.3" cy="566.1" rx="1.3" ry="1.3" transform="rotate(93 636.3 566.1)" />
<ellipse class="bk" cx="653.8" cy="587.5" rx="1.5" ry="1.1" transform="rotate(29 653.8 587.5)" />
<ellipse class="bk" cx="639.7" cy="588.5" rx="1.1" ry="1.9" transform="rotate(57 639.7 588.5)" />
<ellipse class="bk" cx="648.6" cy="585.2" rx="1.9" ry="2.0" transform="rotate(107 648.6 585.2)" />
<ellipse class="bk" cx="639.3" cy="581.3" rx="1.8" ry="2.5" transform="rotate(93 639.3 581.3)" />
<ellipse class="bk" cx="637.9" cy="574.9" rx="1.3" ry="1.8" transform="rotate(52 637.9 574.9)" />
<ellipse class="bk" cx="651.3" cy="587.7" rx="1.3" ry="1.0" transform="rotate(135 651.3 587.7)" />
<ellipse class="bk" cx="637.0" cy="567.2" rx="1.4" ry="2.2" transform="rotate(29 637.0 567.2)" />
<ellipse class="bk" cx="637.2" cy="578.3" rx="1.9" ry="1.5" transform="rotate(147 637.2 578.3)" />
<ellipse class="lg" cx="654.3" cy="568.4" rx="1.4" ry="1.5" transform="rotate(171 654.3 568.4)" style="stroke-width:1.4;fill:none"/>
<ellipse class="bk" cx="640.4" cy="572.7" rx="0.9" ry="1.5" transform="rotate(51 640.4 572.7)" />
<ellipse class="bk" cx="643.2" cy="571.3" rx="1.0" ry="1.1" transform="rotate(97 643.2 571.3)" />
<ellipse class="bk" cx="648.1" cy="583.3" rx="1.7" ry="2.1" transform="rotate(82 648.1 583.3)" />
<ellipse class="bk" cx="642.6" cy="570.1" rx="1.6" ry="1.1" transform="rotate(145 642.6 570.1)" />
<ellipse class="bk" cx="647.5" cy="579.2" rx="0.9" ry="2.1" transform="rotate(105 647.5 579.2)" />
<ellipse class="bk" cx="640.1" cy="566.3" rx="0.8" ry="1.4" transform="rotate(74 640.1 566.3)" />
<ellipse class="bk" cx="625.5" cy="610.4" rx="1.2" ry="1.2" transform="rotate(121 625.5 610.4)" />
<ellipse class="bk" cx="636.8" cy="581.9" rx="1.5" ry="1.3" transform="rotate(174 636.8 581.9)" />
<ellipse class="bk" cx="636.0" cy="591.1" rx="1.1" ry="1.1" transform="rotate(72 636.0 591.1)" />
<ellipse class="bk" cx="624.8" cy="587.3" rx="1.7" ry="1.1" transform="rotate(148 624.8 587.3)" />
<ellipse class="bk" cx="636.4" cy="577.6" rx="0.9" ry="1.5" transform="rotate(21 636.4 577.6)" />
<ellipse class="bk" cx="636.2" cy="577.0" rx="1.1" ry="1.2" transform="rotate(141 636.2 577.0)" />
<ellipse class="bk" cx="627.6" cy="615.1" rx="1.3" ry="0.9" transform="rotate(53 627.6 615.1)" />
<ellipse class="bk" cx="636.7" cy="583.9" rx="1.6" ry="1.2" transform="rotate(166 636.7 583.9)" />
<ellipse class="bk" cx="625.4" cy="580.4" rx="0.8" ry="0.8" transform="rotate(111 625.4 580.4)" />
<ellipse class="bk" cx="631.8" cy="576.8" rx="0.7" ry="0.8" transform="rotate(57 631.8 576.8)" />
<ellipse class="bk" cx="623.6" cy="604.6" rx="1.5" ry="1.0" transform="rotate(2 623.6 604.6)" />
<ellipse class="bk" cx="633.7" cy="602.2" rx="1.5" ry="1.3" transform="rotate(70 633.7 602.2)" />
<ellipse class="bk" cx="624.5" cy="580.4" rx="1.3" ry="1.6" transform="rotate(94 624.5 580.4)" />
<ellipse class="bk" cx="637.0" cy="582.5" rx="0.7" ry="1.3" transform="rotate(156 637.0 582.5)" />
<ellipse class="bk" cx="635.0" cy="604.2" rx="0.8" ry="1.2" transform="rotate(161 635.0 604.2)" />
<ellipse class="bk" cx="630.4" cy="575.9" rx="1.4" ry="1.3" transform="rotate(167 630.4 575.9)" />
<ellipse class="bk" cx="633.9" cy="607.0" rx="1.1" ry="1.7" transform="rotate(43 633.9 607.0)" />
<ellipse class="bk" cx="634.7" cy="586.7" rx="1.5" ry="0.8" transform="rotate(63 634.7 586.7)" />
<ellipse class="bk" cx="635.3" cy="580.0" rx="0.9" ry="1.5" transform="rotate(94 635.3 580.0)" />
<ellipse class="bk" cx="634.3" cy="608.6" rx="1.1" ry="1.4" transform="rotate(121 634.3 608.6)" />
<ellipse class="bk" cx="635.5" cy="579.6" rx="1.5" ry="1.1" transform="rotate(14 635.5 579.6)" />
<ellipse class="bk" cx="625.9" cy="612.9" rx="1.0" ry="0.7" transform="rotate(152 625.9 612.9)" />
<ellipse class="bk" cx="635.9" cy="584.7" rx="0.9" ry="1.1" transform="rotate(101 635.9 584.7)" />
<ellipse class="bk" cx="635.0" cy="593.5" rx="0.9" ry="1.2" transform="rotate(107 635.0 593.5)" />
<ellipse class="bk" cx="633.2" cy="610.3" rx="0.8" ry="1.4" transform="rotate(61 633.2 610.3)" />
<ellipse class="bk" cx="635.0" cy="594.7" rx="0.8" ry="1.3" transform="rotate(17 635.0 594.7)" />
<ellipse class="bk" cx="627.2" cy="578.7" rx="1.2" ry="1.6" transform="rotate(74 627.2 578.7)" />
<ellipse class="bk" cx="624.3" cy="587.7" rx="1.7" ry="1.6" transform="rotate(67 624.3 587.7)" />
<ellipse class="bk" cx="625.5" cy="596.8" rx="1.4" ry="1.2" transform="rotate(100 625.5 596.8)" />
<ellipse class="bk" cx="631.9" cy="613.1" rx="1.3" ry="1.7" transform="rotate(135 631.9 613.1)" />
<path class="ln" d="M647.0,594.8 L656.0,594.8" stroke-width="1.5"/>
<ellipse class="bk" cx="639.1" cy="613.0" rx="1.4" ry="1.4" />
<ellipse class="bk" cx="642.7" cy="610.1" rx="1.3" ry="1.1" />
<ellipse class="bk" cx="648.1" cy="614.0" rx="1.0" ry="1.0" />
<ellipse class="bk" cx="630.7" cy="623.9" rx="2.0" ry="1.5" transform="rotate(-30 630.7 623.9)" />
<ellipse class="bk" cx="627.9" cy="631.1" rx="1.4" ry="2.4" transform="rotate(25 627.9 631.1)" />
<ellipse class="bk" cx="638.8" cy="628.2" rx="1.0" ry="1.0" />
<ellipse class="bk" cx="641.3" cy="599.2" rx="1.0" ry="1.0" />
<ellipse class="bk" cx="643.5" cy="602.8" rx="1.0" ry="1.0" />
<ellipse class="bk" cx="647.0" cy="602.0" rx="1.2" ry="1.8" />
<ellipse class="bk" cx="629.0" cy="615.5" rx="1.5" ry="2.0" /></g>
</g>
<rect class="frame" x="165.5" y="92.0" width="489.79999999999995" height="683.6"/>
<text class="tl" x="184.2" y="813.5" text-anchor="middle">92°E</text>
<text class="tl" x="325.9" y="813.5" text-anchor="middle">94°E</text>
<text class="tl" x="467.59999999999997" y="813.5" text-anchor="middle">96°E</text>
<text class="tl" x="609.3000000000001" y="813.5" text-anchor="middle">98°E</text>
<text class="tl" x="154.1" y="178.7" text-anchor="end">14°N</text>
<text class="tl" x="154.1" y="322.70000000000005" text-anchor="end">12°N</text>
<text class="tl" x="154.1" y="466.8" text-anchor="end">10°N</text>
<text class="tl" x="154.1" y="610.8000000000001" text-anchor="end">8°N</text>
<text class="tl" x="154.1" y="754.85" text-anchor="end">6°N</text>
<text class="tl" x="410.8" y="852.8" text-anchor="middle">Longitude</text>
</g>
<text class="pl" x="791.8" y="23.9">B</text>
<text class="tl" transform="translate(31.2,416) rotate(-90)" text-anchor="middle">Latitude</text>
<rect x="1325.4" y="83.7" width="29.09999999999991" height="686.5" fill="url(#cb)" stroke="#333" stroke-width="1"/>
<text class="tl" x="1366.6" y="784.7">0</text>
<line x1="1347.2" y1="632.9000000000001" x2="1354.5" y2="632.9000000000001" stroke="#222" stroke-width="1"/>
<text class="tl" x="1366.6" y="647.4000000000001">0.1</text>
<line x1="1347.2" y1="495.6" x2="1354.5" y2="495.6" stroke="#222" stroke-width="1"/>
<text class="tl" x="1366.6" y="510.1">0.2</text>
<line x1="1347.2" y1="358.30000000000007" x2="1354.5" y2="358.30000000000007" stroke="#222" stroke-width="1"/>
<text class="tl" x="1366.6" y="372.80000000000007">0.3</text>
<line x1="1347.2" y1="221.0" x2="1354.5" y2="221.0" stroke="#222" stroke-width="1"/>
<text class="tl" x="1366.6" y="235.5">0.4</text>
<text class="tl" x="1366.6" y="98.20000000000005">0.5</text>
<text class="tl" x="1276" y="61.8">unit:m/s</text>
</svg></body></html>
